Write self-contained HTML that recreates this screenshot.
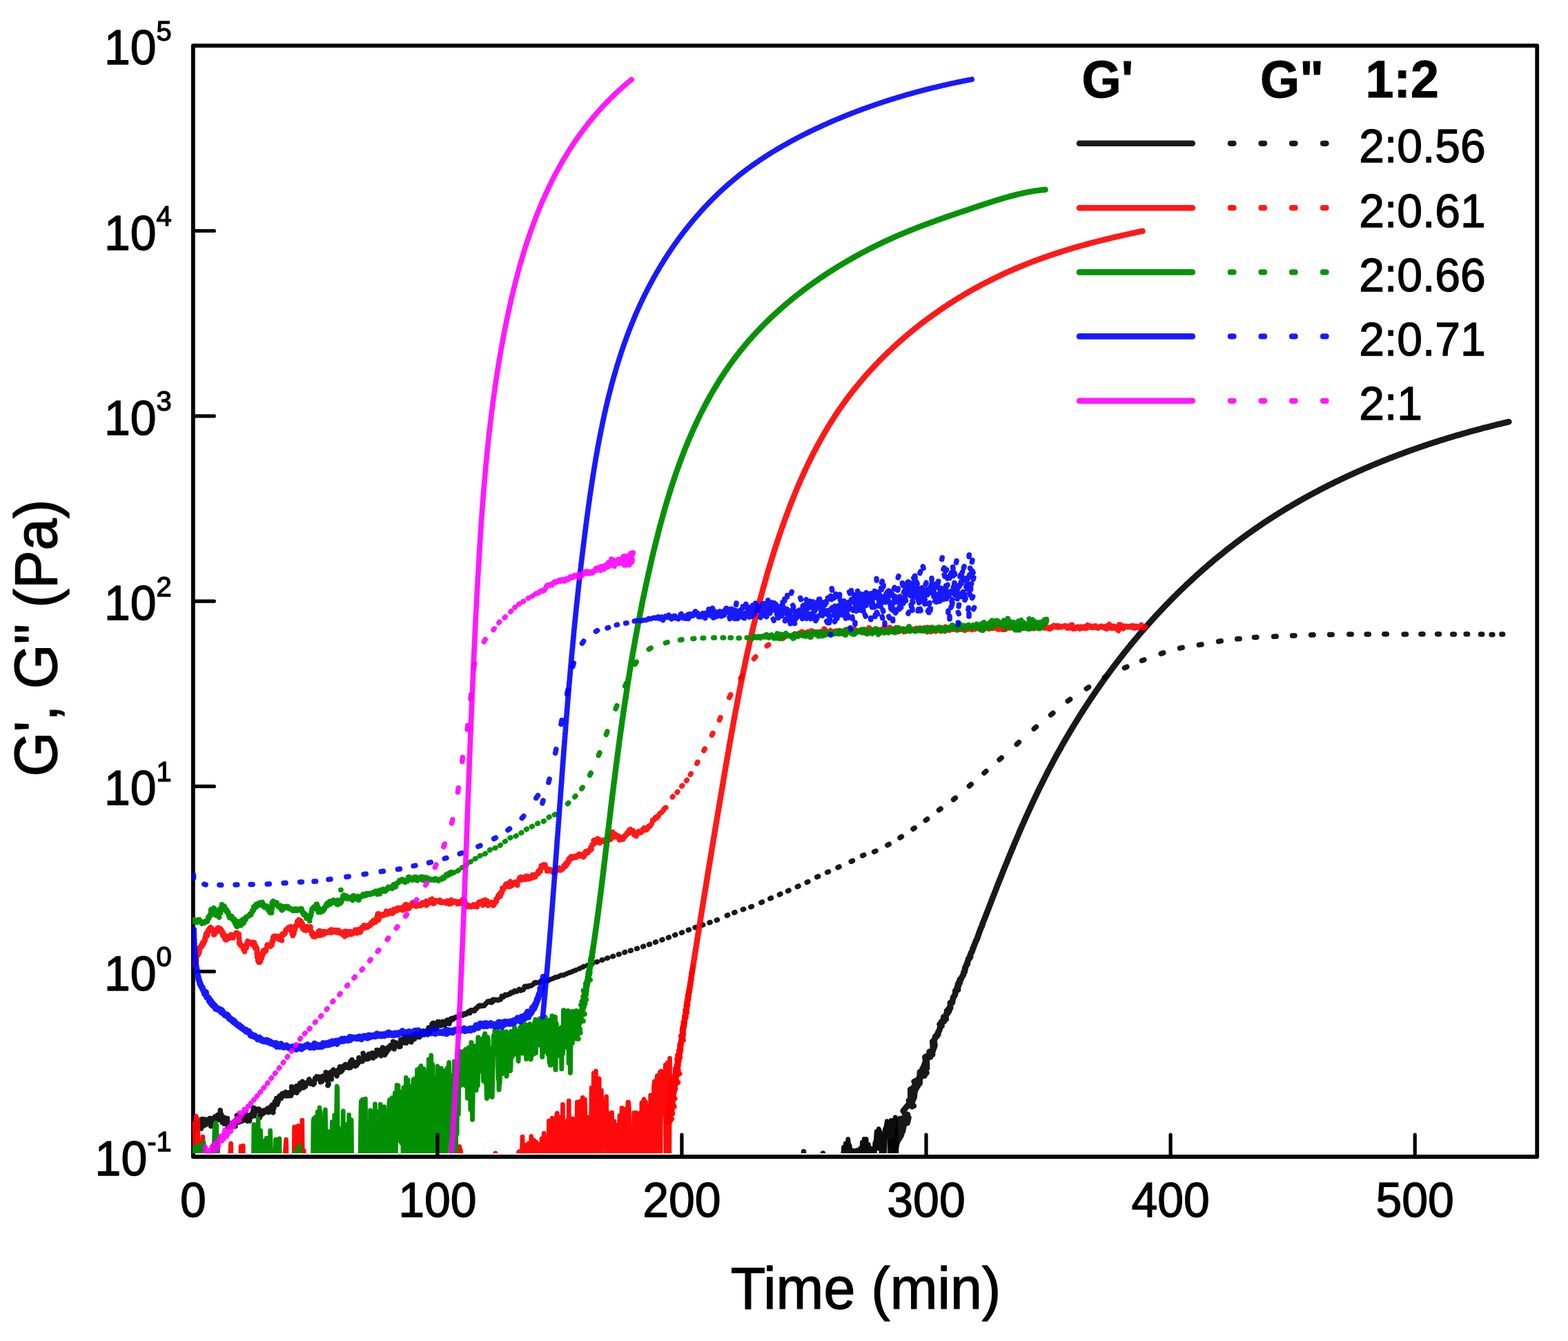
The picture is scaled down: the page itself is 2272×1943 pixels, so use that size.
<!DOCTYPE html>
<html lang="en">
<head>
<meta charset="utf-8">
<title>G', G" vs Time</title>
<style>
html,body{margin:0;padding:0;background:#fff;}
body{width:2272px;height:1943px;overflow:hidden;}
svg{display:block;}
text{font-family:"Liberation Sans",Arial,Helvetica,sans-serif;fill:#000;}
</style>
</head>
<body>
<svg width="2272" height="1943" viewBox="0 0 2272 1943">
<rect width="2272" height="1943" fill="#fff"/>
<defs><clipPath id="c"><rect x="278.6" y="66.2" width="1948.6" height="1604.7"/></clipPath></defs>
<g><rect x="279.8" y="66.2" width="1947.4" height="1609.8" fill="none" stroke="#000" stroke-width="5.8" stroke-linejoin="round"/></g>
<g clip-path="url(#c)">
<g><path d="M1219.4 1675.8L1220.9 1682.5L1222.6 1662.2L1224.1 1711.0L1225.3 1656.7L1226.7 1677.0L1228.8 1650.7L1230.2 1662.6L1231.2 1659.9L1232.9 1711.0L1234.3 1667.2L1235.7 1666.8L1237.6 1668.3L1239.3 1679.3L1240.8 1666.8L1242.4 1678.0L1243.3 1666.5L1245.1 1711.0L1246.8 1663.7L1247.9 1711.0L1249.4 1655.1L1251.1 1711.0L1252.2 1650.3L1253.8 1653.6L1255.2 1650.6L1257.0 1711.0L1258.3 1658.5L1259.8 1711.0L1261.5 1663.6L1263.0 1711.0L1264.8 1669.4L1266.3 1711.0L1267.7 1656.7L1269.2 1652.7L1270.2 1639.3L1272.1 1663.8L1273.3 1635.7L1275.3 1640.5L1276.6 1649.4L1277.7 1711.0L1279.3 1646.1L1281.0 1689.7L1282.3 1636.1L1283.9 1632.7L1285.3 1624.7L1287.0 1637.0L1288.5 1630.1L1289.8 1703.0L1291.2 1623.3L1293.3 1698.2L1294.1 1623.3L1296.2 1626.5L1297.2 1618.9L1298.9 1670.4" fill="none" stroke="#000000" stroke-width="6.8" stroke-linecap="round" stroke-linejoin="round" stroke-opacity="0.95"/><path d="M1164.5 1668.5L1164.6 1672.0M1192.5 1671.0L1192.6 1673.0" fill="none" stroke="#000000" stroke-width="7.5" stroke-linecap="round" stroke-linejoin="round" stroke-opacity="0.9"/><path d="M1297.8 1664.7L1298.2 1662.6L1299.8 1652.6L1291.5 1655.5L1295.0 1667.9L1299.0 1652.9L1294.8 1654.7L1298.6 1658.7L1304.3 1643.5L1303.4 1627.9L1300.2 1653.8L1305.9 1644.4L1303.7 1631.3L1299.6 1640.9L1311.2 1622.2L1307.8 1639.7L1309.6 1627.5L1305.0 1632.0L1303.9 1621.2L1305.1 1627.4L1310.1 1625.8L1309.7 1619.3L1307.6 1630.0L1310.5 1619.7L1314.6 1626.9L1316.4 1619.3L1312.6 1616.6L1314.0 1622.1L1315.0 1615.1L1314.6 1617.9L1308.8 1609.5L1318.5 1597.8L1323.6 1602.4L1317.0 1594.7L1320.9 1601.0L1317.1 1599.1L1321.6 1603.2L1320.9 1588.2L1319.3 1578.5L1319.5 1594.5L1323.7 1587.7L1322.1 1595.5L1324.6 1589.7L1325.6 1579.0L1329.5 1574.1L1322.7 1576.7L1324.8 1574.2L1325.9 1580.5L1328.3 1575.2L1324.8 1567.2L1332.4 1563.6L1333.3 1562.7L1331.8 1561.8L1332.3 1559.8L1332.0 1570.2L1332.5 1569.9L1333.0 1553.2L1335.0 1554.8L1339.5 1558.7L1338.9 1555.7L1342.4 1554.5L1339.0 1545.8L1336.7 1548.2L1341.4 1550.1L1338.3 1545.9L1341.3 1537.5L1342.7 1531.2L1343.0 1547.7L1341.3 1536.4L1340.4 1531.7L1346.2 1528.8L1345.5 1529.5L1345.6 1529.7L1347.9 1531.5L1349.3 1523.3L1351.1 1527.8L1346.7 1523.9L1351.6 1523.0L1351.9 1513.6L1351.3 1509.3L1352.3 1520.8L1354.4 1515.0L1353.3 1507.4L1353.2 1509.1L1354.4 1504.9L1358.1 1500.1L1355.3 1501.7L1357.8 1501.0L1356.8 1500.1L1359.4 1498.6L1358.9 1496.5L1361.4 1492.2L1361.6 1490.7L1364.4 1482.2L1361.6 1484.1L1363.8 1484.9L1364.5 1486.5L1363.9 1480.9L1366.3 1478.3L1367.8 1480.0L1367.4 1473.4L1370.7 1476.6L1370.2 1473.9L1370.5 1473.6L1371.3 1468.7L1372.8 1468.3L1372.1 1464.6L1374.7 1465.7L1376.2 1461.7L1374.5 1461.5L1377.2 1460.0L1377.1 1460.3L1376.9 1453.2L1377.7 1452.9L1379.3 1453.2L1380.1 1452.0L1380.0 1450.7L1380.7 1447.7L1381.4 1444.7L1382.9 1443.1L1384.1 1440.2L1384.3 1438.9L1384.3 1435.8L1384.8 1434.9L1388.1 1434.0L1386.9 1430.3L1388.8 1428.7L1387.9 1426.2L1389.0 1424.4L1390.8 1423.8L1390.3 1421.3L1391.3 1418.7L1391.8 1420.1L1393.2 1417.0L1394.6 1414.1L1395.2 1413.2L1395.7 1413.0L1396.5 1408.6L1397.4 1408.8L1398.3 1404.7L1398.2 1402.4L1399.0 1401.8L1400.4 1397.5L1400.8 1396.7L1401.8 1396.6L1401.9 1393.6L1402.6 1392.4L1403.1 1389.3L1404.2 1389.3L1406.1 1386.5L1405.5 1384.7L1406.3 1383.1L1407.0 1380.6L1408.1 1379.4L1408.8 1378.0L1409.6 1374.2L1410.5 1373.2L1410.8 1372.4L1411.5 1369.7L1412.3 1368.5L1413.1 1366.0L1413.6 1364.8L1414.4 1362.6L1415.6 1360.9L1416.5 1358.0L1416.9 1356.6L1417.6 1355.1L1418.3 1352.5L1418.9 1351.5L1419.5 1349.1L1420.3 1347.5L1420.9 1345.3L1421.8 1343.5L1422.8 1341.9L1423.2 1340.2L1423.9 1337.5L1424.6 1336.0L1425.5 1333.8L1426.2 1332.2L1426.9 1330.3L1427.7 1328.5L1428.3 1326.7L1429.1 1324.8L1429.8 1322.9L1430.5 1321.0L1431.3 1319.1L1432.0 1317.3L1432.7 1315.4L1433.4 1313.5L1434.2 1311.7L1434.9 1309.8L1435.6 1307.9L1436.3 1306.0L1437.1 1304.2L1437.8 1302.3L1438.5 1300.4L1439.2 1298.6L1440.0 1296.7L1440.7 1294.8L1441.4 1293.0L1442.2 1291.1L1442.9 1289.2L1443.6 1287.4L1444.4 1285.5L1445.1 1283.6L1445.8 1281.8L1446.6 1279.9L1447.3 1278.0L1448.0 1276.2L1448.8 1274.3L1449.5 1272.4L1450.3 1270.6L1451.0 1268.7L1451.8 1266.9L1452.5 1265.0L1453.2 1263.1L1454.0 1261.3L1454.7 1259.4L1455.5 1257.5L1456.2 1255.7L1457.0 1253.8L1457.7 1252.0L1458.5 1250.1L1459.3 1248.3L1460.0 1246.4L1460.8 1244.5L1461.5 1242.7L1462.3 1240.8L1463.0 1239.0L1463.8 1237.1L1464.6 1235.3L1465.3 1233.4L1466.1 1231.6L1466.9 1229.7L1467.7 1227.9L1468.4 1226.0L1469.2 1224.2L1470.0 1222.3L1470.8 1220.5L1471.5 1218.6L1472.3 1216.8L1473.1 1215.0L1473.9 1213.1L1474.7 1211.3L1475.5 1209.4L1476.3 1207.6L1477.0 1205.7L1477.8 1203.9L1478.6 1202.1L1479.4 1200.2L1480.2 1198.4L1481.0 1196.6L1481.8 1194.7L1482.7 1192.9L1483.5 1191.1L1484.3 1189.2L1485.1 1187.4L1485.9 1185.6L1486.7 1183.8L1487.5 1181.9L1488.4 1180.1L1489.2 1178.3L1490.0 1176.5L1490.9 1174.6L1491.7 1172.8L1492.5 1171.0L1493.4 1169.2L1494.2 1167.4L1495.0 1165.5L1495.9 1163.7L1496.7 1161.9L1497.6 1160.1L1498.4 1158.3L1499.3 1156.5L1500.2 1154.7L1501.0 1152.9L1501.9 1151.1L1502.7 1149.3L1503.6 1147.4L1504.5 1145.6L1505.4 1143.8L1506.2 1142.0L1507.1 1140.2L1508.0 1138.5L1508.9 1136.7L1509.8 1134.9L1510.7 1133.1L1511.6 1131.3L1512.5 1129.5L1513.4 1127.7L1514.3 1125.9L1515.2 1124.1L1516.1 1122.3L1517.0 1120.6L1517.9 1118.8L1518.8 1117.0L1519.8 1115.2L1520.7 1113.5L1521.6 1111.7L1522.6 1109.9L1523.5 1108.1L1524.4 1106.4L1525.4 1104.6L1526.3 1102.8L1527.3 1101.1L1528.2 1099.3L1529.2 1097.5L1530.1 1095.8L1531.1 1094.0L1532.1 1092.3L1533.0 1090.5L1534.0 1088.8L1535.0 1087.0L1536.0 1085.3L1537.0 1083.5L1537.9 1081.8L1538.9 1080.0L1539.9 1078.3L1540.9 1076.5L1541.9 1074.8L1542.9 1073.1L1543.9 1071.3L1544.9 1069.6L1545.9 1067.9L1546.9 1066.1L1548.0 1064.4L1549.0 1062.7L1550.0 1060.9L1551.0 1059.2L1552.1 1057.5L1553.1 1055.8L1554.1 1054.1L1555.2 1052.3L1556.2 1050.6L1557.3 1048.9L1558.3 1047.2L1559.4 1045.5L1560.4 1043.8L1561.5 1042.1L1562.5 1040.4L1563.6 1038.7L1564.7 1037.0L1565.7 1035.3L1566.8 1033.6L1567.9 1031.9L1569.0 1030.2L1570.0 1028.5L1571.1 1026.9L1572.2 1025.2L1573.3 1023.5L1574.4 1021.8L1575.5 1020.1L1576.6 1018.5L1577.7 1016.8L1578.8 1015.1L1579.9 1013.4L1581.0 1011.8L1582.2 1010.1L1583.3 1008.5L1584.4 1006.8L1585.5 1005.1L1586.7 1003.5L1587.8 1001.8L1588.9 1000.2L1590.1 998.5L1591.2 996.9L1592.4 995.2L1593.5 993.6L1594.7 992.0L1595.8 990.3L1597.0 988.7L1598.1 987.1L1599.3 985.4L1600.5 983.8L1601.6 982.2L1602.8 980.5L1604.0 978.9L1605.2 977.3L1606.4 975.7L1607.5 974.1L1608.7 972.5L1609.9 970.9L1611.1 969.3L1612.3 967.6L1613.5 966.0L1614.7 964.4L1615.9 962.8L1617.1 961.3L1618.4 959.7L1619.6 958.1L1620.8 956.5L1622.0 954.9L1623.3 953.3L1624.5 951.7L1625.7 950.2L1627.0 948.6L1628.2 947.0L1629.4 945.4L1630.7 943.9L1631.9 942.3L1633.2 940.8L1634.4 939.2L1635.7 937.6L1637.0 936.1L1638.2 934.5L1639.5 933.0L1640.8 931.4L1642.0 929.9L1643.3 928.4L1644.6 926.8L1645.9 925.3L1647.2 923.8L1648.5 922.2L1649.7 920.7L1651.0 919.2L1652.3 917.7L1653.6 916.1L1654.9 914.6L1656.3 913.1L1657.6 911.6L1658.9 910.1L1660.2 908.6L1661.5 907.1L1662.8 905.6L1664.2 904.1L1665.5 902.6L1666.8 901.1L1668.2 899.6L1669.5 898.1L1670.8 896.7L1672.2 895.2L1673.5 893.7L1674.9 892.2L1676.2 890.8L1677.6 889.3L1679.0 887.8L1680.3 886.4L1681.7 884.9L1683.1 883.5L1684.4 882.0L1685.8 880.6L1687.2 879.1L1688.6 877.7L1689.9 876.2L1691.3 874.8L1692.7 873.4L1694.1 871.9L1695.5 870.5L1696.9 869.1L1698.3 867.7L1699.7 866.2L1701.1 864.8L1702.6 863.4L1704.0 862.0L1705.4 860.6L1706.8 859.2L1708.2 857.8L1709.7 856.4L1711.1 855.0L1712.5 853.6L1714.0 852.2L1715.4 850.9L1716.8 849.5L1718.3 848.1L1719.7 846.7L1721.2 845.4L1722.6 844.0L1724.1 842.6L1725.6 841.3L1727.0 839.9L1728.5 838.6L1730.0 837.2L1731.4 835.9L1732.9 834.5L1734.4 833.2L1735.9 831.9L1737.4 830.5L1738.9 829.2L1740.3 827.9L1741.8 826.5L1743.3 825.2L1744.8 823.9L1746.3 822.6L1747.8 821.3L1749.4 820.0L1750.9 818.7L1752.4 817.4L1753.9 816.1L1755.4 814.8L1757.0 813.5L1758.5 812.2L1760.0 810.9L1761.5 809.7L1763.1 808.4L1764.6 807.1L1766.2 805.9L1767.7 804.6L1769.3 803.3L1770.8 802.1L1772.4 800.8L1773.9 799.6L1775.5 798.3L1777.1 797.1L1778.6 795.8L1780.2 794.6L1781.8 793.4L1783.3 792.2L1784.9 790.9L1786.5 789.7L1788.1 788.5L1789.7 787.3L1791.3 786.1L1792.9 784.9L1794.5 783.7L1796.1 782.5L1797.7 781.3L1799.3 780.1L1800.9 778.9L1802.5 777.7L1804.1 776.6L1805.7 775.4L1807.3 774.2L1809.0 773.0L1810.6 771.9L1812.2 770.7L1813.9 769.6L1815.5 768.4L1817.1 767.3L1818.8 766.1L1820.4 765.0L1822.1 763.9L1823.7 762.7L1825.4 761.6L1827.0 760.5L1828.7 759.4L1830.4 758.2L1832.0 757.1L1833.7 756.0L1835.4 754.9L1837.0 753.8L1838.7 752.7L1840.4 751.6L1842.1 750.6L1843.8 749.5L1845.5 748.4L1847.1 747.3L1848.8 746.2L1850.5 745.2L1852.2 744.1L1853.9 743.0L1855.6 742.0L1857.4 740.9L1859.1 739.9L1860.8 738.8L1862.5 737.8L1864.2 736.8L1865.9 735.7L1867.7 734.7L1869.4 733.7L1871.1 732.7L1872.8 731.6L1874.6 730.6L1876.3 729.6L1878.1 728.6L1879.8 727.6L1881.5 726.6L1883.3 725.6L1885.0 724.6L1886.8 723.6L1888.5 722.7L1890.3 721.7L1892.1 720.7L1893.8 719.7L1895.6 718.8L1897.3 717.8L1899.1 716.8L1900.9 715.9L1902.7 714.9L1904.4 714.0L1906.2 713.0L1908.0 712.1L1909.8 711.2L1911.6 710.2L1913.3 709.3L1915.1 708.4L1916.9 707.4L1918.7 706.5L1920.5 705.6L1922.3 704.7L1924.1 703.8L1925.9 702.9L1927.7 702.0L1929.5 701.1L1931.3 700.2L1933.1 699.3L1934.9 698.4L1936.7 697.5L1938.5 696.7L1940.4 695.8L1942.2 694.9L1944.0 694.0L1945.8 693.2L1947.6 692.3L1949.5 691.5L1951.3 690.6L1953.1 689.8L1955.0 688.9L1956.8 688.1L1958.6 687.2L1960.5 686.4L1962.3 685.6L1964.1 684.7L1966.0 683.9L1967.8 683.1L1969.7 682.3L1971.5 681.5L1973.3 680.7L1975.2 679.8L1977.0 679.0L1978.9 678.2L1980.7 677.4L1982.6 676.7L1984.5 675.9L1986.3 675.1L1988.2 674.3L1990.0 673.5L1991.9 672.7L1993.8 672.0L1995.6 671.2L1997.5 670.4L1999.4 669.7L2001.2 668.9L2003.1 668.2L2005.0 667.4L2006.8 666.7L2008.7 665.9L2010.6 665.2L2012.5 664.4L2014.3 663.7L2016.2 663.0L2018.1 662.3L2020.0 661.5L2021.9 660.8L2023.7 660.1L2025.6 659.4L2027.5 658.7L2029.4 658.0L2031.3 657.3L2033.2 656.6L2035.1 655.9L2037.0 655.2L2038.9 654.5L2040.7 653.8L2042.6 653.1L2044.5 652.4L2046.4 651.8L2048.3 651.1L2050.2 650.4L2052.1 649.8L2054.0 649.1L2055.9 648.4L2057.8 647.8L2059.7 647.1L2061.6 646.5L2063.5 645.8L2065.4 645.2L2067.3 644.6L2069.2 643.9L2071.2 643.3L2073.1 642.7L2075.0 642.0L2076.9 641.4L2078.8 640.8L2080.7 640.2L2082.6 639.6L2084.5 639.0L2086.4 638.4L2088.3 637.8L2090.2 637.2L2092.2 636.6L2094.1 636.0L2096.0 635.4L2097.9 634.8L2099.8 634.2L2101.7 633.6L2103.7 633.0L2105.6 632.5L2107.5 631.9L2109.4 631.3L2111.3 630.8L2113.2 630.2L2115.2 629.7L2117.1 629.1L2119.0 628.5L2120.9 628.0L2122.8 627.5L2124.7 626.9L2126.7 626.4L2128.6 625.8L2130.5 625.3L2132.4 624.8L2134.3 624.2L2136.3 623.7L2138.2 623.2L2140.1 622.7L2142.0 622.2L2144.0 621.7L2145.9 621.2L2147.8 620.6L2149.7 620.1L2151.6 619.6L2153.6 619.2L2155.5 618.7L2157.4 618.2L2159.3 617.7L2161.2 617.2L2163.2 616.7L2165.1 616.2L2167.0 615.8L2168.9 615.3L2170.8 614.8L2172.8 614.4L2174.7 613.9L2176.6 613.4L2178.5 613.0L2180.4 612.5L2182.4 612.1L2184.3 611.6L2186.2 611.2" fill="none" stroke="#000000" stroke-width="8.8" stroke-linecap="round" stroke-linejoin="round" stroke-opacity="0.9"/><path d="M282.6 1627.8L281.5 1630.0M283.4 1633.5L282.8 1636.0M285.6 1631.1L284.6 1633.4M286.4 1625.4L286.7 1627.9M288.3 1627.6L287.8 1630.1M289.8 1630.0L289.2 1632.4M291.4 1632.7L291.3 1635.2M292.9 1621.6L292.7 1624.1M294.5 1629.3L293.9 1631.7M295.9 1624.8L296.2 1627.2M297.3 1622.0L297.6 1624.4M299.4 1627.5L298.2 1629.7M299.9 1625.3L300.4 1627.7M301.4 1623.2L301.6 1625.7M303.0 1623.9L302.7 1626.3M303.7 1620.4L304.7 1622.7M306.4 1629.4L305.6 1631.7M307.3 1620.7L307.4 1623.2M309.0 1624.2L308.5 1626.6M310.8 1627.2L309.6 1629.4M311.6 1618.1L311.7 1620.6M312.6 1620.8L313.5 1623.2M314.4 1616.8L314.6 1619.3M316.0 1615.2L315.9 1617.7M318.0 1620.1L317.4 1622.5M319.2 1608.7L319.3 1611.2M320.6 1614.9L320.1 1617.4M321.7 1619.5L321.1 1621.9M322.6 1623.8L322.2 1626.3M323.1 1621.6L323.6 1624.1M323.5 1625.9L324.6 1628.2M324.9 1619.3L325.2 1621.7M326.3 1625.6L325.9 1628.0M328.1 1623.0L327.1 1625.3M329.3 1620.4L329.3 1622.9M331.7 1631.0L330.5 1633.2M332.9 1627.6L332.2 1630.0M334.1 1627.4L333.9 1629.9M335.4 1629.1L335.7 1631.6M337.8 1626.9L337.4 1629.4M339.6 1625.1L338.7 1627.4M340.4 1629.5L341.0 1631.9M342.7 1621.4L341.8 1623.7M343.3 1616.1L344.3 1618.4M344.8 1620.6L345.8 1622.9M347.2 1623.6L346.3 1626.0M349.0 1618.7L348.2 1621.1M349.8 1622.0L350.2 1624.5M351.1 1620.4L351.5 1622.9M352.6 1619.5L353.6 1621.8M354.4 1620.6L354.5 1623.1M356.3 1614.6L355.3 1616.8M357.0 1614.9L357.2 1617.4M359.4 1621.9L358.3 1624.2M360.7 1617.2L359.7 1619.5M361.5 1621.6L361.6 1624.1M362.6 1616.4L363.1 1618.8M364.2 1614.6L364.2 1617.1M366.0 1612.1L366.0 1614.6M367.6 1605.1L367.1 1607.6M369.1 1614.4L368.3 1616.8M370.2 1607.8L370.9 1610.2M372.4 1607.5L371.5 1609.8M373.4 1607.3L373.3 1609.8M375.0 1607.0L374.4 1609.5M376.6 1616.7L376.5 1619.2M378.4 1609.4L377.5 1611.7M379.2 1612.0L379.4 1614.5M380.7 1610.7L381.7 1613.0M382.6 1609.1L382.6 1611.6M384.3 1608.9L383.8 1611.4M386.0 1608.3L385.9 1610.8M387.8 1606.0L387.2 1608.4M388.5 1609.3L389.6 1611.6M391.1 1606.6L390.2 1609.0M392.4 1603.6L392.0 1606.0M394.3 1601.1L393.9 1603.6M394.9 1609.6L395.8 1611.9M396.9 1603.7L396.6 1606.2M398.2 1596.4L397.7 1598.8M398.5 1598.8L399.2 1601.2M400.3 1596.8L399.5 1599.2M400.6 1591.4L400.7 1593.9M401.0 1593.3L401.9 1595.6M402.2 1597.9L401.7 1600.3M403.0 1593.5L403.2 1596.0M404.4 1590.3L403.6 1592.7M405.1 1588.0L404.8 1590.4M406.4 1588.1L406.4 1590.6M407.9 1588.9L407.2 1591.4M409.0 1584.6L409.4 1587.1M411.1 1586.2L410.0 1588.5M412.2 1583.7L412.5 1586.1M414.2 1582.5L413.2 1584.8M414.8 1585.6L415.5 1588.0M416.5 1584.8L416.6 1587.3M418.0 1585.4L419.0 1587.6M420.5 1582.3L419.4 1584.5M421.3 1585.0L421.5 1587.5M422.6 1574.7L422.9 1577.2M424.2 1580.8L425.0 1583.2M426.3 1576.1L425.5 1578.5M426.9 1579.9L427.6 1582.3M429.6 1573.7L428.5 1575.9M430.8 1581.0L430.0 1583.3M431.8 1576.1L431.6 1578.6M433.4 1576.3L433.6 1578.8M434.8 1569.4L434.9 1571.9M436.2 1573.6L436.1 1576.1M438.3 1567.2L437.6 1569.6M439.0 1573.5L439.6 1576.0M441.7 1569.3L440.5 1571.5M442.5 1571.7L442.4 1574.2M444.3 1569.3L443.4 1571.6M446.0 1567.5L445.3 1569.9M447.5 1567.0L446.6 1569.3M447.9 1563.9L449.0 1566.2M450.6 1567.8L449.9 1570.2M451.7 1567.6L451.7 1570.1M453.2 1568.9L453.9 1571.3M454.6 1567.3L455.3 1569.7M456.5 1562.6L456.2 1565.1M458.8 1560.0L457.6 1562.2M459.6 1560.3L459.6 1562.8M461.2 1560.3L460.9 1562.7M462.5 1561.4L463.3 1563.8M464.1 1565.2L464.5 1567.7M465.9 1564.3L466.4 1566.8M467.2 1559.3L468.0 1561.7M469.3 1559.6L468.6 1562.0M470.5 1561.1L471.2 1563.5M472.2 1553.8L472.4 1556.3M473.6 1564.4L474.6 1566.7M476.1 1570.5L475.0 1572.7M477.5 1555.4L476.3 1557.6M478.8 1553.7L478.8 1556.2M480.0 1561.3L480.3 1563.8M481.6 1554.2L482.4 1556.5M483.0 1550.1L483.6 1552.5M484.9 1552.5L485.2 1555.0M485.9 1553.7L486.8 1556.1M487.2 1556.6L488.1 1559.0M489.8 1550.3L488.9 1552.7M490.3 1551.6L490.9 1554.0M492.5 1545.8L492.1 1548.2M493.1 1550.7L493.9 1553.0M495.2 1550.1L494.4 1552.4M496.8 1548.3L496.1 1550.7M497.2 1544.9L498.4 1547.1M499.2 1543.8L499.8 1546.2M500.4 1542.4L501.2 1544.8M503.2 1544.3L502.0 1546.5M504.1 1543.4L503.8 1545.9M506.3 1544.9L505.3 1547.2M507.7 1538.5L506.7 1540.8M509.1 1544.4L508.0 1546.7M509.9 1535.6L511.0 1537.9M512.0 1540.4L511.7 1542.9M514.0 1539.8L513.5 1542.3M515.7 1542.5L514.6 1544.7M517.3 1540.9L516.8 1543.4M518.4 1538.3L518.5 1540.8M520.0 1532.6L520.7 1535.0M521.5 1535.5L521.9 1538.0M523.6 1535.1L522.6 1537.4M525.1 1535.3L524.8 1537.8M526.1 1526.2L526.6 1528.7M528.8 1532.5L527.6 1534.7M529.4 1532.2L529.8 1534.7M531.2 1530.1L531.8 1532.5M532.5 1531.8L533.3 1534.2M534.4 1527.4L535.1 1529.8M535.5 1530.1L536.7 1532.3M538.2 1527.9L537.7 1530.3M539.4 1525.8L539.4 1528.3M541.6 1530.5L540.8 1532.9M542.9 1528.3L542.3 1530.7M544.6 1527.7L544.4 1530.2M546.0 1521.6L545.8 1524.1M547.5 1522.0L547.1 1524.5M549.3 1522.4L549.0 1524.9M550.7 1521.8L550.4 1524.3M552.8 1527.2L552.0 1529.6M554.2 1517.9L553.4 1520.3M555.6 1524.9L555.7 1527.4M556.6 1526.2L557.5 1528.5M558.5 1519.2L559.2 1521.6M560.7 1522.8L559.8 1525.1M561.8 1519.1L562.3 1521.6M563.1 1517.2L563.7 1519.6M565.8 1514.6L564.6 1516.8M567.0 1514.8L566.1 1517.1M568.5 1514.9L568.1 1517.4M569.6 1509.2L569.7 1511.7M571.7 1517.4L571.1 1519.8M573.3 1511.6L572.2 1513.8M574.1 1511.0L575.0 1513.3M575.7 1512.5L576.1 1515.0M577.2 1514.2L578.1 1516.5M579.0 1514.0L580.0 1516.3M580.6 1506.4L581.1 1508.8M583.3 1508.4L582.2 1510.7M584.0 1508.4L584.3 1510.9M586.0 1502.6L586.0 1505.1M587.7 1508.6L587.1 1511.0M589.7 1508.7L588.8 1511.0M590.4 1502.4L591.0 1504.8M592.8 1505.1L592.3 1507.5M593.9 1502.3L594.0 1504.8M595.9 1507.3L595.8 1509.8M597.0 1504.4L597.4 1506.9M599.3 1499.5L598.8 1502.0M600.3 1502.8L600.4 1505.3M602.5 1500.3L601.9 1502.7M603.7 1497.7L604.3 1500.1M605.8 1499.9L604.8 1502.2M606.8 1500.2L607.4 1502.7M608.7 1499.4L608.1 1501.9M610.7 1496.0L609.8 1498.3M611.0 1496.6L612.1 1498.8M613.0 1493.9L613.7 1496.3M614.2 1495.5L615.1 1497.8M616.0 1495.0L616.9 1497.3M617.4 1493.7L618.2 1496.1M620.1 1496.0L619.1 1498.3M621.1 1489.1L621.7 1491.6M622.5 1493.2L622.9 1495.7M624.7 1488.8L624.3 1491.2M625.9 1484.1L625.8 1486.6M627.4 1482.4L627.8 1484.8M628.6 1483.4L629.3 1485.8M631.0 1488.6L630.5 1491.1M632.4 1490.2L632.7 1489.2M633.6 1481.5L634.2 1480.7M635.4 1481.3L636.0 1480.6M636.6 1485.6L637.5 1485.1M638.7 1486.1L639.1 1485.2M640.4 1481.3L641.1 1480.6M641.8 1482.5L642.5 1481.9M643.5 1485.3L644.5 1485.5M644.9 1480.3L645.9 1480.5M646.9 1482.0L647.7 1481.4M648.2 1478.0L649.2 1478.0M650.1 1482.8L651.0 1483.2M651.9 1478.9L652.9 1478.8M653.4 1476.1L654.2 1475.6M655.2 1477.0L656.2 1477.0M657.0 1475.2L658.0 1475.1M658.8 1474.9L659.8 1474.8M660.6 1473.7L661.5 1474.0M662.5 1473.6L663.3 1473.0M664.9 1472.6L665.4 1471.7M666.5 1469.8L667.4 1470.0M668.7 1470.7L669.7 1470.7M670.8 1471.0L671.3 1470.2M672.8 1468.8L673.8 1468.7M675.2 1469.4L676.0 1468.8M677.6 1467.0L678.2 1466.2M679.7 1467.5L680.7 1467.7M682.0 1464.1L683.0 1464.3M684.3 1463.8L685.3 1463.9M686.6 1464.7L687.5 1464.5M689.3 1461.5L690.3 1461.4M691.9 1459.7L692.3 1458.8M693.9 1457.4L694.8 1457.0M696.7 1457.7L697.6 1457.2M698.9 1457.1L699.9 1457.3M701.8 1456.9L702.5 1456.2M704.0 1454.0L704.9 1453.6M706.7 1451.2L707.6 1451.0M708.9 1450.8L709.9 1450.8M711.7 1452.4L712.7 1452.3M714.0 1448.7L714.9 1448.3M716.8 1449.2L717.5 1448.6M719.0 1448.7L719.9 1448.9M721.8 1449.1L722.6 1448.6M724.4 1447.8L725.4 1448.1M727.2 1443.4L728.2 1443.5M729.6 1444.2L730.2 1443.4M732.2 1441.4L733.2 1441.8M735.0 1441.6L735.9 1441.1M737.7 1440.4L738.7 1440.3M740.5 1438.1L741.5 1437.9M743.5 1438.1L743.9 1437.2M746.0 1435.7L747.0 1436.1M748.8 1436.5L749.7 1436.0M751.8 1434.2L752.3 1433.4M754.4 1435.1L755.3 1434.6M757.1 1433.9L758.1 1434.0M760.0 1429.7L760.8 1429.1M762.9 1429.9L763.5 1429.1M765.7 1429.3L766.3 1428.5M768.3 1428.3L769.3 1428.2M771.7 1427.0L772.5 1426.3M774.5 1424.0L775.4 1423.6M777.3 1423.9L778.2 1423.8M780.9 1423.6L781.2 1423.5M783.8 1421.3L784.1 1421.2M787.2 1421.8L787.5 1421.7M790.5 1420.9L790.8 1420.8M793.9 1420.9L794.2 1420.8M797.3 1419.1L797.6 1419.0M801.2 1417.7L801.5 1417.6M804.5 1416.1L804.8 1416.0M808.4 1415.3L808.7 1415.2M812.7 1413.2L812.9 1413.1M816.4 1412.9L816.7 1412.8M820.6 1411.0L820.9 1410.9M824.8 1409.3L825.2 1409.2M829.4 1407.6L829.8 1407.4M834.0 1405.8L834.5 1405.6M839.5 1403.4L840.0 1403.2M845.0 1400.8L845.6 1400.5M851.1 1398.9L851.7 1398.7M857.6 1396.2L858.3 1396.0M864.6 1393.8L865.4 1393.5M872.2 1391.0L873.0 1390.8M879.7 1388.3L880.6 1388.0M887.7 1385.8L888.6 1385.5M896.3 1382.8L897.2 1382.5M904.8 1380.0L905.8 1379.6M913.4 1377.4L914.4 1377.1M922.5 1374.5L923.4 1374.2M931.5 1371.5L932.5 1371.2M940.5 1368.4L941.5 1368.1M949.4 1365.2L950.5 1364.8M958.9 1361.9L959.9 1361.5M968.3 1358.5L969.3 1358.2M977.7 1354.9L978.7 1354.5M987.5 1351.4L988.6 1351.0M997.3 1347.6L998.4 1347.2M1007.1 1343.9L1008.3 1343.5M1017.5 1340.4L1018.7 1340.0M1027.9 1336.8L1029.1 1336.4M1038.3 1333.2L1039.5 1332.8" fill="none" stroke="#000000" stroke-width="7.5" stroke-linecap="round" stroke-linejoin="round" stroke-opacity="0.9"/><path d="M1053.3 1326.5L1054.5 1326.0M1063.8 1322.3L1065.1 1321.8M1076.3 1317.8L1077.7 1317.3M1087.8 1314.0L1089.4 1313.4M1102.8 1307.7L1104.5 1307.0M1115.8 1301.9L1117.4 1301.2M1129.4 1296.1L1130.9 1295.4M1141.5 1290.9L1143.1 1290.2M1155.3 1284.7L1157.0 1284.0M1169.2 1278.4L1170.9 1277.6M1183.8 1270.7L1185.6 1269.8M1198.7 1263.9L1200.5 1263.1M1214.0 1256.9L1216.1 1255.9M1233.2 1248.2L1235.5 1247.2M1249.7 1239.8L1251.8 1238.9M1266.6 1234.1L1268.9 1233.1M1285.9 1224.6L1288.2 1223.3M1304.0 1213.7L1306.4 1212.2M1323.0 1201.2L1325.3 1199.6M1341.3 1188.5L1343.7 1186.8M1360.5 1173.8L1363.1 1171.8M1381.6 1158.5L1384.4 1156.2M1404.4 1138.9L1407.2 1136.4M1426.0 1120.0L1428.8 1117.5M1448.1 1100.7L1451.2 1098.0M1473.1 1078.5L1476.4 1075.5M1498.2 1056.0L1501.5 1053.2M1522.6 1035.8L1525.8 1033.2M1547.2 1015.7L1550.6 1013.2M1574.2 997.8L1577.6 995.6M1600.4 981.4L1604.0 979.5M1629.4 967.7L1632.9 966.2M1654.5 957.2L1657.9 955.9M1682.2 947.1L1685.8 945.9M1709.6 939.2L1713.2 938.4M1737.4 934.4L1741.0 933.8M1765.6 929.4L1769.2 928.8M1792.8 925.8L1796.1 925.5M1817.4 923.4L1820.9 923.2M1845.6 922.2L1849.1 922.1M1872.6 921.1L1876.1 920.9M1899.6 919.9L1903.1 919.8M1926.6 919.5L1930.2 919.4M1954.9 919.1L1958.3 919.1M1980.1 919.1L1983.3 919.1M2005.8 918.7L2009.3 918.7M2034.1 919.1L2037.5 919.1M2058.9 918.7L2062.0 918.7M2082.6 918.7L2085.5 918.7M2104.7 919.1L2107.3 919.1M2124.1 918.7L2126.6 918.7M2145.4 919.0L2147.7 919.1M2161.1 919.5L2162.9 919.5M2175.8 919.1L2177.6 919.1" fill="none" stroke="#000000" stroke-width="7.5" stroke-linecap="round" stroke-linejoin="round" stroke-opacity="0.9"/></g>
<g><path d="M281.0 1627.5L281.8 1636.6L282.6 1696.0L283.4 1635.2L284.2 1617.2L285.0 1696.0L285.8 1692.6L286.6 1621.2L287.4 1696.0L288.2 1680.4L289.0 1696.0L289.8 1696.0L290.6 1657.3L291.4 1696.0L292.2 1656.1L293.0 1696.0L293.8 1647.1L294.6 1696.0L295.4 1696.0L296.2 1696.0L297.0 1692.1L297.8 1696.0L298.6 1696.0L299.4 1696.0L300.2 1696.0L301.0 1696.0L301.8 1680.5L302.6 1696.0L303.4 1696.0L304.2 1696.0L305.0 1696.0L305.8 1691.7L306.6 1696.0L307.4 1680.6L308.2 1696.0L309.0 1696.0L309.8 1696.0L310.6 1696.0L311.4 1696.0L312.2 1696.0L313.0 1684.9L313.8 1696.0L314.6 1696.0L315.4 1696.0L316.2 1696.0L317.0 1696.0L317.8 1680.2L318.6 1696.0L319.4 1696.0L320.2 1689.3L321.0 1696.0L321.8 1696.0L322.6 1696.0L323.4 1696.0L324.2 1696.0L325.0 1696.0L325.8 1696.0L326.6 1696.0L327.4 1696.0L328.2 1696.0L329.0 1696.0L329.8 1696.0L330.6 1696.0L331.4 1696.0L332.2 1696.0L333.0 1696.0L333.8 1668.1L334.6 1656.8L335.4 1696.0L336.2 1696.0L337.0 1675.4L337.8 1696.0L338.6 1696.0L339.4 1696.0L340.2 1696.0L341.0 1696.0L341.8 1696.0L342.6 1696.0L343.4 1696.0L344.2 1696.0L345.0 1696.0L345.8 1696.0L346.6 1696.0L347.4 1696.0L348.2 1696.0L349.0 1660.9L349.8 1696.0L350.6 1691.0L351.4 1676.2L352.2 1660.1L353.0 1696.0L353.8 1696.0L354.6 1689.7L355.4 1696.0L356.2 1696.0L357.0 1696.0L357.8 1696.0L358.6 1683.2L359.4 1696.0L360.2 1696.0L361.0 1690.5L361.8 1696.0L362.6 1696.0L363.4 1696.0L364.2 1696.0L365.0 1696.0L365.8 1679.8L366.6 1696.0L367.4 1696.0L368.2 1696.0L369.0 1696.0L369.8 1696.0L370.6 1696.0L371.4 1696.0L372.2 1696.0L373.0 1696.0L373.8 1696.0L374.6 1696.0L375.4 1696.0L376.2 1696.0L377.0 1696.0L377.8 1696.0L378.6 1679.9L379.4 1696.0L380.2 1696.0L381.0 1681.2L381.8 1696.0L382.6 1696.0L383.4 1696.0L384.2 1694.7L385.0 1696.0L385.8 1696.0L386.6 1696.0L387.4 1696.0L388.2 1678.9L389.0 1685.7L389.8 1696.0L390.6 1696.0L391.4 1681.0L392.2 1696.0L393.0 1696.0L393.8 1696.0L394.6 1696.0L395.4 1696.0L396.2 1696.0L397.0 1696.0L397.8 1696.0L398.6 1696.0L399.4 1696.0L400.2 1696.0L401.0 1696.0L401.8 1696.0L402.6 1696.0L403.4 1696.0L404.2 1696.0L405.0 1696.0L405.8 1696.0L406.6 1696.0L407.4 1696.0L408.2 1696.0L409.0 1696.0L409.8 1683.2L410.6 1696.0L411.4 1678.7L412.2 1687.7L413.0 1672.4L413.8 1661.4L414.6 1651.0L415.4 1696.0L416.2 1696.0L417.0 1678.2L417.8 1696.0L418.6 1696.0L419.4 1696.0L420.2 1677.9L421.0 1696.0L421.8 1696.0L422.6 1696.0L423.4 1695.7L424.2 1687.1L425.0 1682.5L425.8 1696.0L426.6 1632.9L427.4 1696.0L428.2 1696.0L429.0 1649.8L429.8 1661.1L430.6 1696.0L431.4 1696.0L432.2 1631.0L433.0 1634.6L433.8 1696.0L434.6 1696.0L435.4 1642.7L436.2 1658.9L437.0 1696.0L437.8 1623.1L438.6 1696.0L439.4 1696.0L440.2 1667.3L441.0 1696.0L441.8 1677.9L442.6 1696.0L443.4 1696.0L444.2 1692.6L445.0 1696.0L445.8 1696.0L446.6 1696.0L447.4 1677.9L448.2 1696.0L449.0 1696.0L449.8 1686.9L450.6 1696.0L451.4 1696.0L452.2 1696.0L453.0 1696.0L453.8 1696.0L454.6 1696.0L455.4 1683.9L456.2 1696.0L457.0 1696.0L457.8 1696.0L458.6 1694.8L459.4 1696.0L460.2 1696.0L461.0 1696.0L461.8 1696.0L462.6 1696.0L463.4 1696.0L464.2 1679.9L465.0 1696.0L465.8 1695.8L466.6 1696.0L467.4 1695.1L468.2 1696.0L469.0 1696.0L469.8 1684.7L470.6 1696.0L471.4 1696.0L472.2 1682.4L473.0 1696.0L473.8 1696.0L474.6 1676.9L475.4 1696.0L476.2 1688.6L477.0 1696.0L477.8 1696.0L478.6 1696.0L479.4 1696.0L480.2 1680.8L481.0 1693.4L481.8 1696.0L482.6 1696.0L483.4 1696.0L484.2 1696.0L485.0 1696.0L485.8 1696.0L486.6 1685.2L487.4 1696.0L488.2 1696.0L489.0 1696.0L489.8 1696.0L490.6 1679.8L491.4 1696.0L492.2 1696.0L493.0 1696.0L493.8 1696.0L494.6 1696.0L495.4 1696.0L496.2 1696.0L497.0 1696.0L497.8 1696.0L498.6 1678.5L499.4 1696.0L500.2 1696.0L501.0 1696.0L501.8 1696.0L502.6 1689.5L503.4 1696.0L504.2 1687.8L505.0 1680.7L505.8 1696.0L506.6 1696.0L507.4 1696.0L508.2 1681.5L509.0 1696.0L509.8 1696.0L510.6 1696.0L511.4 1696.0L512.2 1696.0L513.0 1696.0L513.8 1696.0L514.6 1687.4L515.4 1696.0L516.2 1696.0L517.0 1686.9L517.8 1696.0L518.6 1693.0L519.4 1683.7L520.2 1696.0L521.0 1696.0L521.8 1696.0L522.6 1682.3L523.4 1696.0L524.2 1696.0L525.0 1696.0L525.8 1696.0L526.6 1689.4L527.4 1696.0L528.2 1696.0L529.0 1682.6L529.8 1696.0L530.6 1696.0L531.4 1696.0L532.2 1683.2L533.0 1696.0L533.8 1696.0L534.6 1696.0L535.4 1688.6L536.2 1696.0L537.0 1696.0L537.8 1696.0L538.6 1696.0L539.4 1678.7L540.2 1696.0L541.0 1689.8L541.8 1696.0L542.6 1696.0L543.4 1696.0L544.2 1696.0L545.0 1696.0L545.8 1696.0L546.6 1696.0L547.4 1696.0L548.2 1696.0L549.0 1696.0L549.8 1696.0L550.6 1695.4L551.4 1696.0L552.2 1696.0L553.0 1696.0L553.8 1684.8L554.6 1696.0L555.4 1696.0L556.2 1696.0L557.0 1696.0L557.8 1696.0L558.6 1696.0L559.4 1687.6L560.2 1696.0L561.0 1693.1L561.8 1685.5L562.6 1696.0L563.4 1696.0L564.2 1696.0L565.0 1696.0L565.8 1696.0L566.6 1684.1L567.4 1687.3L568.2 1696.0L569.0 1696.0L569.8 1696.0L570.6 1679.3L571.4 1696.0L572.2 1696.0L573.0 1696.0L573.8 1696.0L574.6 1696.0L575.4 1696.0L576.2 1696.0L577.0 1688.7L577.8 1696.0L578.6 1696.0L579.4 1680.7L580.2 1688.4L581.0 1681.5L581.8 1696.0L582.6 1696.0L583.4 1696.0L584.2 1677.9L585.0 1693.0L585.8 1696.0L586.6 1683.8L587.4 1696.0L588.2 1691.9L589.0 1673.7L589.8 1696.0L590.6 1696.0L591.4 1683.5L592.2 1696.0L593.0 1696.0L593.8 1696.0L594.6 1696.0L595.4 1696.0L596.2 1696.0L597.0 1696.0L597.8 1696.0L598.6 1684.3L599.4 1696.0L600.2 1696.0L601.0 1696.0L601.8 1696.0L602.6 1682.3L603.4 1696.0L604.2 1696.0L605.0 1696.0L605.8 1696.0L606.6 1696.0L607.4 1696.0L608.2 1696.0L609.0 1696.0L609.8 1696.0L610.6 1696.0L611.4 1688.2L612.2 1696.0L613.0 1696.0L613.8 1683.6L614.6 1696.0L615.4 1682.4L616.2 1696.0L617.0 1696.0L617.8 1696.0L618.6 1696.0L619.4 1696.0L620.2 1696.0L621.0 1696.0L621.8 1685.4L622.6 1687.6L623.4 1696.0L624.2 1696.0L625.0 1696.0L625.8 1696.0L626.6 1687.1L627.4 1696.0L628.2 1696.0L629.0 1696.0L629.8 1696.0L630.6 1696.0L631.4 1696.0L632.2 1696.0L633.0 1696.0L633.8 1696.0L634.6 1696.0L635.4 1696.0L636.2 1696.0L637.0 1696.0L637.8 1696.0L638.6 1696.0L639.4 1696.0L640.2 1696.0L641.0 1696.0L641.8 1689.1L642.6 1696.0L643.4 1696.0L644.2 1696.0L645.0 1696.0L645.8 1684.5L646.6 1696.0L647.4 1696.0L648.2 1696.0L649.0 1696.0L649.8 1691.3L650.6 1696.0L651.4 1696.0L652.2 1677.4L653.0 1696.0L653.8 1692.1L654.6 1680.1L655.4 1696.0L656.2 1696.0L657.0 1696.0L657.8 1696.0L658.6 1695.9L659.4 1696.0L660.2 1696.0L661.0 1696.0L661.8 1692.7L662.6 1696.0L663.4 1678.0L664.2 1696.0L665.0 1696.0L665.8 1661.4L666.6 1696.0L667.4 1666.0L668.2 1673.0L669.0 1696.0L669.8 1696.0L670.6 1696.0L671.4 1696.0L672.2 1696.0L673.0 1679.4L673.8 1691.5L674.6 1696.0L675.4 1695.6L676.2 1696.0L677.0 1696.0L677.8 1696.0L678.6 1690.9L679.4 1696.0L680.2 1696.0L681.0 1695.8L681.8 1696.0L682.6 1696.0L683.4 1696.0L684.2 1696.0L685.0 1696.0L685.8 1681.2L686.6 1696.0L687.4 1696.0L688.2 1696.0L689.0 1696.0L689.8 1684.6L690.6 1696.0L691.4 1689.2L692.2 1696.0L693.0 1696.0L693.8 1696.0L694.6 1696.0L695.4 1696.0L696.2 1696.0L697.0 1696.0L697.8 1696.0L698.6 1696.0L699.4 1696.0L700.2 1696.0L701.0 1696.0L701.8 1696.0L702.6 1692.1L703.4 1688.2L704.2 1696.0L705.0 1696.0L705.8 1683.9L706.6 1696.0L707.4 1696.0L708.2 1696.0L709.0 1696.0L709.8 1696.0L710.6 1696.0L711.4 1696.0L712.2 1696.0L713.0 1696.0L713.8 1696.0L714.6 1685.6L715.4 1696.0L716.2 1696.0L717.0 1696.0L717.8 1670.9L718.6 1696.0L719.4 1696.0L720.2 1696.0L721.0 1696.0L721.8 1696.0L722.6 1696.0L723.4 1689.2L724.2 1690.0L725.0 1683.3L725.8 1696.0L726.6 1696.0L727.4 1696.0L728.2 1696.0L729.0 1696.0L729.8 1696.0L730.6 1696.0L731.4 1686.1L732.2 1696.0L733.0 1695.6L733.8 1696.0L734.6 1675.5L735.4 1696.0L736.2 1696.0L737.0 1691.6L737.8 1696.0L738.6 1688.9L739.4 1684.5L740.2 1696.0L741.0 1674.0L741.8 1696.0L742.6 1696.0L743.4 1696.0L744.2 1696.0L745.0 1696.0L745.8 1686.0L746.6 1696.0L747.4 1696.0L748.2 1696.0L749.0 1677.6L749.8 1676.3L750.6 1696.0L751.4 1669.5L752.2 1696.0L753.0 1668.2L753.8 1696.0L754.6 1696.0L755.4 1696.0L756.2 1675.6L757.0 1647.0L757.8 1696.0L758.6 1696.0L759.4 1660.4L760.2 1674.1L761.0 1696.0L761.8 1659.2L762.6 1696.0L763.4 1669.9L764.2 1682.2L765.0 1696.0L765.8 1656.8L766.6 1696.0L767.4 1696.0L768.2 1696.0L769.0 1670.8L769.8 1646.5L770.6 1676.6L771.4 1696.0L772.2 1681.3L773.0 1653.7L773.8 1652.0L774.6 1679.1L775.4 1696.0L776.2 1696.0L777.0 1654.8L777.8 1684.9L778.6 1694.9L779.4 1657.9L780.2 1696.0L781.0 1696.0L781.8 1696.0L782.6 1696.0L783.4 1696.0L784.2 1682.2L785.0 1649.8L785.8 1660.4L786.6 1696.0L787.4 1696.0L788.2 1642.0L789.0 1696.0L789.8 1677.5L790.6 1696.0L791.4 1696.0L792.2 1655.7L793.0 1696.0L793.8 1696.0L794.6 1671.0L795.4 1624.0L796.2 1637.6L797.0 1676.2L797.8 1664.6L798.6 1659.6L799.4 1696.0L800.2 1620.0L801.0 1696.0L801.8 1626.2L802.6 1696.0L803.4 1696.0L804.2 1696.0L805.0 1645.2L805.8 1686.0L806.6 1614.9L807.4 1612.8L808.2 1657.8L809.0 1668.8L809.8 1696.0L810.6 1644.8L811.4 1650.4L812.2 1618.8L813.0 1696.0L813.8 1696.0L814.6 1672.2L815.4 1600.4L816.2 1696.0L817.0 1696.0L817.8 1696.0L818.6 1677.4L819.4 1696.0L820.2 1682.3L821.0 1696.0L821.8 1627.4L822.6 1622.7L823.4 1696.0L824.2 1595.1L825.0 1696.0L825.8 1696.0L826.6 1696.0L827.4 1622.4L828.2 1696.0L829.0 1627.7L829.8 1620.9L830.6 1657.5L831.4 1627.3L832.2 1686.7L833.0 1642.2L833.8 1635.8L834.6 1696.0L835.4 1696.0L836.2 1596.7L837.0 1696.0L837.8 1612.7L838.6 1642.6L839.4 1696.0L840.2 1696.0L841.0 1595.5L841.8 1614.5L842.6 1666.6L843.4 1696.0L844.2 1590.4L845.0 1685.6L845.8 1696.0L846.6 1670.7L847.4 1593.1L848.2 1634.5L849.0 1625.0L849.8 1631.7L850.6 1696.0L851.4 1696.0L852.2 1696.0L853.0 1618.8L853.8 1635.3L854.6 1628.3L855.4 1652.0L856.2 1673.3L857.0 1576.1L857.8 1637.9L858.6 1624.0L859.4 1672.6L860.2 1554.7L861.0 1627.7L861.8 1593.3L862.6 1574.6L863.4 1551.7L864.2 1696.0L865.0 1605.1L865.8 1594.0L866.6 1625.4L867.4 1564.2L868.2 1562.8L869.0 1696.0L869.8 1599.4L870.6 1695.3L871.4 1579.7L872.2 1615.3L873.0 1630.2L873.8 1596.0L874.6 1613.7L875.4 1597.2L876.2 1632.8L877.0 1626.9L877.8 1691.5L878.6 1588.8L879.4 1671.2L880.2 1648.8L881.0 1612.8L881.8 1696.0L882.6 1696.0L883.4 1641.5L884.2 1696.0L885.0 1696.0L885.8 1696.0L886.6 1612.0L887.4 1696.0L888.2 1653.3L889.0 1627.1L889.8 1624.3L890.6 1696.0L891.4 1696.0L892.2 1639.4L893.0 1696.0L893.8 1696.0L894.6 1685.8L895.4 1647.7L896.2 1629.4L897.0 1696.0L897.8 1616.2L898.6 1655.4L899.4 1696.0L900.2 1638.9L901.0 1605.4L901.8 1696.0L902.6 1607.3L903.4 1696.0L904.2 1607.0L905.0 1622.9L905.8 1696.0L906.6 1696.0L907.4 1652.2L908.2 1636.5L909.0 1696.0L909.8 1597.0L910.6 1596.9L911.4 1604.9L912.2 1675.3L913.0 1696.0L913.8 1696.0L914.6 1644.7L915.4 1656.9L916.2 1635.2L917.0 1650.0L917.8 1696.0L918.6 1612.3L919.4 1655.0L920.2 1684.2L921.0 1612.2L921.8 1632.3L922.6 1643.1L923.4 1620.1L924.2 1696.0L925.0 1696.0L925.8 1613.1L926.6 1619.7L927.4 1687.2L928.2 1661.7L929.0 1696.0L929.8 1597.7L930.6 1696.0L931.4 1630.3L932.2 1596.5L933.0 1592.6L933.8 1642.0L934.6 1680.7L935.4 1596.4L936.2 1603.5L937.0 1669.8L937.8 1657.4L938.6 1696.0L939.4 1685.9L940.2 1624.3L941.0 1615.0L941.8 1649.5L942.6 1586.7L943.4 1677.6L944.2 1696.0L945.0 1586.7L945.8 1650.4L946.6 1696.0L947.4 1574.3L948.2 1566.7L949.0 1657.4L949.8 1599.1L950.6 1696.0L951.4 1587.5L952.2 1558.9L953.0 1601.5L953.8 1584.8L954.6 1572.3L955.4 1575.3L956.2 1553.6L957.0 1696.0L957.8 1552.1L958.6 1591.6L959.4 1614.8L960.2 1568.3L961.0 1552.9L961.8 1582.4L962.6 1609.4L963.4 1566.9L964.2 1543.0L965.0 1696.0L965.8 1594.0L966.6 1569.8L967.4 1539.6L968.2 1560.7L969.0 1557.4L969.8 1687.4L970.6 1533.3" fill="none" stroke="#ff0000" stroke-width="6.6" stroke-linecap="round" stroke-linejoin="round" stroke-opacity="0.96"/><path d="M969.5 1625.0L969.8 1623.0L970.1 1621.0L970.4 1619.1L970.7 1617.1L971.0 1615.1L971.3 1613.1L971.6 1611.1L971.9 1609.1L972.2 1607.2L972.5 1605.2L972.8 1603.2L973.1 1601.2L973.4 1599.2L973.7 1597.2L974.0 1595.3L974.3 1593.3L974.6 1591.3L974.9 1589.3L975.2 1587.3L975.5 1585.3L975.8 1583.4L976.1 1581.4L976.4 1579.4L976.7 1577.4L977.0 1575.4L977.3 1573.5L977.6 1571.5L977.9 1569.5L978.2 1567.5L978.5 1565.5L978.8 1563.6L979.1 1561.6L979.4 1559.6L979.7 1557.6L980.0 1555.6L980.3 1553.6L980.6 1551.7L980.9 1549.7L981.2 1547.7L981.5 1545.7L981.8 1543.7L982.2 1541.8L982.5 1539.8L982.8 1537.8L983.1 1535.8L983.4 1533.8L983.7 1531.9L984.0 1529.9L984.3 1527.9L984.6 1525.9L984.9 1523.9L985.2 1521.9L985.5 1520.0L985.8 1518.0L986.1 1516.0L986.4 1514.0L986.7 1512.0L987.0 1510.1L987.3 1508.1L987.6 1506.1L987.9 1504.1L988.2 1502.1L988.5 1500.2L988.9 1498.2L989.2 1496.2L989.5 1494.2L989.8 1492.2L990.1 1490.3L990.4 1488.3L990.7 1486.3L991.0 1484.3L991.3 1482.3L991.6 1480.4L991.9 1478.4L992.2 1476.4L992.5 1474.4L992.8 1472.4L993.1 1470.5L993.5 1468.5L993.8 1466.5L994.1 1464.5L994.4 1462.5L994.7 1460.6L995.0 1458.6L995.3 1456.6L995.6 1454.6L995.9 1452.6L996.2 1450.7L996.5 1448.7L996.8 1446.7L997.2 1444.7L997.5 1442.8L997.8 1440.8L998.1 1438.8L998.4 1436.8L998.7 1434.8L999.0 1432.9L999.3 1430.9L999.6 1428.9L999.9 1426.9L1000.3 1424.9L1000.6 1423.0L1000.9 1421.0L1001.2 1419.0L1001.5 1417.0L1001.8 1415.0L1002.1 1413.1L1002.4 1411.1L1002.7 1409.1L1003.1 1407.1L1003.4 1405.1L1003.7 1403.2L1004.0 1401.2L1004.3 1399.2L1004.6 1397.2L1004.9 1395.3L1005.2 1393.3L1005.6 1391.3L1005.9 1389.3L1006.2 1387.3L1006.5 1385.4L1006.8 1383.4L1007.1 1381.4L1007.4 1379.4L1007.8 1377.4L1008.1 1375.5L1008.4 1373.5L1008.7 1371.5L1009.0 1369.5L1009.3 1367.6L1009.6 1365.6L1010.0 1363.6L1010.3 1361.6L1010.6 1359.6L1010.9 1357.7L1011.2 1355.7L1011.5 1353.7L1011.8 1351.7L1012.2 1349.8L1012.5 1347.8L1012.8 1345.8L1013.1 1343.8L1013.4 1341.8L1013.7 1339.9L1014.1 1337.9L1014.4 1335.9L1014.7 1333.9L1015.0 1332.0L1015.3 1330.0L1015.6 1328.0L1016.0 1326.0L1016.3 1324.0L1016.6 1322.1L1016.9 1320.1L1017.2 1318.1L1017.6 1316.1L1017.9 1314.2L1018.2 1312.2L1018.5 1310.2L1018.8 1308.2L1019.1 1306.2L1019.5 1304.3L1019.8 1302.3L1020.1 1300.3L1020.4 1298.3L1020.7 1296.4L1021.1 1294.4L1021.4 1292.4L1021.7 1290.4L1022.0 1288.4L1022.4 1286.5L1022.7 1284.5L1023.0 1282.5L1023.3 1280.5L1023.6 1278.6L1024.0 1276.6L1024.3 1274.6L1024.6 1272.6L1024.9 1270.6L1025.2 1268.7L1025.6 1266.7L1025.9 1264.7L1026.2 1262.7L1026.5 1260.8L1026.9 1258.8L1027.2 1256.8L1027.5 1254.8L1027.8 1252.8L1028.2 1250.9L1028.5 1248.9L1028.8 1246.9L1029.1 1244.9L1029.5 1243.0L1029.8 1241.0L1030.1 1239.0L1030.4 1237.0L1030.8 1235.0L1031.1 1233.1L1031.4 1231.1L1031.7 1229.1L1032.1 1227.1L1032.4 1225.2L1032.7 1223.2L1033.0 1221.2L1033.4 1219.2L1033.7 1217.3L1034.0 1215.3L1034.3 1213.3L1034.7 1211.3L1035.0 1209.3L1035.3 1207.4L1035.7 1205.4L1036.0 1203.4L1036.3 1201.4L1036.6 1199.5L1037.0 1197.5L1037.3 1195.5L1037.6 1193.5L1038.0 1191.5L1038.3 1189.6L1038.6 1187.6L1038.9 1185.6L1039.3 1183.6L1039.6 1181.7L1039.9 1179.7L1040.3 1177.7L1040.6 1175.7L1040.9 1173.7L1041.3 1171.8L1041.6 1169.8L1041.9 1167.8L1042.3 1165.8L1042.6 1163.9L1042.9 1161.9L1043.3 1159.9L1043.6 1157.9L1043.9 1156.0L1044.3 1154.0L1044.6 1152.0L1044.9 1150.0L1045.3 1148.0L1045.6 1146.1L1045.9 1144.1L1046.3 1142.1L1046.6 1140.1L1046.9 1138.2L1047.3 1136.2L1047.6 1134.2L1047.9 1132.2L1048.3 1130.2L1048.6 1128.3L1048.9 1126.3L1049.3 1124.3L1049.6 1122.3L1049.9 1120.4L1050.3 1118.4L1050.6 1116.4L1051.0 1114.4L1051.3 1112.5L1051.6 1110.5L1052.0 1108.5L1052.3 1106.5L1052.7 1104.5L1053.0 1102.6L1053.3 1100.6L1053.7 1098.6L1054.0 1096.6L1054.4 1094.7L1054.7 1092.7L1055.0 1090.7L1055.4 1088.7L1055.7 1086.8L1056.1 1084.8L1056.4 1082.8L1056.8 1080.8L1057.1 1078.9L1057.5 1076.9L1057.8 1074.9L1058.2 1072.9L1058.5 1070.9L1058.9 1069.0L1059.2 1067.0L1059.6 1065.0L1059.9 1063.0L1060.3 1061.1L1060.6 1059.1L1061.0 1057.1L1061.3 1055.2L1061.7 1053.2L1062.0 1051.2L1062.4 1049.2L1062.8 1047.3L1063.1 1045.3L1063.5 1043.3L1063.8 1041.3L1064.2 1039.4L1064.6 1037.4L1064.9 1035.4L1065.3 1033.5L1065.7 1031.5L1066.0 1029.5L1066.4 1027.5L1066.8 1025.6L1067.2 1023.6L1067.5 1021.6L1067.9 1019.7L1068.3 1017.7L1068.6 1015.7L1069.0 1013.7L1069.4 1011.8L1069.8 1009.8L1070.2 1007.8L1070.5 1005.9L1070.9 1003.9L1071.3 1001.9L1071.7 1000.0L1072.1 998.0L1072.5 996.0L1072.9 994.1L1073.3 992.1L1073.6 990.1L1074.0 988.2L1074.4 986.2L1074.8 984.2L1075.2 982.3L1075.6 980.3L1076.0 978.4L1076.4 976.4L1076.8 974.4L1077.2 972.5L1077.7 970.5L1078.1 968.5L1078.5 966.6L1078.9 964.6L1079.3 962.7L1079.7 960.7L1080.1 958.7L1080.5 956.8L1081.0 954.8L1081.4 952.9L1081.8 950.9L1082.2 948.9L1082.7 947.0L1083.1 945.0L1083.5 943.1L1084.0 941.1L1084.4 939.2L1084.8 937.2L1085.3 935.3L1085.7 933.3L1086.1 931.3L1086.6 929.4L1087.0 927.4L1087.5 925.5L1087.9 923.5L1088.4 921.6L1088.8 919.6L1089.3 917.7L1089.7 915.7L1090.2 913.8L1090.7 911.8L1091.1 909.9L1091.6 907.9L1092.1 906.0L1092.5 904.0L1093.0 902.1L1093.5 900.2L1093.9 898.2L1094.4 896.3L1094.9 894.3L1095.4 892.4L1095.9 890.4L1096.3 888.5L1096.8 886.5L1097.3 884.6L1097.8 882.7L1098.3 880.7L1098.8 878.8L1099.3 876.8L1099.8 874.9L1100.3 873.0L1100.8 871.0L1101.3 869.1L1101.8 867.2L1102.4 865.2L1102.9 863.3L1103.4 861.4L1103.9 859.4L1104.4 857.5L1105.0 855.6L1105.5 853.6L1106.0 851.7L1106.6 849.8L1107.1 847.8L1107.6 845.9L1108.2 844.0L1108.7 842.1L1109.3 840.1L1109.8 838.2L1110.4 836.3L1110.9 834.4L1111.5 832.4L1112.0 830.5L1112.6 828.6L1113.2 826.7L1113.7 824.7L1114.3 822.8L1114.9 820.9L1115.4 819.0L1116.0 817.1L1116.6 815.1L1117.2 813.2L1117.8 811.3L1118.4 809.4L1119.0 807.5L1119.6 805.6L1120.2 803.7L1120.8 801.7L1121.4 799.8L1122.0 797.9L1122.6 796.0L1123.2 794.1L1123.8 792.2L1124.4 790.3L1125.1 788.4L1125.7 786.5L1126.3 784.6L1126.9 782.7L1127.6 780.8L1128.2 778.9L1128.9 777.0L1129.5 775.1L1130.2 773.1L1130.8 771.3L1131.5 769.4L1132.1 767.5L1132.8 765.6L1133.4 763.7L1134.1 761.8L1134.8 759.9L1135.5 758.0L1136.1 756.1L1136.8 754.2L1137.5 752.3L1138.2 750.4L1138.9 748.5L1139.6 746.6L1140.3 744.8L1141.0 742.9L1141.7 741.0L1142.4 739.1L1143.1 737.2L1143.8 735.4L1144.5 733.5L1145.3 731.6L1146.0 729.7L1146.7 727.9L1147.5 726.0L1148.2 724.1L1149.0 722.3L1149.7 720.4L1150.5 718.5L1151.2 716.7L1152.0 714.8L1152.7 713.0L1153.5 711.1L1154.3 709.2L1155.1 707.4L1155.8 705.5L1156.6 703.7L1157.4 701.8L1158.2 700.0L1159.0 698.2L1159.8 696.3L1160.6 694.5L1161.4 692.7L1162.3 690.8L1163.1 689.0L1163.9 687.2L1164.7 685.3L1165.6 683.5L1166.4 681.7L1167.3 679.9L1168.1 678.1L1169.0 676.2L1169.8 674.4L1170.7 672.6L1171.6 670.8L1172.5 669.0L1173.3 667.2L1174.2 665.4L1175.1 663.6L1176.0 661.8L1176.9 660.1L1177.8 658.3L1178.7 656.5L1179.6 654.7L1180.6 652.9L1181.5 651.2L1182.4 649.4L1183.4 647.6L1184.3 645.9L1185.3 644.1L1186.2 642.3L1187.2 640.6L1188.1 638.8L1189.1 637.1L1190.1 635.4L1191.1 633.6L1192.0 631.9L1193.0 630.1L1194.0 628.4L1195.0 626.7L1196.1 625.0L1197.1 623.2L1198.1 621.5L1199.1 619.8L1200.2 618.1L1201.2 616.4L1202.2 614.7L1203.3 613.0L1204.4 611.3L1205.4 609.6L1206.5 607.9L1207.6 606.3L1208.6 604.6L1209.7 602.9L1210.8 601.3L1211.9 599.6L1213.0 597.9L1214.2 596.3L1215.3 594.6L1216.4 593.0L1217.5 591.3L1218.7 589.7L1219.8 588.1L1221.0 586.4L1222.1 584.8L1223.3 583.2L1224.5 581.6L1225.7 580.0L1226.8 578.4L1228.0 576.7L1229.2 575.2L1230.4 573.6L1231.6 572.0L1232.9 570.4L1234.1 568.8L1235.3 567.2L1236.5 565.7L1237.8 564.1L1239.0 562.5L1240.3 561.0L1241.5 559.4L1242.8 557.9L1244.1 556.3L1245.4 554.8L1246.6 553.3L1247.9 551.7L1249.2 550.2L1250.5 548.7L1251.8 547.2L1253.2 545.7L1254.5 544.1L1255.8 542.6L1257.1 541.2L1258.5 539.7L1259.8 538.2L1261.2 536.7L1262.5 535.2L1263.9 533.7L1265.2 532.3L1266.6 530.8L1268.0 529.4L1269.4 527.9L1270.7 526.5L1272.1 525.0L1273.5 523.6L1274.9 522.1L1276.3 520.7L1277.7 519.3L1279.2 517.9L1280.6 516.4L1282.0 515.0L1283.4 513.6L1284.9 512.2L1286.3 510.8L1287.8 509.5L1289.2 508.1L1290.7 506.7L1292.2 505.3L1293.6 503.9L1295.1 502.6L1296.6 501.2L1298.1 499.9L1299.5 498.5L1301.0 497.2L1302.5 495.8L1304.0 494.5L1305.5 493.2L1307.1 491.8L1308.6 490.5L1310.1 489.2L1311.6 487.9L1313.1 486.6L1314.7 485.3L1316.2 484.0L1317.8 482.7L1319.3 481.4L1320.9 480.2L1322.4 478.9L1324.0 477.6L1325.5 476.4L1327.1 475.1L1328.7 473.9L1330.3 472.6L1331.8 471.4L1333.4 470.1L1335.0 468.9L1336.6 467.7L1338.2 466.5L1339.8 465.2L1341.4 464.0L1343.0 462.8L1344.6 461.6L1346.3 460.4L1347.9 459.3L1349.5 458.1L1351.1 456.9L1352.8 455.7L1354.4 454.6L1356.0 453.4L1357.7 452.3L1359.3 451.1L1361.0 450.0L1362.6 448.8L1364.3 447.7L1366.0 446.6L1367.6 445.4L1369.3 444.3L1371.0 443.2L1372.6 442.1L1374.3 441.0L1376.0 439.9L1377.7 438.8L1379.4 437.7L1381.1 436.7L1382.8 435.6L1384.5 434.5L1386.2 433.5L1387.9 432.4L1389.6 431.4L1391.3 430.3L1393.0 429.3L1394.7 428.3L1396.4 427.2L1398.2 426.2L1399.9 425.2L1401.6 424.2L1403.4 423.2L1405.1 422.2L1406.8 421.2L1408.6 420.2L1410.3 419.2L1412.1 418.2L1413.8 417.3L1415.6 416.3L1417.3 415.3L1419.1 414.4L1420.9 413.4L1422.6 412.5L1424.4 411.6L1426.2 410.6L1428.0 409.7L1429.7 408.8L1431.5 407.9L1433.3 407.0L1435.1 406.1L1436.9 405.2L1438.7 404.3L1440.5 403.4L1442.3 402.5L1444.1 401.6L1445.9 400.8L1447.7 399.9L1449.5 399.0L1451.3 398.2L1453.1 397.3L1454.9 396.5L1456.7 395.7L1458.5 394.8L1460.4 394.0L1462.2 393.2L1464.0 392.4L1465.9 391.6L1467.7 390.8L1469.5 390.0L1471.4 389.2L1473.2 388.4L1475.1 387.6L1476.9 386.9L1478.7 386.1L1480.6 385.3L1482.4 384.6L1484.3 383.8L1486.2 383.1L1488.0 382.3L1489.9 381.6L1491.7 380.9L1493.6 380.1L1495.5 379.4L1497.4 378.7L1499.2 378.0L1501.1 377.3L1503.0 376.6L1504.9 375.9L1506.7 375.2L1508.6 374.6L1510.5 373.9L1512.4 373.2L1514.3 372.5L1516.2 371.9L1518.1 371.2L1520.0 370.6L1521.9 369.9L1523.8 369.3L1525.7 368.6L1527.6 368.0L1529.5 367.4L1531.4 366.8L1533.3 366.1L1535.2 365.5L1537.1 364.9L1539.0 364.3L1540.9 363.7L1542.8 363.1L1544.7 362.5L1546.7 361.9L1548.6 361.3L1550.5 360.8L1552.4 360.2L1554.3 359.6L1556.3 359.0L1558.2 358.5L1560.1 357.9L1562.0 357.4L1564.0 356.8L1565.9 356.3L1567.8 355.7L1569.8 355.2L1571.7 354.7L1573.6 354.1L1575.6 353.6L1577.5 353.1L1579.4 352.6L1581.4 352.0L1583.3 351.5L1585.3 351.0L1587.2 350.5L1589.2 350.0L1591.1 349.5L1593.0 349.0L1595.0 348.5L1596.9 348.0L1598.9 347.6L1600.8 347.1L1602.8 346.6L1604.7 346.1L1606.7 345.7L1608.6 345.2L1610.6 344.7L1612.5 344.3L1614.5 343.8L1616.4 343.3L1618.4 342.9L1620.4 342.4L1622.3 342.0L1624.3 341.6L1626.2 341.1L1628.2 340.7L1630.1 340.2L1632.1 339.8L1634.0 339.4L1636.0 339.0L1638.0 338.5L1639.9 338.1L1641.9 337.7L1643.8 337.3L1645.8 336.9L1647.8 336.4L1649.7 336.0L1651.7 335.6L1653.6 335.2L1655.6 334.8" fill="none" stroke="#ff0000" stroke-width="8.4" stroke-linecap="round" stroke-linejoin="round" stroke-opacity="0.9"/><path d="M965.5 1625.5L970.9 1624.5L973.2 1621.2L971.8 1620.8L967.6 1619.6L971.8 1620.8L969.1 1620.2L965.5 1618.7L970.7 1617.9L970.2 1616.0L970.9 1616.7L971.1 1617.9L970.9 1614.7L971.7 1613.4L974.5 1613.8L971.1 1613.5L968.4 1612.2L970.8 1613.7L974.4 1612.6L971.6 1610.0L973.8 1608.3L969.8 1609.9L972.8 1607.9L968.4 1606.2L971.1 1605.1L972.9 1604.1L969.9 1606.3L973.4 1602.4L977.0 1603.3L973.4 1599.2L975.9 1601.3L975.6 1602.2L970.5 1601.5L975.0 1599.0L968.8 1600.1L974.3 1597.9L971.3 1597.1L975.0 1597.2L972.1 1592.7L972.9 1593.1L974.7 1593.2L974.7 1593.8L977.8 1591.8L971.4 1590.9L974.3 1590.1L974.5 1589.3L970.6 1589.1L976.0 1588.1L974.8 1587.8L971.9 1586.0L976.4 1584.9L975.3 1585.5L975.2 1582.9L974.7 1583.3L973.8 1582.2L975.1 1581.4L977.4 1581.3L976.2 1580.0L977.7 1578.3L976.6 1577.2L978.7 1577.5L974.3 1576.2L978.1 1576.1L973.9 1576.7L977.4 1574.6L976.6 1572.8L974.5 1572.9L977.3 1571.7L978.8 1571.4L975.8 1570.0L979.7 1568.3L981.6 1568.3L982.5 1568.4L975.3 1567.6L978.4 1566.0L978.5 1565.7L972.9 1565.5L978.1 1564.1L980.0 1563.3L976.8 1563.2L978.5 1561.9L977.9 1560.8L977.6 1561.4L977.6 1560.1L976.4 1558.7L979.1 1558.6L980.1 1558.8L984.7 1555.7L981.1 1554.6L978.5 1554.5L981.7 1554.3L980.1 1553.9L978.6 1551.5L980.5 1550.0L982.9 1550.5L980.4 1550.2L978.9 1549.0L978.5 1548.1L981.5 1548.7L981.4 1547.8L981.5 1544.7L982.8 1545.2L980.9 1545.0L980.3 1543.2L983.1 1543.4L981.1 1542.2L982.4 1541.6L982.0 1538.8L981.9 1540.7L981.4 1538.6L983.9 1537.8L981.2 1537.2L982.7 1535.8L982.9 1534.6L980.9 1534.0L983.1 1534.0L982.6 1534.0L984.4 1532.5L985.3 1532.7L984.8 1530.5L985.1 1530.9L984.7 1529.2L984.6 1528.8L981.8 1528.8L984.5 1528.3L984.7 1525.6L985.8 1525.4L986.0 1524.3L984.3 1523.3L984.2 1523.3L983.5 1522.3L986.7 1520.8L985.1 1520.1L985.0 1519.9L986.5 1519.6L984.9 1518.7L985.1 1516.7L984.8 1515.4L986.2 1514.7L986.5 1516.7L985.2 1513.0L986.9 1512.8L986.5 1512.7L987.0 1513.3L987.2 1511.3L986.9 1509.9L986.4 1508.9L988.3 1508.7L988.1 1508.2L990.1 1507.1L988.3 1506.0L989.1 1505.5L987.9 1504.0L988.6 1505.0L989.7 1502.6L989.3 1502.1L986.6 1501.0L989.9 1500.7L987.3 1500.3L989.1 1499.1L989.4 1498.3L990.3 1498.1L989.1 1497.1L990.2 1496.1L989.9 1495.3L989.1 1493.5L988.3 1493.2L989.8 1494.3L988.8 1491.9L988.6 1491.2L989.8 1490.9L988.8 1490.0L990.5 1488.8L989.2 1487.7L990.3 1487.7L990.5 1486.2L991.0 1485.3L991.6 1486.4L990.5 1484.7L990.2 1483.5L991.8 1483.2L991.4 1482.5L990.3 1481.0L991.6 1480.3L991.6 1480.3L991.5 1479.2L992.4 1478.8L991.9 1477.4L992.8 1474.9L992.7 1476.0L993.8 1474.3L992.5 1474.5L991.8 1472.9L993.4 1472.7L994.1 1472.1L993.3 1470.4L992.7 1470.0L993.7 1469.3L994.2 1468.2L993.3 1467.2L995.4 1466.8L994.7 1466.6L994.3 1465.2L993.8 1464.4L993.0 1463.5L995.0 1463.0L995.2 1462.4L995.2 1461.4L994.9 1460.9L994.6 1459.3L995.6 1459.0L995.9 1457.9L994.1 1457.3L994.9 1456.3L996.6 1455.9L994.8 1454.5L995.7 1454.4L996.1 1453.8L996.2 1452.8L994.9 1452.3L995.9 1451.4L995.4 1450.0L997.2 1449.1L996.7 1448.6L997.8 1448.0L997.6 1447.1L995.9 1446.9L996.8 1445.5L997.2 1444.3L997.8 1443.8L996.4 1442.7L996.3 1442.1L997.6 1441.3L997.8 1440.7L998.2 1440.0L998.0 1439.0L997.5 1438.2L998.5 1437.5L999.2 1437.0L997.8 1436.1L999.3 1435.1L999.4 1434.3L999.7 1433.8L998.9 1432.5L999.1 1431.9L999.5 1431.1L999.6 1430.4L999.8 1429.9L999.7 1429.0L1000.3 1427.9L1000.2 1427.4L1000.7 1426.5L1000.6 1425.4L1000.8 1425.0L1000.6 1424.4L1000.0 1423.3L1000.7 1422.5L1000.6 1422.0L1000.9 1421.0L1001.0 1420.5L1001.8 1419.6L1001.4 1418.4L1001.2 1417.7L1001.2 1417.3L1001.4 1416.5L1001.8 1415.5L1001.8 1414.4L1001.9 1414.0L1002.3 1413.1L1002.5 1412.3L1002.5 1411.9L1002.5 1410.5L1002.0 1409.8L1002.8 1409.3L1002.9 1408.4L1003.2 1407.4L1003.1 1406.8L1003.1 1405.9L1003.5 1405.3L1003.5 1404.1L1003.4 1403.6L1003.8 1402.8L1003.8 1402.1L1004.3 1401.3" fill="none" stroke="#ff0000" stroke-width="7.5" stroke-linecap="round" stroke-linejoin="round" stroke-opacity="0.95"/><path d="M281.5 1396.2L282.0 1395.3M282.2 1398.6L282.1 1397.7M282.3 1395.8L283.0 1395.1M283.0 1394.8L283.4 1393.9M283.9 1391.2L283.6 1390.2M283.8 1391.9L284.6 1391.3M284.3 1387.6L285.1 1386.9M285.1 1386.2L285.3 1385.3M285.2 1384.1L286.1 1383.6M285.7 1382.5L286.4 1381.8M286.1 1384.7L286.8 1384.0M287.1 1381.6L286.6 1380.7M287.4 1382.1L287.2 1381.1M287.5 1379.3L287.9 1378.4M288.3 1381.3L288.0 1380.4M288.4 1374.4L288.9 1373.5M289.2 1378.7L289.1 1377.7M289.3 1372.9L290.2 1372.5M290.5 1372.6L290.2 1371.6M290.8 1370.9L291.2 1370.0M291.5 1371.3L291.9 1370.4M292.1 1372.0L292.7 1371.2M292.9 1367.7L293.3 1366.8M293.9 1366.7L293.7 1365.7M294.1 1368.2L294.9 1367.6M294.9 1365.3L295.4 1364.5M295.5 1365.5L296.2 1364.8M296.3 1361.2L296.7 1360.3M296.8 1362.8L297.5 1362.1M297.5 1356.8L298.2 1356.1M298.5 1353.8L298.5 1352.8M298.9 1355.4L299.5 1354.6M299.6 1356.5L300.3 1355.8M300.7 1353.2L300.6 1352.2M301.2 1349.8L301.1 1348.8M301.3 1348.7L302.0 1348.0M302.3 1347.7L302.4 1346.7M302.4 1347.6L303.4 1347.2M303.3 1349.0L304.0 1348.3M304.4 1344.2L305.1 1343.5M305.6 1345.0L306.5 1344.6M306.8 1347.7L307.5 1348.5M307.2 1347.1L308.1 1347.6M308.2 1348.5L308.3 1349.5M308.8 1350.2L309.5 1350.9M309.6 1354.2L310.6 1354.1M311.1 1349.5L312.1 1349.6M312.7 1348.2L313.2 1347.3M313.7 1350.6L314.2 1349.7M315.0 1344.8L315.9 1344.3M315.9 1346.5L316.8 1346.1M317.6 1346.4L318.5 1346.1M319.1 1345.3L319.7 1346.1M319.8 1347.0L320.8 1347.4M321.2 1349.7L321.1 1350.7M321.5 1352.1L322.3 1352.7M322.5 1350.3L322.4 1351.3M323.0 1354.6L322.8 1355.6M323.3 1354.2L324.1 1354.8M323.8 1352.9L324.5 1353.6M324.3 1357.2L325.0 1357.9M325.4 1358.3L325.5 1359.3M326.0 1360.7L326.5 1361.6M327.1 1361.2L327.9 1361.8M328.3 1360.9L329.3 1360.8M329.9 1356.8L330.8 1356.4M330.7 1358.7L331.6 1358.4M332.1 1359.3L332.7 1358.4M333.5 1358.3L333.8 1357.4M334.3 1355.1L334.7 1354.2M335.3 1357.0L336.3 1357.2M336.8 1358.8L337.8 1359.0M337.9 1354.8L338.8 1354.4M339.8 1354.4L340.4 1353.7M340.8 1353.9L341.7 1353.5M342.3 1351.5L343.3 1351.4M343.9 1353.7L344.4 1352.8M345.0 1352.9L345.9 1353.3M345.5 1353.7L346.3 1354.3M346.0 1353.2L346.2 1354.2M346.2 1357.0L346.3 1358.0M346.4 1358.6L346.3 1359.5M346.2 1359.6L346.8 1360.4M346.8 1364.3L346.4 1365.2M346.8 1365.8L346.6 1366.8M346.9 1365.5L347.0 1366.5M347.1 1364.6L347.4 1365.5M347.5 1367.9L348.0 1368.8M348.5 1368.7L348.6 1369.7M348.8 1369.4L349.5 1370.1M349.4 1370.5L350.3 1370.8M351.0 1370.2L350.9 1371.2M351.6 1371.2L351.8 1372.2M352.4 1375.5L353.2 1376.0M354.1 1378.0L354.4 1378.9M355.5 1375.1L355.8 1374.1M356.0 1373.6L356.8 1373.0M356.9 1373.7L357.3 1372.8M357.4 1367.8L357.6 1366.8M358.2 1368.5L357.8 1367.6M358.5 1364.6L358.9 1363.7M359.3 1367.6L359.2 1366.7M359.7 1365.6L360.6 1365.1M361.2 1366.6L362.0 1366.0M362.7 1365.2L363.5 1365.9M364.4 1367.8L365.0 1368.5M366.0 1368.1L366.3 1369.0M366.8 1365.3L367.6 1365.8M367.7 1365.4L368.6 1365.8M368.8 1370.1L369.3 1371.0M369.4 1373.6L370.3 1374.2M370.3 1370.2L370.9 1371.0M371.1 1374.5L371.2 1375.5M371.3 1372.6L371.9 1373.4M371.4 1373.9L372.3 1374.4M372.1 1375.9L372.3 1376.9M372.1 1380.8L372.7 1381.6M372.8 1379.6L372.6 1380.6M373.0 1382.7L372.8 1383.7M372.7 1384.2L373.4 1384.9M372.9 1387.7L373.6 1388.5M373.0 1388.1L373.8 1388.7M373.7 1387.4L373.5 1388.4M374.0 1390.6L373.6 1391.6M373.9 1392.5L374.2 1393.5M374.2 1393.5L374.7 1394.3M374.9 1393.2L375.7 1392.6M376.0 1391.1L376.7 1390.4M376.7 1394.2L377.3 1393.4M377.4 1388.8L378.0 1388.0M377.8 1389.9L378.6 1389.2M378.9 1388.8L379.0 1387.8M379.0 1383.1L379.9 1382.6M379.8 1386.3L380.1 1385.4M380.3 1380.3L381.0 1379.6M380.9 1381.9L381.8 1381.4M381.6 1377.3L382.4 1376.8M382.8 1377.7L382.4 1376.8M382.5 1378.2L383.4 1377.8M383.4 1377.8L383.8 1377.0M383.8 1377.7L384.7 1377.2M384.6 1378.4L385.4 1377.9M386.1 1374.5L386.2 1373.5M386.9 1369.2L387.8 1368.8M388.3 1370.2L389.2 1369.8M389.2 1369.8L390.2 1369.6M390.7 1369.1L391.7 1369.2M392.1 1371.2L392.9 1370.5M393.3 1368.7L394.2 1368.5M394.5 1364.8L394.3 1363.8M394.8 1365.0L394.8 1364.0M395.2 1363.3L395.4 1362.3M395.6 1363.9L395.5 1362.9M395.6 1358.1L396.3 1357.4M396.1 1360.0L396.4 1359.0M396.4 1358.1L397.0 1357.3M396.8 1356.5L397.7 1356.1M397.7 1357.4L398.5 1356.8M399.3 1357.3L400.3 1357.5M400.9 1359.0L401.7 1359.6M401.8 1356.4L402.8 1356.4M403.5 1360.9L404.5 1361.3M404.8 1360.1L405.3 1361.0M406.0 1358.8L407.0 1358.5M407.5 1362.3L408.5 1362.6M408.9 1353.2L409.8 1352.9M409.8 1355.3L410.7 1354.9M410.9 1354.2L411.4 1353.3M411.4 1354.0L412.1 1353.3M412.5 1352.4L412.7 1351.4M413.0 1352.7L413.4 1351.8M414.0 1347.7L414.3 1346.8M414.6 1346.5L415.6 1346.2M415.8 1346.8L416.6 1346.3M416.7 1346.4L417.3 1345.6M417.7 1345.2L418.6 1344.8M418.4 1343.7L419.4 1343.5M419.9 1343.7L420.5 1342.9M421.1 1342.6L421.6 1343.4M421.9 1345.9L422.0 1346.9M422.3 1345.5L422.3 1346.5M422.4 1349.5L423.1 1350.1M423.3 1348.5L422.8 1349.3M423.6 1351.0L423.2 1351.9M423.5 1353.9L423.9 1354.8M424.2 1354.8L424.3 1355.8M425.4 1353.4L425.4 1352.4M425.9 1352.8L426.0 1351.8M426.4 1349.7L426.3 1348.7M426.3 1348.4L427.0 1347.8M426.7 1345.8L427.4 1345.1M427.4 1343.6L427.3 1342.6M427.9 1344.4L427.5 1343.5M428.0 1342.4L428.1 1341.4M428.2 1343.1L429.0 1342.5M429.0 1342.0L429.3 1341.1M429.4 1341.6L430.3 1341.1M430.3 1338.9L430.5 1337.9M430.9 1334.8L431.8 1334.3M431.9 1334.9L432.0 1333.9M432.8 1333.6L433.0 1332.6M433.6 1334.1L434.6 1334.3M434.8 1333.4L435.6 1334.0M435.7 1335.7L436.0 1336.7M436.5 1337.7L436.3 1338.6M436.9 1336.2L436.7 1337.2M436.9 1341.7L437.4 1342.6M437.4 1338.4L438.3 1338.8M438.1 1344.4L438.4 1345.4M438.8 1344.2L439.3 1345.1M439.9 1346.9L440.6 1347.6M441.1 1344.4L442.0 1344.8M442.6 1347.9L443.5 1348.3M444.3 1342.5L445.3 1342.6M445.4 1347.3L446.3 1346.9M447.0 1346.1L447.8 1346.6M448.9 1346.6L449.2 1347.5M449.9 1342.7L450.1 1343.7M450.6 1348.6L451.1 1349.4M451.3 1352.6L451.5 1353.6M451.9 1352.9L452.0 1353.9M452.3 1351.1L453.1 1351.6M453.2 1354.3L453.2 1355.3M453.8 1357.0L454.8 1357.0M455.1 1355.1L456.1 1355.4M456.4 1357.4L457.2 1356.7M457.9 1356.2L458.6 1355.4M459.0 1354.4L459.6 1353.6M460.0 1352.3L460.5 1351.5M460.8 1352.3L461.5 1351.7M461.8 1349.1L462.7 1348.6M463.4 1350.6L462.7 1351.4M462.8 1353.1L463.3 1354.0M463.0 1354.7L463.1 1355.7M462.9 1354.0L463.7 1353.4M464.4 1350.1L465.3 1349.7M465.8 1354.8L466.4 1354.0M467.1 1350.2L468.0 1349.7M468.8 1353.9L469.7 1353.4M470.0 1350.4L470.8 1349.9M471.1 1351.1L472.1 1351.0M473.0 1350.3L474.0 1350.3M474.3 1351.3L475.3 1351.1M475.7 1350.4L476.5 1349.8M477.0 1349.0L477.7 1348.2M478.7 1351.1L479.6 1351.4M479.8 1346.9L480.8 1347.0M481.5 1348.1L482.3 1347.6M482.9 1350.0L483.8 1349.6M484.3 1350.4L485.3 1350.6M485.7 1347.8L486.7 1347.8M487.2 1349.7L488.1 1350.1M488.9 1350.5L489.3 1351.3M490.3 1347.7L490.8 1348.5M491.6 1350.5L492.3 1351.3M493.0 1352.2L493.9 1352.5M494.4 1350.5L495.3 1350.9M495.9 1350.7L496.7 1351.3M497.2 1354.8L498.2 1354.7M498.8 1356.2L499.5 1356.8M500.1 1349.3L501.1 1349.2M501.5 1352.9L502.5 1353.0M503.0 1354.2L504.0 1354.6M504.4 1350.1L505.4 1350.0M506.0 1349.6L506.8 1350.1M507.5 1350.6L508.2 1349.9M509.0 1353.9L509.6 1353.0M510.3 1351.4L511.2 1350.9M511.9 1352.6L512.5 1351.8M513.2 1351.3L514.1 1350.7M514.6 1347.1L515.6 1347.4M516.0 1352.0L517.0 1352.1M517.4 1348.6L518.4 1348.6M518.9 1346.9L519.8 1346.5M520.4 1348.5L521.1 1347.9M521.7 1350.9L522.6 1350.4M523.1 1347.3L524.0 1347.0M524.5 1343.5L525.3 1342.9M526.1 1345.2L526.5 1344.3M527.2 1340.5L528.2 1340.8M528.6 1344.3L529.5 1344.0M529.6 1342.0L530.3 1341.3M531.0 1343.6L531.6 1342.8M532.2 1343.9L533.0 1343.4M533.6 1342.3L534.2 1341.5M534.7 1340.3L535.6 1339.9M536.4 1341.0L537.2 1340.4M537.6 1336.8L538.5 1336.5M538.7 1337.9L539.7 1337.9M540.2 1335.5L540.4 1334.5M540.8 1334.2L541.2 1333.3M542.0 1335.1L542.2 1334.2M542.7 1336.4L543.7 1336.4M543.8 1333.8L544.7 1333.3M544.9 1332.5L545.8 1332.1M546.2 1328.3L546.7 1327.4M547.2 1324.2L548.0 1323.6M548.5 1333.3L549.0 1332.4M549.5 1328.9L550.5 1328.5M550.8 1326.1L551.7 1325.9M552.5 1325.1L553.5 1325.2M554.0 1326.4L554.7 1325.6M555.5 1326.2L556.0 1325.4M556.6 1324.5L557.6 1324.5M558.1 1325.4L559.0 1325.1M559.5 1320.2L560.5 1320.6M561.0 1321.6L561.8 1321.0M562.1 1324.6L562.7 1323.8M563.4 1321.2L564.3 1320.7M565.0 1320.9L565.5 1320.0M566.3 1320.5L567.1 1319.9M567.6 1323.4L568.6 1323.5M569.0 1322.3L570.0 1322.1M570.4 1317.6L571.4 1317.4M571.9 1318.8L572.7 1318.3M573.2 1318.1L574.1 1317.6M574.6 1319.6L575.5 1319.3M575.9 1315.6L576.9 1315.4M577.3 1317.7L578.3 1317.8M578.7 1317.8L579.7 1317.6M580.2 1316.6L581.0 1316.0M581.5 1315.6L582.4 1316.0M582.9 1318.7L583.8 1319.0M584.3 1314.0L585.3 1313.9M585.7 1314.1L586.7 1314.3M587.2 1310.8L588.1 1310.4M588.6 1317.1L589.6 1317.0M590.0 1314.5L591.0 1314.8M591.5 1316.5L592.5 1316.3M593.0 1311.7L594.0 1311.7M594.6 1312.7L595.4 1313.4M596.1 1310.6L596.9 1311.1M597.6 1307.9L598.4 1307.4M599.0 1310.0L600.0 1309.6M600.5 1309.6L601.5 1309.8M602.1 1312.8L603.0 1313.2M603.6 1311.4L604.5 1312.0M605.0 1310.4L606.0 1310.7M606.6 1311.9L607.4 1312.5M608.0 1310.7L609.0 1310.9M609.5 1311.5L610.4 1312.0M611.1 1308.7L611.7 1307.9M612.4 1308.8L613.2 1308.1M613.8 1310.1L614.7 1310.4M615.3 1308.0L616.1 1307.5M616.7 1306.3L617.5 1305.6M618.1 1311.7L618.9 1311.0M619.5 1308.1L620.4 1307.8M621.0 1306.3L621.8 1305.8M622.6 1304.7L623.1 1303.9M623.8 1308.2L624.7 1307.9M625.3 1303.2L626.1 1302.5M626.7 1307.0L627.7 1306.9M628.2 1309.4L629.1 1309.0M629.7 1304.6L630.5 1305.1M631.2 1305.8L632.0 1306.3M632.7 1305.3L633.5 1305.9M634.1 1306.1L635.1 1306.1M635.7 1306.1L636.5 1306.7M637.2 1304.2L637.9 1304.9M638.7 1307.6L639.5 1308.1M640.2 1306.1L641.0 1306.8M641.6 1307.2L642.6 1306.9M643.2 1307.1L644.0 1307.7M644.6 1306.7L645.6 1306.6M646.2 1308.7L647.0 1308.1M647.6 1305.7L648.6 1305.6M649.1 1305.2L650.0 1305.6M650.7 1309.7L651.5 1309.2M652.1 1309.1L653.1 1309.5M653.7 1303.9L654.5 1304.5M655.2 1307.0L656.0 1306.4M656.7 1307.7L657.5 1307.0M658.1 1305.8L659.1 1306.2M659.7 1306.8L660.5 1306.2M661.2 1306.3L662.1 1306.7M662.6 1309.4L663.6 1309.4M664.2 1306.4L665.2 1306.5M665.7 1307.1L666.7 1306.9M667.2 1306.4L668.1 1306.9M668.8 1309.4L669.5 1308.6M670.1 1303.5L671.1 1303.6M671.4 1305.4L672.4 1305.4M673.0 1304.7L673.6 1305.5M674.2 1309.5L675.0 1310.0M675.0 1310.0L675.9 1310.5M676.7 1312.4L676.8 1313.4M677.6 1313.8L678.6 1313.8M679.0 1311.8L679.9 1312.3M680.3 1313.5L681.3 1313.4M681.8 1313.6L682.6 1312.9M683.2 1313.8L684.1 1313.3M685.2 1311.4L685.9 1310.6M686.7 1313.0L687.3 1312.3M687.5 1313.5L688.5 1313.6M688.9 1311.1L689.9 1311.0M690.4 1313.5L691.4 1313.8M691.9 1310.0L692.9 1309.8M693.5 1307.5L694.3 1307.0M694.9 1308.1L695.9 1308.3M696.4 1307.9L697.3 1308.3M697.9 1305.8L698.8 1305.3M699.4 1311.6L700.3 1311.2M701.0 1308.7L701.9 1308.3M702.5 1304.0L703.5 1303.9M703.7 1307.7L704.5 1308.3M705.2 1305.4L706.2 1305.5M706.9 1312.1L707.7 1311.5M708.4 1310.2L709.4 1309.9M709.9 1309.1L710.8 1309.5M711.3 1310.0L712.3 1310.3M712.6 1307.4L713.6 1307.6M714.2 1312.0L715.2 1311.8M715.6 1307.3L716.6 1307.2M717.0 1309.1L717.1 1308.1M717.5 1307.0L718.4 1306.6M718.3 1306.6L719.3 1306.3M718.9 1302.4L719.9 1302.1M719.9 1301.8L720.6 1301.1M720.8 1301.6L720.9 1300.6M721.8 1299.1L721.7 1298.1M722.3 1298.5L723.0 1297.8M723.6 1296.5L723.5 1295.5M724.0 1299.4L724.8 1298.7M724.8 1297.0L725.6 1296.5M725.4 1293.4L726.1 1292.7M726.1 1294.3L727.1 1293.9M727.0 1291.6L727.9 1291.3M727.8 1286.7L728.7 1286.4M728.7 1288.0L729.7 1287.8M729.6 1287.2L730.5 1286.9M730.9 1286.0L731.1 1285.0M731.9 1283.8L732.2 1282.9M733.0 1280.8L734.0 1280.5M734.2 1280.7L735.2 1281.0M735.6 1282.7L736.6 1282.8M737.0 1284.7L738.0 1284.7M738.7 1278.1L739.4 1277.3M740.2 1283.3L741.0 1283.8M741.7 1281.8L742.7 1281.7M743.3 1281.0L744.1 1280.4M744.8 1278.8L745.6 1278.1M746.1 1280.6L747.0 1280.1M747.3 1279.6L748.3 1279.5M749.0 1280.2L749.1 1279.2M749.7 1282.7L749.8 1281.7M750.5 1276.9L751.3 1276.4M751.9 1274.6L752.1 1273.6M752.6 1273.4L753.6 1273.4M753.4 1271.2L754.3 1270.7M755.0 1272.6L756.0 1272.4M756.4 1275.0L757.2 1274.3M757.7 1273.0L758.7 1272.7M759.2 1270.9L760.2 1270.9M760.7 1274.2L761.7 1274.2M762.3 1269.4L763.3 1269.7M763.9 1270.4L764.8 1270.0M765.5 1273.7L766.4 1273.3M766.9 1271.1L767.9 1271.0M768.3 1272.3L769.2 1272.7M769.7 1272.1L770.6 1271.5M771.4 1267.7L772.4 1267.5M772.3 1271.0L773.3 1271.2M773.7 1268.0L774.6 1267.5M774.9 1270.1L775.9 1270.2M776.5 1267.7L776.7 1266.8M777.3 1266.4L778.3 1266.4M778.0 1265.9L779.0 1265.6M779.4 1263.4L779.8 1262.5M780.3 1265.7L780.8 1264.8M781.2 1261.1L781.7 1260.2M781.9 1263.3L782.7 1262.7M782.8 1261.1L782.9 1260.1M783.1 1260.7L783.6 1259.9M784.2 1255.6L784.1 1254.6M784.8 1256.1L785.1 1255.1M785.7 1256.7L785.7 1255.7M786.3 1253.4L787.3 1253.0M787.6 1253.8L788.3 1254.6M788.6 1252.8L789.6 1253.2M789.9 1253.1L790.0 1254.1M790.3 1255.9L790.8 1256.8M791.1 1258.2L791.8 1258.9M792.1 1258.5L792.1 1259.5M792.8 1261.1L792.6 1262.1M793.5 1260.8L793.9 1261.7M794.7 1261.1L795.7 1261.1M795.9 1259.8L796.9 1259.7M797.8 1260.3L798.8 1260.6M799.4 1263.0L800.3 1263.5M800.4 1263.0L801.3 1262.6M802.0 1262.0L803.0 1262.1M803.6 1264.0L804.6 1264.1M805.2 1261.5L805.9 1260.7M806.6 1258.4L807.5 1258.9M808.0 1259.7L809.0 1259.8M809.5 1258.2L810.3 1257.6M810.8 1261.0L811.8 1261.1M812.2 1259.3L813.2 1259.3M813.6 1259.7L814.6 1259.7M814.6 1258.8L815.3 1258.1M816.0 1257.9L816.5 1257.1M817.1 1254.1L817.9 1253.5M818.5 1256.1L819.3 1255.5M819.6 1253.8L820.2 1252.9M820.3 1250.5L821.3 1250.3M821.5 1252.9L821.9 1252.0M822.2 1250.1L822.4 1249.1M822.6 1249.2L823.6 1249.0M823.8 1245.2L824.3 1244.3M824.6 1246.9L825.4 1246.2M825.9 1243.4L826.2 1242.4M827.5 1241.7L827.8 1240.8M828.5 1243.0L829.4 1243.4M829.8 1243.2L830.8 1243.1M831.4 1241.7L832.1 1240.9M832.7 1240.6L833.7 1240.9M834.2 1242.4L835.2 1242.1M835.8 1239.8L836.6 1239.3M837.2 1240.7L838.2 1240.6M838.4 1238.3L839.0 1237.5M839.7 1238.6L840.6 1238.1M841.1 1237.9L842.0 1238.3M842.5 1240.3L843.4 1239.9M844.1 1238.7L844.7 1237.9M845.4 1241.7L846.3 1241.2M847.1 1238.5L847.6 1237.7M848.3 1234.0L849.1 1233.5M849.8 1236.5L850.4 1235.7M850.8 1233.0L851.8 1233.0M852.2 1235.4L852.7 1234.5M853.3 1232.9L853.6 1231.9M853.9 1233.2L854.7 1232.5M854.6 1230.7L855.5 1230.2M855.3 1230.5L856.2 1230.1M856.0 1227.7L856.8 1227.1M856.5 1231.0L857.1 1230.3M857.1 1225.8L857.8 1225.1M857.7 1224.8L858.0 1223.9M858.2 1224.6L858.9 1223.8M859.5 1223.8L859.7 1222.8M860.1 1217.8L860.9 1217.1M861.5 1221.1L862.4 1221.4M863.5 1219.7L864.1 1218.9M864.8 1217.3L865.8 1217.3M865.9 1215.2L866.8 1215.6M867.6 1220.4L868.4 1221.0M869.3 1221.4L870.0 1220.7M870.8 1219.8L871.6 1219.2M872.2 1217.3L873.2 1217.4M873.6 1219.2L874.6 1219.0M875.0 1217.6L876.0 1217.7M876.4 1217.6L877.4 1217.8M877.8 1215.9L878.8 1215.8M879.2 1217.4L880.2 1217.2M880.6 1214.4L881.5 1214.7M882.0 1212.5L882.9 1212.0M882.9 1213.5L883.9 1213.9M884.4 1216.4L885.2 1215.8M885.7 1212.9L886.7 1212.7M887.4 1206.4L887.9 1205.5M888.7 1211.2L889.4 1210.5M889.9 1208.8L890.9 1208.6M891.2 1212.8L892.2 1212.7M892.9 1211.6L893.8 1212.1M894.1 1210.5L895.1 1210.9M895.3 1211.5L895.5 1212.4M896.5 1211.6L896.6 1212.6M897.3 1216.0L897.4 1217.0M898.1 1215.5L899.0 1215.8M899.7 1216.6L900.6 1216.2M900.9 1213.3L901.8 1213.1M902.8 1216.1L903.2 1215.2M903.7 1213.5L903.9 1212.6M905.0 1212.8L905.0 1211.8M905.8 1210.2L906.5 1209.4M907.2 1210.5L907.5 1209.5M908.5 1206.8L909.1 1206.1M909.0 1206.8L910.0 1206.6M910.1 1207.9L911.0 1207.5M911.5 1203.0L912.5 1202.8M912.5 1202.0L913.5 1201.7M914.3 1205.3L915.2 1205.7M915.7 1204.1L916.6 1204.6M917.2 1203.4L917.7 1204.3M918.2 1208.9L918.9 1209.7M919.2 1208.4L920.1 1208.8M921.2 1210.8L922.0 1211.4M923.1 1208.7L923.8 1208.0M924.9 1204.8L925.8 1204.5M926.8 1206.4L927.8 1206.4M928.8 1206.2L929.6 1205.6M931.2 1202.0L931.7 1201.2M933.1 1200.6L933.5 1199.6M935.0 1202.7L936.0 1202.6M937.2 1201.1L938.2 1201.3M939.4 1198.0L939.8 1197.1M940.8 1197.7L941.7 1197.3M942.3 1195.9L943.2 1195.4M943.9 1194.0L944.5 1193.2M945.5 1188.5L946.4 1188.0M947.4 1188.1L948.3 1187.6M949.4 1184.9L950.1 1184.2M951.7 1185.1L951.6 1184.1M953.9 1182.7L953.9 1181.7M955.9 1178.9L956.7 1178.2M958.3 1177.2L959.1 1176.6M961.4 1173.9L961.6 1172.9M963.9 1170.3L964.9 1170.0" fill="none" stroke="#ff0000" stroke-width="7.5" stroke-linecap="round" stroke-linejoin="round" stroke-opacity="0.9"/><path d="M974.3 1154.8L975.0 1154.1M981.1 1148.1L981.8 1147.2M987.8 1139.1L988.6 1138.1M994.6 1131.2L995.3 1130.2M1000.3 1122.4L1001.2 1120.9M1009.8 1106.3L1011.0 1104.1M1019.9 1087.6L1021.3 1085.0M1031.5 1065.1L1032.9 1062.3M1042.4 1043.3L1044.0 1039.7M1056.7 1010.7L1058.7 1006.7M1073.2 983.1L1075.5 979.5M1092.4 954.6L1094.9 951.6M1111.2 935.9L1113.8 934.1M1133.3 925.3L1136.1 923.9" fill="none" stroke="#ff0000" stroke-width="7.5" stroke-linecap="round" stroke-linejoin="round" stroke-opacity="0.9"/><path d="M1146.0 921.4L1147.0 921.1M1148.5 920.3L1149.4 920.0M1150.9 919.5L1151.9 919.7M1153.3 919.1L1154.3 919.2M1155.9 918.6L1156.6 918.0M1158.2 919.6L1159.2 919.6M1160.7 915.8L1161.6 915.3M1162.7 918.4L1163.6 917.9M1165.2 916.5L1166.1 917.1M1167.2 919.6L1168.0 919.0M1169.2 919.5L1170.1 920.0M1170.6 915.5L1171.6 915.3M1172.8 916.3L1173.4 915.5M1174.2 915.5L1175.0 914.9M1176.1 913.8L1177.1 914.3M1177.6 915.5L1178.6 915.8M1179.2 915.7L1180.0 916.2M1180.6 916.4L1181.6 916.3M1182.3 916.3L1182.9 915.6M1183.6 916.5L1184.6 916.1M1185.1 916.5L1186.1 916.6M1186.6 915.7L1187.6 915.6M1188.2 915.8L1189.0 915.2M1189.6 916.5L1190.6 916.3M1191.2 917.4L1192.0 916.7M1192.7 916.6L1193.6 917.0M1194.2 911.0L1195.0 911.6M1195.7 916.2L1196.5 916.7M1197.2 916.1L1198.0 915.5M1198.7 915.3L1199.6 915.8M1200.1 917.6L1201.1 917.8M1201.7 915.4L1202.6 915.8M1203.2 913.5L1204.0 914.1M1204.6 915.2L1205.6 915.5M1206.2 916.3L1207.0 915.6M1207.6 915.8L1208.6 915.5M1209.2 915.4L1210.0 914.8M1210.6 914.4L1211.6 914.1M1212.1 916.6L1213.1 916.7M1213.7 914.5L1214.5 915.1M1215.2 918.5L1216.1 918.1M1216.8 913.7L1217.5 914.4M1218.2 916.3L1219.0 916.9M1219.8 917.1L1220.5 917.8M1221.1 916.0L1222.1 916.2M1222.6 915.3L1223.6 915.1M1224.2 912.9L1225.1 913.4M1225.7 915.3L1226.6 914.9M1227.3 912.6L1228.0 911.9M1228.6 912.5L1229.6 912.6M1230.2 914.3L1231.1 914.8M1231.6 911.2L1232.6 911.1M1233.2 915.4L1234.1 915.0M1234.7 913.4L1235.6 913.9M1236.2 915.8L1237.1 915.5M1237.7 911.2L1238.5 911.8M1239.1 913.3L1240.1 913.1M1240.7 914.3L1241.6 913.8M1242.2 914.9L1243.1 915.4M1243.7 914.3L1244.6 914.6M1245.1 914.7L1246.1 914.5M1246.8 914.8L1247.5 914.1M1248.3 912.2L1249.0 912.9M1249.6 916.3L1250.6 916.4M1251.2 915.3L1252.1 914.9M1252.8 912.8L1253.5 913.4M1254.1 916.7L1255.1 916.8M1255.8 913.4L1256.5 914.0M1257.3 912.3L1258.0 913.0M1258.7 909.8L1259.7 909.8M1260.2 914.7L1261.1 914.2M1261.7 914.8L1262.6 915.2M1263.2 914.7L1264.1 915.1M1264.7 913.4L1265.6 912.9M1266.2 915.2L1267.2 915.3M1267.7 914.7L1268.7 914.5M1269.2 914.4L1270.2 914.3M1270.7 912.4L1271.6 912.0M1272.2 913.8L1273.2 913.6M1273.7 913.8L1274.7 914.0M1275.3 914.0L1276.0 913.3M1276.8 914.2L1277.5 913.5M1278.2 911.6L1279.2 911.9M1279.8 915.2L1280.6 914.6M1281.2 909.2L1282.1 909.7M1282.7 915.2L1283.6 914.8M1284.2 911.0L1285.2 911.3M1285.7 911.0L1286.7 911.1M1287.2 913.1L1288.2 912.8M1288.7 909.0L1289.7 909.0M1290.2 914.8L1291.2 914.7M1291.7 913.3L1292.7 913.7M1293.3 911.7L1294.1 912.3M1294.8 915.4L1295.6 914.8M1296.2 916.2L1297.2 916.3M1297.7 909.7L1298.7 909.4M1299.3 913.5L1300.1 912.8M1300.8 913.4L1301.6 914.0M1302.3 915.3L1303.1 914.8M1303.8 913.5L1304.6 912.9M1305.3 913.7L1306.1 913.2M1306.7 912.9L1307.7 912.7M1308.3 911.5L1309.1 911.1M1309.8 915.5L1310.7 915.0M1311.2 914.3L1312.2 914.6M1312.7 913.8L1313.7 913.7M1314.2 914.5L1315.2 914.1M1315.7 911.0L1316.7 911.4M1317.3 913.0L1318.1 913.7M1318.8 912.1L1319.6 912.8M1320.2 911.3L1321.2 911.6M1321.7 912.7L1322.7 912.6M1323.3 913.2L1324.2 913.7M1324.8 912.0L1325.6 911.4M1326.3 910.8L1327.2 910.4M1327.8 912.7L1328.6 913.3M1329.2 912.5L1330.2 912.7M1330.8 911.1L1331.7 911.6M1332.2 910.1L1333.2 910.0M1333.8 910.9L1334.6 910.3M1335.2 912.6L1336.2 912.4M1336.8 910.9L1337.7 910.5M1338.3 914.1L1339.2 913.6M1339.7 912.5L1340.7 912.6M1341.2 911.2L1342.2 911.2M1342.9 914.9L1343.6 915.6M1344.2 909.1L1345.2 909.2M1345.7 910.4L1346.7 910.7M1347.3 913.9L1348.2 914.4M1348.9 915.3L1349.6 914.6M1350.3 912.5L1351.2 912.0M1351.8 913.0L1352.7 912.5M1353.3 911.4L1354.2 911.0M1354.8 914.4L1355.7 914.9M1356.3 911.8L1357.2 912.3M1357.8 911.4L1358.7 911.2M1359.3 913.2L1360.2 913.6M1360.8 912.8L1361.7 912.7M1362.2 913.5L1363.2 913.4M1363.8 909.4L1364.7 909.7M1365.3 911.9L1366.2 912.0M1366.8 912.1L1367.7 912.3M1368.4 913.8L1369.1 914.5M1369.8 908.1L1370.7 908.6M1371.3 913.2L1372.2 912.7M1372.8 910.8L1373.7 911.2M1374.3 910.4L1375.2 909.9M1375.8 913.3L1376.7 912.9M1377.3 909.9L1378.2 910.3M1378.8 910.4L1379.8 910.4M1380.3 911.9L1381.2 911.4M1381.9 911.8L1382.7 911.2M1383.3 909.2L1384.3 909.1M1384.8 911.9L1385.8 911.7M1386.3 913.0L1387.3 913.0M1387.8 909.7L1388.8 909.9M1389.3 911.7L1390.3 911.9M1390.8 910.8L1391.8 910.7M1392.4 911.2L1393.2 910.5M1393.8 912.0L1394.8 912.0M1395.3 911.8L1396.2 912.3M1396.9 912.6L1397.6 913.3M1398.3 912.2L1399.2 912.7M1399.9 911.5L1400.7 912.1M1401.3 912.0L1402.3 912.0M1402.9 911.2L1403.7 910.6M1404.3 909.9L1405.2 909.5M1405.9 909.9L1406.7 910.5M1407.4 912.0L1408.2 912.6M1408.9 911.2L1409.7 911.7M1410.3 909.6L1411.3 909.9M1411.8 911.5L1412.7 911.8M1413.3 911.0L1414.3 910.8M1414.9 910.4L1415.7 909.9M1416.3 907.7L1417.3 907.7M1417.8 911.0L1418.8 910.9M1419.5 909.6L1420.1 908.8M1420.8 911.6L1421.8 911.7M1422.3 911.1L1423.3 911.2M1423.8 910.0L1424.8 909.9M1425.3 910.3L1426.3 910.5M1426.9 911.2L1427.7 910.7M1428.4 909.4L1429.1 908.7M1429.9 909.1L1430.7 909.6M1431.3 909.8L1432.3 909.8M1432.9 911.3L1433.7 910.6M1434.3 910.8L1435.3 910.7M1435.8 910.4L1436.8 910.5M1437.3 909.9L1438.3 910.1M1438.9 906.6L1439.7 906.1M1440.4 910.3L1441.3 909.9M1441.8 909.4L1442.8 909.8M1443.3 907.9L1444.3 907.6M1444.9 910.4L1445.7 910.9M1446.3 911.9L1447.3 911.9M1447.8 909.2L1448.8 909.4M1449.3 910.9L1450.3 911.1M1450.9 909.1L1451.7 909.8M1452.4 912.3L1453.3 911.9M1453.8 910.1L1454.8 910.2M1455.3 912.2L1456.3 912.2M1456.9 909.8L1457.7 910.3M1458.4 908.8L1459.3 909.2M1459.9 910.6L1460.7 910.0M1461.3 909.3L1462.3 909.4M1462.9 909.1L1463.7 909.7M1464.4 909.2L1465.2 909.9M1465.8 906.1L1466.8 905.9M1467.5 907.0L1468.2 906.3M1468.9 910.1L1469.8 910.5M1470.4 911.4L1471.2 910.8M1471.8 909.5L1472.8 909.5M1473.4 912.9L1474.3 912.5M1474.8 908.0L1475.8 908.1M1476.5 909.3L1477.2 910.0M1478.0 908.7L1478.7 908.0M1479.3 908.7L1480.3 908.6M1480.8 908.0L1481.8 908.1M1482.3 906.6L1483.3 906.5M1483.9 910.0L1484.7 909.4M1485.4 906.7L1486.3 906.4M1486.9 909.3L1487.7 909.9M1488.4 908.4L1489.3 908.8M1489.9 908.7L1490.7 908.0M1491.3 911.2L1492.3 911.2M1492.9 907.3L1493.8 907.1M1494.5 906.8L1495.2 907.4M1495.9 908.7L1496.8 909.2M1497.3 910.8L1498.3 910.8M1498.9 908.1L1499.8 908.1M1500.4 905.9L1501.3 905.7M1502.0 909.1L1502.7 908.4M1503.4 907.3L1504.3 906.7M1505.0 909.6L1505.7 909.0M1506.4 908.4L1507.3 907.9M1508.0 909.8L1508.7 909.1M1509.4 907.2L1510.4 907.1M1510.9 909.1L1511.8 909.4M1512.4 905.8L1513.3 905.4M1514.0 910.0L1514.7 909.3M1515.5 908.6L1516.3 909.3M1517.0 909.3L1517.7 910.0M1518.4 909.3L1519.3 909.0M1519.9 911.2L1520.9 911.4M1521.4 909.6L1522.3 910.1M1522.9 910.4L1523.8 910.0M1524.4 908.0L1525.4 908.1M1526.0 906.9L1526.7 906.3M1527.4 907.0L1528.3 906.6M1529.0 907.9L1529.8 908.6M1530.4 907.9L1531.4 908.0M1531.9 906.7L1532.9 906.6M1533.4 909.0L1534.3 908.6M1535.0 908.3L1535.8 907.7M1536.4 908.5L1537.3 908.9M1537.5 907.6L1538.3 908.2M1538.9 907.5L1539.9 907.8M1540.4 907.6L1541.3 907.1M1542.0 907.3L1542.8 906.6M1543.5 907.8L1544.2 907.1M1544.9 906.9L1545.9 906.9M1546.4 910.3L1547.4 910.3M1547.9 908.7L1548.9 908.6M1549.4 909.5L1550.4 909.9M1550.9 908.3L1551.9 908.2M1552.4 905.5L1553.4 905.3M1554.0 910.6L1554.8 911.3M1555.4 909.5L1556.4 909.9M1557.0 910.3L1557.8 910.9M1558.4 909.2L1559.4 908.9M1560.0 909.0L1560.8 909.6M1561.5 908.0L1562.3 908.7M1562.9 908.5L1563.9 908.8M1564.4 911.1L1565.4 910.8M1565.9 908.3L1566.9 908.1M1567.4 910.2L1568.4 909.9M1568.9 909.3L1569.9 909.0M1570.5 909.5L1571.3 910.1M1572.0 907.8L1572.9 908.3M1573.5 910.5L1574.4 910.2M1575.1 906.4L1575.8 905.7M1576.5 908.9L1577.3 908.3M1577.9 908.6L1578.9 908.8M1579.5 907.4L1580.3 906.9M1580.9 908.4L1581.9 908.2M1582.4 909.5L1583.4 909.5M1584.1 908.5L1584.8 907.8M1585.6 907.3L1586.3 908.0M1587.1 907.6L1587.8 906.9M1588.5 909.4L1589.4 908.9M1590.0 909.9L1590.9 910.3M1591.4 909.0L1592.4 909.1M1593.0 908.2L1593.9 907.8M1594.4 907.7L1595.4 907.6M1596.0 907.3L1596.8 907.9M1597.5 908.8L1598.4 908.6M1599.0 908.3L1599.9 907.8M1600.5 910.0L1601.3 910.6M1602.1 908.4L1602.8 907.7M1603.5 911.2L1604.4 910.8M1605.0 906.2L1605.9 905.9M1606.6 905.1L1607.3 904.5M1608.1 907.9L1608.8 907.3M1609.5 909.6L1610.4 910.1M1611.0 907.6L1611.9 907.1M1612.6 910.3L1613.3 909.7M1614.0 908.1L1614.9 907.5M1615.5 908.7L1616.4 908.1M1617.0 910.7L1617.9 911.1M1618.5 910.3L1619.4 909.8M1620.1 913.3L1620.8 913.9M1621.5 905.1L1622.4 905.6M1623.0 905.0L1623.9 905.4M1624.5 907.7L1625.4 908.0M1626.1 906.5L1626.9 907.1M1627.6 910.8L1628.3 910.2M1629.0 909.3L1629.9 908.8M1630.5 907.3L1631.4 907.8M1632.0 907.9L1632.9 907.4M1633.6 907.8L1634.3 908.5M1635.1 907.6L1635.9 908.2M1636.5 908.4L1637.4 908.8M1638.0 907.4L1639.0 907.2M1639.5 907.1L1640.5 907.2M1641.0 906.5L1642.0 906.7M1642.6 910.1L1643.4 909.4M1644.1 909.1L1644.9 909.7M1645.5 907.3L1646.5 907.2M1647.0 908.8L1647.9 908.4M1648.5 909.6L1649.5 909.6M1650.0 908.1L1651.0 908.3M1651.5 908.0L1652.5 907.9M1653.1 906.1L1653.8 905.4M1654.5 908.2L1655.4 907.7M1656.1 909.9L1656.9 909.3M1657.6 910.0L1658.4 909.3M1659.0 908.1L1660.0 908.4" fill="none" stroke="#ff0000" stroke-width="7.5" stroke-linecap="round" stroke-linejoin="round" stroke-opacity="0.9"/></g>
<g><path d="M281.0 1696.0L281.7 1662.6L282.4 1696.0L283.1 1696.0L283.8 1687.4L284.5 1696.0L285.2 1696.0L285.9 1660.3L286.6 1696.0L287.3 1696.0L288.0 1696.0L288.7 1659.6L289.4 1682.6L290.1 1696.0L290.8 1696.0L291.5 1696.0L292.2 1659.7L292.9 1693.3L293.6 1660.8L294.3 1696.0L295.0 1655.2L295.7 1696.0L296.4 1696.0L297.1 1692.3L297.8 1696.0L298.5 1696.0L299.2 1696.0L299.9 1696.0L300.6 1696.0L301.3 1696.0L302.0 1696.0L302.7 1696.0L303.4 1696.0L304.1 1692.6L304.8 1696.0L305.5 1696.0L306.2 1691.2L306.9 1696.0L307.6 1696.0L308.3 1660.6L309.0 1696.0L309.7 1696.0L310.4 1655.5L311.1 1630.6L311.8 1696.0L312.5 1626.7L313.2 1656.0L313.9 1630.3L314.6 1696.0L315.3 1647.2L316.0 1696.0L316.7 1696.0L317.4 1696.0L318.1 1679.6L318.8 1696.0L319.5 1696.0L320.2 1696.0L320.9 1696.0L321.6 1696.0L322.3 1696.0L323.0 1696.0L323.7 1680.6L324.4 1688.0L325.1 1696.0L325.8 1696.0L326.5 1696.0L327.2 1696.0L327.9 1675.4L328.6 1676.6L329.3 1676.7L330.0 1696.0L330.7 1696.0L331.4 1681.7L332.1 1696.0L332.8 1696.0L333.5 1696.0L334.2 1696.0L334.9 1689.1L335.6 1696.0L336.3 1681.9L337.0 1696.0L337.7 1696.0L338.4 1696.0L339.1 1681.2L339.8 1696.0L340.5 1679.6L341.2 1679.9L341.9 1696.0L342.6 1696.0L343.3 1696.0L344.0 1696.0L344.7 1696.0L345.4 1696.0L346.1 1676.9L346.8 1696.0L347.5 1696.0L348.2 1688.5L348.9 1696.0L349.6 1696.0L350.3 1680.0L351.0 1696.0L351.7 1686.6L352.4 1696.0L353.1 1696.0L353.8 1696.0L354.5 1681.5L355.2 1696.0L355.9 1696.0L356.6 1696.0L357.3 1696.0L358.0 1696.0L358.7 1691.6L359.4 1696.0L360.1 1696.0L360.8 1696.0L361.5 1696.0L362.2 1684.2L362.9 1685.1L363.6 1696.0L364.3 1696.0L365.0 1696.0L365.7 1696.0L366.4 1683.7L367.1 1696.0L367.8 1629.2L368.5 1649.7L369.2 1696.0L369.9 1696.0L370.6 1696.0L371.3 1664.4L372.0 1696.0L372.7 1658.0L373.4 1696.0L374.1 1621.1L374.8 1696.0L375.5 1696.0L376.2 1696.0L376.9 1679.9L377.6 1638.1L378.3 1680.4L379.0 1696.0L379.7 1696.0L380.4 1658.2L381.1 1661.2L381.8 1696.0L382.5 1696.0L383.2 1696.0L383.9 1652.7L384.6 1696.0L385.3 1695.7L386.0 1649.0L386.7 1696.0L387.4 1696.0L388.1 1696.0L388.8 1685.3L389.5 1676.2L390.2 1669.2L390.9 1670.5L391.6 1638.1L392.3 1663.1L393.0 1669.0L393.7 1696.0L394.4 1696.0L395.1 1696.0L395.8 1678.6L396.5 1696.0L397.2 1696.0L397.9 1696.0L398.6 1696.0L399.3 1651.1L400.0 1696.0L400.7 1696.0L401.4 1696.0L402.1 1696.0L402.8 1672.8L403.5 1696.0L404.2 1696.0L404.9 1649.9L405.6 1696.0L406.3 1696.0L407.0 1696.0L407.7 1696.0L408.4 1696.0L409.1 1678.1L409.8 1696.0L410.5 1696.0L411.2 1696.0L411.9 1696.0L412.6 1696.0L413.3 1694.9L414.0 1696.0L414.7 1696.0L415.4 1678.5L416.1 1696.0L416.8 1696.0L417.5 1696.0L418.2 1682.8L418.9 1696.0L419.6 1688.3L420.3 1696.0L421.0 1696.0L421.7 1679.5L422.4 1696.0L423.1 1696.0L423.8 1696.0L424.5 1696.0L425.2 1696.0L425.9 1696.0L426.6 1696.0L427.3 1696.0L428.0 1668.2L428.7 1696.0L429.4 1696.0L430.1 1681.9L430.8 1696.0L431.5 1696.0L432.2 1696.0L432.9 1696.0L433.6 1659.7L434.3 1665.0L435.0 1683.7L435.7 1678.0L436.4 1688.5L437.1 1696.0L437.8 1690.0L438.5 1696.0L439.2 1696.0L439.9 1696.0L440.6 1696.0L441.3 1696.0L442.0 1696.0L442.7 1696.0L443.4 1683.0L444.1 1696.0L444.8 1696.0L445.5 1696.0L446.2 1696.0L446.9 1696.0L447.6 1696.0L448.3 1696.0L449.0 1680.1L449.7 1696.0L450.4 1696.0L451.1 1696.0L451.8 1696.0L452.5 1696.0L453.2 1696.0L453.9 1624.6L454.6 1620.6L455.3 1696.0L456.0 1696.0L456.7 1696.0L457.4 1618.3L458.1 1696.0L458.8 1696.0L459.5 1676.9L460.2 1610.9L460.9 1616.1L461.6 1659.3L462.3 1676.6L463.0 1604.8L463.7 1652.6L464.4 1611.1L465.1 1676.4L465.8 1623.6L466.5 1658.1L467.2 1696.0L467.9 1696.0L468.6 1663.3L469.3 1696.0L470.0 1696.0L470.7 1657.6L471.4 1607.9L472.1 1644.2L472.8 1696.0L473.5 1696.0L474.2 1691.5L474.9 1639.2L475.6 1666.9L476.3 1696.0L477.0 1646.4L477.7 1656.3L478.4 1646.6L479.1 1693.0L479.8 1649.9L480.5 1696.0L481.2 1625.6L481.9 1630.9L482.6 1626.8L483.3 1696.0L484.0 1696.0L484.7 1615.6L485.4 1671.2L486.1 1696.0L486.8 1696.0L487.5 1611.2L488.2 1573.8L488.9 1576.9L489.6 1696.0L490.3 1634.3L491.0 1696.0L491.7 1696.0L492.4 1696.0L493.1 1696.0L493.8 1685.9L494.5 1668.4L495.2 1686.4L495.9 1696.0L496.6 1651.0L497.3 1609.7L498.0 1696.0L498.7 1670.8L499.4 1696.0L500.1 1661.1L500.8 1632.1L501.5 1696.0L502.2 1696.0L502.9 1696.0L503.6 1628.9L504.3 1675.9L505.0 1647.0L505.7 1615.4L506.4 1696.0L507.1 1632.9L507.8 1625.0L508.5 1631.4L509.2 1622.7L509.9 1696.0L510.6 1696.0L511.3 1682.1L512.0 1696.0L512.7 1696.0L513.4 1696.0L514.1 1696.0L514.8 1696.0L515.5 1696.0L516.2 1696.0L516.9 1696.0L517.6 1696.0L518.3 1683.8L519.0 1696.0L519.7 1696.0L520.4 1676.5L521.1 1694.2L521.8 1696.0L522.5 1630.6L523.2 1595.9L523.9 1610.6L524.6 1599.0L525.3 1593.1L526.0 1602.4L526.7 1618.8L527.4 1696.0L528.1 1696.0L528.8 1608.2L529.5 1592.0L530.2 1696.0L530.9 1696.0L531.6 1696.0L532.3 1658.4L533.0 1637.9L533.7 1696.0L534.4 1696.0L535.1 1666.9L535.8 1696.0L536.5 1608.9L537.2 1634.0L537.9 1696.0L538.6 1696.0L539.3 1634.4L540.0 1664.6L540.7 1637.9L541.4 1656.7L542.1 1631.0L542.8 1615.6L543.5 1599.5L544.2 1696.0L544.9 1609.7L545.6 1696.0L546.3 1668.3L547.0 1696.0L547.7 1665.1L548.4 1619.2L549.1 1696.0L549.8 1664.7L550.5 1696.0L551.2 1600.1L551.9 1660.0L552.6 1615.5L553.3 1655.1L554.0 1642.8L554.7 1696.0L555.4 1696.0L556.1 1660.3L556.8 1603.6L557.5 1620.6L558.2 1659.7L558.9 1630.8L559.6 1619.2L560.3 1625.9L561.0 1696.0L561.7 1696.0L562.4 1647.6L563.1 1650.0L563.8 1597.8L564.5 1593.6L565.2 1616.1L565.9 1634.8L566.6 1696.0L567.3 1636.5L568.0 1590.6L568.7 1607.0L569.4 1696.0L570.1 1672.2L570.8 1637.7L571.5 1623.5L572.2 1583.6L572.9 1696.0L573.6 1664.1L574.3 1602.3L575.0 1572.0L575.7 1580.3L576.4 1607.2L577.1 1572.9L577.8 1649.1L578.5 1580.9L579.2 1582.3L579.9 1653.0L580.6 1637.4L581.3 1655.8L582.0 1638.7L582.7 1603.6L583.4 1609.3L584.1 1696.0L584.8 1575.8L585.5 1669.6L586.2 1605.7L586.9 1625.7L587.6 1696.0L588.3 1561.4L589.0 1588.9L589.7 1564.7L590.4 1634.7L591.1 1564.8L591.8 1696.0L592.5 1631.4L593.2 1601.2L593.9 1696.0L594.6 1604.8L595.3 1696.0L596.0 1696.0L596.7 1573.5L597.4 1588.6L598.1 1696.0L598.8 1564.3L599.5 1573.3L600.2 1610.9L600.9 1562.7L601.6 1628.0L602.3 1660.4L603.0 1642.5L603.7 1696.0L604.4 1550.1L605.1 1596.5L605.8 1572.7L606.5 1696.0L607.2 1602.6L607.9 1547.4L608.6 1575.3L609.3 1554.3L610.0 1544.4L610.7 1598.7L611.4 1592.4L612.1 1696.0L612.8 1696.0L613.5 1568.6L614.2 1548.5L614.9 1555.9L615.6 1589.9L616.3 1558.4L617.0 1682.3L617.7 1696.0L618.4 1595.8L619.1 1587.5L619.8 1696.0L620.5 1696.0L621.2 1534.8L621.9 1632.0L622.6 1696.0L623.3 1625.5L624.0 1543.5L624.7 1529.1L625.4 1595.7L626.1 1585.4L626.8 1542.3L627.5 1696.0L628.2 1655.5L628.9 1696.0L629.6 1616.5L630.3 1639.3L631.0 1568.5L631.7 1561.4L632.4 1572.2L633.1 1679.7L633.8 1544.7L634.5 1661.5L635.2 1696.0L635.9 1618.8L636.6 1696.0L637.3 1681.1L638.0 1696.0L638.7 1670.0L639.4 1547.8L640.1 1668.0L640.8 1626.5L641.5 1550.8L642.2 1696.0L642.9 1615.2L643.6 1696.0L644.3 1696.0L645.0 1610.4L645.7 1682.2L646.4 1551.0L647.1 1563.4L647.8 1547.8L648.5 1583.1L649.2 1600.1L649.9 1545.0L650.6 1539.2L651.3 1594.0L652.0 1557.9L652.7 1685.9L653.4 1609.4L654.1 1678.6L654.8 1587.5L655.5 1673.4L656.2 1604.2L656.9 1696.0L657.6 1571.8L658.3 1537.8L659.0 1684.1L659.7 1696.0L660.4 1595.8L661.1 1696.0L661.8 1696.0" fill="none" stroke="#008e00" stroke-width="6.6" stroke-linecap="round" stroke-linejoin="round" stroke-opacity="0.99"/><path d="M662.0 1642.9L662.5 1540.6L663.1 1541.3L663.6 1590.7L664.2 1614.1L664.7 1558.6L665.3 1557.3L665.8 1539.9L666.4 1523.6L666.9 1561.8L667.5 1572.6L668.0 1551.4L668.6 1533.2L669.1 1560.1L669.7 1524.0L670.2 1550.8L670.8 1524.6L671.3 1535.8L671.9 1555.4L672.4 1542.4L673.0 1548.4L673.5 1527.6L674.1 1572.8L674.6 1520.6L675.2 1563.3L675.7 1550.7L676.3 1550.3L676.8 1539.9L677.4 1591.1L677.9 1537.5L678.5 1583.0L679.0 1517.9L679.6 1588.7L680.1 1540.4L680.7 1568.3L681.2 1531.4L681.8 1607.8L682.3 1560.5L682.9 1510.5L683.4 1560.6L684.0 1523.9L684.5 1622.2L685.1 1586.8L685.6 1517.4L686.2 1537.0L686.7 1552.8L687.3 1525.1L687.8 1519.3L688.4 1515.9L688.9 1535.5L689.5 1532.1L690.0 1579.6L690.6 1556.0L691.1 1556.9L691.7 1524.5L692.2 1573.0L692.8 1503.0L693.3 1524.4L693.9 1525.4L694.4 1552.1L695.0 1518.0L695.5 1514.1L696.1 1516.8L696.6 1537.6L697.2 1522.5L697.7 1519.7L698.3 1505.5L698.8 1534.0L699.4 1525.2L699.9 1549.5L700.5 1566.1L701.0 1535.7L701.6 1500.8L702.1 1549.7L702.7 1497.8L703.2 1502.5L703.8 1569.0L704.3 1567.0L704.9 1571.1L705.4 1591.5L706.0 1568.6L706.5 1502.8L707.1 1504.7L707.6 1535.0L708.2 1536.3L708.7 1552.4L709.3 1518.9L709.8 1535.1L710.4 1536.2L710.9 1526.4L711.5 1529.6L712.0 1588.8L712.6 1529.6L713.1 1589.4L713.7 1557.3L714.2 1542.6L714.8 1517.1L715.3 1500.8L715.9 1507.5L716.4 1522.9L717.0 1493.1L717.5 1515.8L718.1 1518.0L718.6 1513.9L719.2 1492.1L719.7 1525.8L720.3 1492.0L720.8 1524.3L721.4 1502.6L721.9 1563.4L722.5 1522.4L723.0 1578.9L723.6 1558.8L724.1 1570.7L724.7 1496.3L725.2 1503.1L725.8 1514.0L726.3 1502.3L726.9 1556.2L727.4 1548.5L728.0 1528.5L728.5 1494.2L729.1 1495.8L729.6 1538.7L730.2 1502.5L730.7 1521.8L731.3 1495.9L731.8 1500.8L732.4 1547.1L732.9 1515.2L733.5 1494.9L734.0 1559.2L734.6 1550.2L735.1 1508.4L735.7 1523.6L736.2 1534.9L736.8 1544.6L737.3 1545.1L737.9 1510.9L738.4 1543.4L739.0 1544.6L739.5 1551.4L740.1 1544.3L740.6 1494.6L741.2 1526.5L741.7 1500.0L742.3 1531.0L742.8 1514.2L743.4 1527.8L743.9 1515.8L744.5 1508.9L745.0 1520.0L745.6 1488.4L746.1 1492.8L746.7 1492.1L747.2 1524.0L747.8 1517.2L748.3 1512.8L748.9 1527.8L749.4 1524.4L750.0 1516.2L750.5 1526.7L751.1 1537.4L751.6 1507.7L752.2 1518.5L752.7 1510.6L753.3 1495.2L753.8 1488.7L754.4 1514.6L754.9 1516.7L755.5 1499.2L756.0 1518.6L756.6 1485.2L757.1 1526.1L757.7 1510.7L758.2 1501.7L758.8 1498.1L759.3 1524.9L759.9 1483.5L760.4 1507.0L761.0 1490.5L761.5 1512.8L762.1 1505.2L762.6 1534.4L763.2 1507.4L763.7 1506.0L764.3 1486.8L764.8 1488.4L765.4 1495.7L765.9 1484.9L766.5 1512.1L767.0 1519.7L767.6 1483.8L768.1 1519.4L768.7 1518.3L769.2 1534.8L769.8 1530.7L770.3 1506.3L770.9 1525.4L771.4 1518.1L772.0 1513.6L772.5 1527.6L773.1 1513.9L773.6 1526.9L774.2 1494.8L774.7 1481.4L775.3 1517.1L775.8 1477.3L776.4 1525.8L776.9 1481.3L777.5 1498.5L778.0 1498.1L778.6 1500.9L779.1 1509.0L779.7 1479.8L780.2 1490.7L780.8 1486.3L781.3 1491.0L781.9 1478.5L782.4 1476.0L783.0 1514.6L783.5 1478.2L784.1 1486.4L784.6 1486.5L785.2 1477.3L785.7 1531.5L786.3 1513.7L786.8 1525.5L787.4 1499.2L787.9 1508.6L788.5 1476.0L789.0 1523.7L789.6 1492.7L790.1 1473.8L790.7 1494.1L791.2 1484.0L791.8 1492.4L792.3 1511.1L792.9 1488.7L793.4 1483.0L794.0 1527.8L794.5 1479.1L795.1 1478.4L795.6 1524.3L796.2 1539.6L796.7 1486.8L797.3 1543.3L797.8 1520.4L798.4 1485.9L798.9 1542.5L799.5 1537.1L800.0 1471.9L800.6 1481.0L801.1 1538.0L801.7 1522.5L802.2 1488.8L802.8 1512.1L803.3 1494.7L803.9 1531.8L804.4 1473.6L805.0 1549.9L805.5 1485.5L806.1 1482.8L806.6 1494.8L807.2 1503.7L807.7 1512.1L808.3 1491.0L808.8 1529.5L809.4 1520.5L809.9 1510.9L810.5 1502.8L811.0 1504.8L811.6 1511.1L812.1 1508.5L812.7 1490.9L813.2 1488.8L813.8 1548.8L814.3 1503.3L814.9 1504.4L815.4 1526.9L816.0 1520.1L816.5 1463.7L817.1 1475.6L817.6 1485.1L818.2 1499.2L818.7 1509.1L819.3 1503.4L819.8 1464.9L820.4 1508.6L820.9 1499.5L821.5 1506.6L822.0 1517.1L822.6 1482.7L823.1 1464.5L823.7 1469.3L824.2 1540.6L824.8 1497.1L825.3 1507.6L825.9 1517.9L826.4 1554.4L827.0 1496.7L827.5 1497.6L828.1 1466.0L828.6 1475.8L829.2 1511.8L829.7 1465.6L830.3 1481.4L830.8 1493.8L831.4 1474.0L831.9 1493.5L832.5 1482.4L833.0 1481.5L833.6 1489.9L834.1 1477.9L834.7 1487.3L835.2 1464.6L835.8 1501.4" fill="none" stroke="#008e00" stroke-width="7.0" stroke-linecap="round" stroke-linejoin="round" stroke-opacity="0.99"/><path d="M833.7 1504.1L834.2 1502.2L834.7 1500.2L835.2 1498.3L835.6 1496.4L836.1 1494.4L836.6 1492.5L837.0 1490.6L837.5 1488.6L837.9 1486.7L838.4 1484.8L838.8 1482.8L839.3 1480.9L839.7 1478.9L840.1 1477.0L840.6 1475.1L841.0 1473.1L841.4 1471.2L841.8 1469.2L842.3 1467.3L842.7 1465.3L843.1 1463.4L843.5 1461.4L843.9 1459.5L844.3 1457.5L844.7 1455.6L845.1 1453.6L845.5 1451.6L845.9 1449.7L846.3 1447.7L846.7 1445.8L847.1 1443.8L847.5 1441.8L847.9 1439.9L848.2 1437.9L848.6 1436.0L849.0 1434.0L849.4 1432.0L849.7 1430.1L850.1 1428.1L850.5 1426.1L850.8 1424.1L851.2 1422.2L851.5 1420.2L851.9 1418.2L852.3 1416.3L852.6 1414.3L853.0 1412.3L853.3 1410.3L853.6 1408.4L854.0 1406.4L854.3 1404.4L854.7 1402.4L855.0 1400.5L855.3 1398.5L855.7 1396.5L856.0 1394.5L856.3 1392.5L856.6 1390.6L857.0 1388.6L857.3 1386.6L857.6 1384.6L857.9 1382.6L858.2 1380.6L858.5 1378.6L858.9 1376.7L859.2 1374.7L859.5 1372.7L859.8 1370.7L860.1 1368.7L860.4 1366.7L860.7 1364.7L861.0 1362.7L861.3 1360.8L861.6 1358.8L861.9 1356.8L862.2 1354.8L862.4 1352.8L862.7 1350.8L863.0 1348.8L863.3 1346.8L863.6 1344.8L863.9 1342.8L864.2 1340.8L864.4 1338.8L864.7 1336.8L865.0 1334.8L865.3 1332.9L865.5 1330.9L865.8 1328.9L866.1 1326.9L866.4 1324.9L866.6 1322.9L866.9 1320.9L867.2 1318.9L867.4 1316.9L867.7 1314.9L867.9 1312.9L868.2 1310.9L868.5 1308.9L868.7 1306.9L869.0 1304.9L869.2 1302.9L869.5 1300.9L869.8 1298.9L870.0 1296.9L870.3 1294.9L870.5 1292.9L870.8 1290.9L871.0 1288.9L871.3 1286.9L871.5 1284.9L871.8 1282.9L872.0 1280.9L872.3 1278.9L872.5 1276.9L872.8 1274.9L873.0 1272.9L873.2 1270.9L873.5 1268.9L873.7 1266.9L874.0 1264.9L874.2 1262.9L874.5 1260.9L874.7 1258.9L874.9 1256.9L875.2 1254.9L875.4 1252.9L875.7 1250.9L875.9 1248.9L876.1 1246.9L876.4 1244.9L876.6 1242.9L876.8 1240.9L877.1 1238.9L877.3 1236.9L877.6 1234.9L877.8 1232.9L878.0 1230.9L878.3 1228.9L878.5 1226.9L878.7 1224.9L879.0 1222.9L879.2 1220.9L879.4 1218.9L879.7 1216.9L879.9 1214.9L880.1 1212.9L880.4 1210.9L880.6 1208.9L880.8 1206.9L881.1 1204.9L881.3 1203.0L881.5 1201.0L881.8 1199.0L882.0 1197.0L882.3 1195.0L882.5 1193.0L882.7 1191.0L883.0 1189.0L883.2 1187.0L883.4 1185.0L883.7 1183.0L883.9 1181.1L884.1 1179.1L884.4 1177.1L884.6 1175.1L884.9 1173.1L885.1 1171.1L885.3 1169.1L885.6 1167.1L885.8 1165.2L886.1 1163.2L886.3 1161.2L886.5 1159.2L886.8 1157.2L887.0 1155.2L887.3 1153.3L887.5 1151.3L887.8 1149.3L888.0 1147.3L888.2 1145.3L888.5 1143.3L888.7 1141.4L889.0 1139.4L889.2 1137.4L889.5 1135.4L889.7 1133.4L890.0 1131.5L890.2 1129.5L890.5 1127.5L890.7 1125.5L891.0 1123.5L891.2 1121.6L891.5 1119.6L891.7 1117.6L892.0 1115.6L892.2 1113.7L892.5 1111.7L892.7 1109.7L893.0 1107.7L893.2 1105.8L893.5 1103.8L893.8 1101.8L894.0 1099.8L894.3 1097.9L894.5 1095.9L894.8 1093.9L895.1 1091.9L895.3 1090.0L895.6 1088.0L895.8 1086.0L896.1 1084.1L896.4 1082.1L896.6 1080.1L896.9 1078.1L897.2 1076.2L897.4 1074.2L897.7 1072.2L898.0 1070.3L898.2 1068.3L898.5 1066.3L898.8 1064.4L899.0 1062.4L899.3 1060.4L899.6 1058.4L899.9 1056.5L900.1 1054.5L900.4 1052.5L900.7 1050.6L901.0 1048.6L901.3 1046.6L901.5 1044.7L901.8 1042.7L902.1 1040.7L902.4 1038.8L902.7 1036.8L903.0 1034.8L903.2 1032.9L903.5 1030.9L903.8 1028.9L904.1 1027.0L904.4 1025.0L904.7 1023.0L905.0 1021.1L905.3 1019.1L905.6 1017.2L905.9 1015.2L906.2 1013.2L906.5 1011.3L906.8 1009.3L907.1 1007.3L907.4 1005.4L907.7 1003.4L908.0 1001.4L908.3 999.5L908.6 997.5L908.9 995.5L909.2 993.6L909.5 991.6L909.8 989.7L910.1 987.7L910.4 985.7L910.7 983.8L911.1 981.8L911.4 979.8L911.7 977.9L912.0 975.9L912.3 974.0L912.6 972.0L913.0 970.0L913.3 968.1L913.6 966.1L913.9 964.1L914.3 962.2L914.6 960.2L914.9 958.3L915.3 956.3L915.6 954.3L915.9 952.4L916.3 950.4L916.6 948.4L916.9 946.5L917.3 944.5L917.6 942.6L918.0 940.6L918.3 938.6L918.7 936.7L919.0 934.7L919.4 932.8L919.7 930.8L920.1 928.8L920.4 926.9L920.8 924.9L921.1 922.9L921.5 921.0L921.8 919.0L922.2 917.1L922.6 915.1L922.9 913.1L923.3 911.2L923.7 909.2L924.0 907.3L924.4 905.3L924.8 903.3L925.1 901.4L925.5 899.4L925.9 897.4L926.3 895.5L926.7 893.5L927.0 891.6L927.4 889.6L927.8 887.6L928.2 885.7L928.6 883.7L929.0 881.7L929.4 879.8L929.8 877.8L930.1 875.8L930.5 873.9L930.9 871.9L931.3 870.0L931.7 868.0L932.1 866.0L932.6 864.1L933.0 862.1L933.4 860.1L933.8 858.2L934.2 856.2L934.6 854.2L935.0 852.3L935.4 850.3L935.9 848.4L936.3 846.4L936.7 844.4L937.1 842.5L937.6 840.5L938.0 838.5L938.4 836.6L938.9 834.6L939.3 832.6L939.7 830.7L940.2 828.7L940.6 826.7L941.1 824.8L941.5 822.8L942.0 820.8L942.4 818.9L942.9 816.9L943.3 814.9L943.8 813.0L944.2 811.0L944.7 809.0L945.1 807.0L945.6 805.1L946.1 803.1L946.5 801.1L947.0 799.2L947.5 797.2L948.0 795.2L948.4 793.3L948.9 791.3L949.4 789.3L949.9 787.4L950.4 785.4L950.9 783.4L951.4 781.5L951.9 779.5L952.4 777.5L952.9 775.6L953.4 773.6L953.9 771.7L954.4 769.7L954.9 767.7L955.4 765.8L955.9 763.8L956.4 761.8L957.0 759.9L957.5 757.9L958.0 756.0L958.6 754.0L959.1 752.1L959.6 750.1L960.2 748.1L960.7 746.2L961.3 744.2L961.8 742.3L962.4 740.3L962.9 738.4L963.5 736.4L964.1 734.5L964.6 732.5L965.2 730.6L965.8 728.7L966.3 726.7L966.9 724.8L967.5 722.8L968.1 720.9L968.7 719.0L969.3 717.0L969.9 715.1L970.5 713.2L971.1 711.2L971.7 709.3L972.3 707.4L972.9 705.4L973.6 703.5L974.2 701.6L974.8 699.7L975.5 697.8L976.1 695.8L976.7 693.9L977.4 692.0L978.0 690.1L978.7 688.2L979.3 686.3L980.0 684.4L980.7 682.5L981.3 680.6L982.0 678.7L982.7 676.8L983.4 674.9L984.1 673.0L984.7 671.1L985.4 669.2L986.1 667.3L986.8 665.4L987.6 663.5L988.3 661.7L989.0 659.8L989.7 657.9L990.4 656.0L991.2 654.2L991.9 652.3L992.6 650.4L993.4 648.6L994.1 646.7L994.9 644.9L995.7 643.0L996.4 641.1L997.2 639.3L998.0 637.4L998.8 635.6L999.5 633.8L1000.3 631.9L1001.1 630.1L1001.9 628.3L1002.7 626.4L1003.5 624.6L1004.4 622.8L1005.2 621.0L1006.0 619.1L1006.8 617.3L1007.7 615.5L1008.5 613.7L1009.4 611.9L1010.2 610.1L1011.1 608.3L1011.9 606.5L1012.8 604.7L1013.7 602.9L1014.5 601.1L1015.4 599.3L1016.3 597.6L1017.2 595.8L1018.1 594.0L1019.0 592.3L1019.9 590.5L1020.9 588.7L1021.8 587.0L1022.7 585.2L1023.7 583.5L1024.6 581.7L1025.5 580.0L1026.5 578.2L1027.5 576.5L1028.4 574.8L1029.4 573.0L1030.4 571.3L1031.4 569.6L1032.3 567.9L1033.3 566.2L1034.3 564.5L1035.4 562.8L1036.4 561.1L1037.4 559.4L1038.4 557.7L1039.5 556.0L1040.5 554.3L1041.5 552.6L1042.6 550.9L1043.6 549.3L1044.7 547.6L1045.8 545.9L1046.9 544.3L1048.0 542.6L1049.0 541.0L1050.1 539.3L1051.2 537.7L1052.4 536.1L1053.5 534.4L1054.6 532.8L1055.7 531.2L1056.9 529.6L1058.0 528.0L1059.2 526.4L1060.3 524.8L1061.5 523.2L1062.7 521.6L1063.9 520.0L1065.0 518.4L1066.2 516.8L1067.4 515.3L1068.6 513.7L1069.9 512.1L1071.1 510.6L1072.3 509.0L1073.6 507.5L1074.8 505.9L1076.1 504.4L1077.3 502.9L1078.6 501.3L1079.8 499.8L1081.1 498.3L1082.4 496.8L1083.7 495.3L1085.0 493.8L1086.3 492.3L1087.6 490.8L1089.0 489.3L1090.3 487.8L1091.6 486.3L1093.0 484.9L1094.3 483.4L1095.7 481.9L1097.0 480.5L1098.4 479.0L1099.8 477.6L1101.1 476.2L1102.5 474.7L1103.9 473.3L1105.3 471.9L1106.7 470.4L1108.1 469.0L1109.5 467.6L1111.0 466.2L1112.4 464.8L1113.8 463.4L1115.3 462.0L1116.7 460.7L1118.2 459.3L1119.6 457.9L1121.1 456.5L1122.5 455.2L1124.0 453.8L1125.5 452.5L1127.0 451.1L1128.5 449.8L1130.0 448.5L1131.5 447.1L1133.0 445.8L1134.5 444.5L1136.0 443.2L1137.5 441.9L1139.1 440.5L1140.6 439.2L1142.1 438.0L1143.7 436.7L1145.2 435.4L1146.8 434.1L1148.3 432.8L1149.9 431.6L1151.5 430.3L1153.1 429.0L1154.6 427.8L1156.2 426.5L1157.8 425.3L1159.4 424.1L1161.0 422.8L1162.6 421.6L1164.2 420.4L1165.8 419.2L1167.4 418.0L1169.0 416.8L1170.7 415.6L1172.3 414.4L1173.9 413.2L1175.6 412.0L1177.2 410.8L1178.9 409.6L1180.5 408.5L1182.2 407.3L1183.8 406.2L1185.5 405.0L1187.1 403.9L1188.8 402.7L1190.5 401.6L1192.2 400.5L1193.9 399.3L1195.5 398.2L1197.2 397.1L1198.9 396.0L1200.6 394.9L1202.3 393.8L1204.0 392.7L1205.7 391.6L1207.4 390.5L1209.1 389.5L1210.9 388.4L1212.6 387.3L1214.3 386.3L1216.0 385.2L1217.8 384.2L1219.5 383.1L1221.2 382.1L1223.0 381.0L1224.7 380.0L1226.5 379.0L1228.2 378.0L1230.0 377.0L1231.7 376.0L1233.5 375.0L1235.2 374.0L1237.0 373.0L1238.8 372.0L1240.5 371.0L1242.3 370.0L1244.1 369.1L1245.9 368.1L1247.6 367.1L1249.4 366.2L1251.2 365.2L1253.0 364.3L1254.8 363.4L1256.6 362.4L1258.4 361.5L1260.2 360.6L1261.9 359.7L1263.7 358.8L1265.6 357.9L1267.4 357.0L1269.2 356.1L1271.0 355.2L1272.8 354.3L1274.6 353.4L1276.4 352.6L1278.2 351.7L1280.0 350.8L1281.9 350.0L1283.7 349.1L1285.5 348.3L1287.3 347.5L1289.1 346.6L1291.0 345.8L1292.8 345.0L1294.6 344.2L1296.5 343.3L1298.3 342.5L1300.1 341.7L1302.0 340.9L1303.8 340.2L1305.6 339.4L1307.5 338.6L1309.3 337.8L1311.1 337.1L1313.0 336.3L1314.8 335.5L1316.7 334.8L1318.5 334.0L1320.4 333.3L1322.2 332.6L1324.1 331.8L1325.9 331.1L1327.8 330.4L1329.6 329.7L1331.5 328.9L1333.3 328.2L1335.2 327.5L1337.0 326.8L1338.9 326.1L1340.7 325.4L1342.6 324.7L1344.5 324.0L1346.3 323.3L1348.2 322.6L1350.1 322.0L1351.9 321.3L1353.8 320.6L1355.7 319.9L1357.5 319.3L1359.4 318.6L1361.3 317.9L1363.1 317.3L1365.0 316.6L1366.9 316.0L1368.8 315.3L1370.6 314.6L1372.5 314.0L1374.4 313.3L1376.3 312.7L1378.1 312.1L1380.0 311.4L1381.9 310.8L1383.8 310.1L1385.7 309.5L1387.6 308.8L1389.4 308.2L1391.3 307.6L1393.2 306.9L1395.1 306.3L1397.0 305.7L1398.9 305.0L1400.8 304.4L1402.7 303.8L1404.6 303.1L1406.5 302.5L1408.3 301.9L1410.2 301.2L1412.1 300.6L1414.0 300.0L1415.9 299.3L1417.8 298.7L1419.7 298.1L1421.6 297.5L1423.5 296.8L1425.4 296.2L1427.3 295.6L1429.2 294.9L1431.2 294.3L1433.1 293.7L1435.0 293.1L1436.9 292.5L1438.8 291.8L1440.7 291.2L1442.6 290.6L1444.5 290.0L1446.4 289.4L1448.4 288.9L1450.3 288.3L1452.2 287.7L1454.1 287.1L1456.0 286.6L1458.0 286.0L1459.9 285.5L1461.8 284.9L1463.8 284.4L1465.7 283.9L1467.6 283.4L1469.6 282.9L1471.5 282.4L1473.4 281.9L1475.4 281.4L1477.3 281.0L1479.3 280.5L1481.2 280.1L1483.2 279.6L1485.1 279.2L1487.1 278.8L1489.0 278.4L1491.0 278.1L1492.9 277.7L1494.9 277.4L1496.9 277.0L1498.8 276.7L1500.8 276.4L1502.8 276.1L1504.8 275.9L1506.7 275.6L1508.7 275.4L1510.7 275.2L1512.7 275.0L1514.7 274.8" fill="none" stroke="#008e00" stroke-width="8.4" stroke-linecap="round" stroke-linejoin="round" stroke-opacity="0.97"/><path d="M838.1 1505.3L833.9 1504.2L835.6 1502.2L834.7 1500.2L833.2 1501.6L835.6 1500.6L835.0 1500.4L836.6 1498.8L831.5 1501.5L841.0 1496.2L839.3 1496.1L838.8 1494.6L836.1 1494.3L838.1 1495.1L836.8 1490.6L836.9 1491.3L840.5 1491.1L832.2 1490.8L834.2 1490.7L834.6 1489.8L833.9 1489.9L837.6 1488.6L837.4 1489.3L837.6 1486.9L838.0 1486.8L835.2 1482.9L839.7 1483.0L836.6 1483.6L838.8 1479.6L839.3 1480.9L836.9 1481.5L840.6 1481.4L838.4 1478.1L845.2 1479.3L841.4 1476.6L839.1 1477.6L834.0 1474.6L841.0 1473.2L842.0 1474.2L837.1 1473.6L840.9 1472.7L842.1 1470.4L840.0 1471.7L841.8 1470.7L847.1 1469.3L840.5 1469.5L841.4 1469.0L841.6 1469.1L840.9 1466.3L844.1 1465.9L844.3 1465.8L844.4 1463.1L844.6 1463.6L843.8 1461.9L844.3 1462.7L844.2 1461.7L844.0 1460.3L844.8 1459.5L843.9 1459.3L846.0 1459.6L846.4 1457.4L843.2 1456.8L843.1 1454.9L841.7 1456.0L847.0 1453.3L845.5 1453.7L848.0 1453.8L844.1 1452.1L843.2 1451.0L846.0 1450.0L844.3 1449.2L849.6 1448.2L846.4 1448.7L847.8 1446.9L848.9 1447.4L847.2 1445.8L846.9 1445.2L847.6 1444.9L844.9 1443.9L847.3 1443.5L849.3 1441.5L847.8 1440.5L846.5 1439.9L849.2 1439.1L846.4 1438.5L846.9 1437.7L849.4 1437.5L850.1 1435.6L845.4 1435.3L848.6 1435.0L849.9 1433.6L849.3 1433.5L848.5 1430.8L849.9 1431.5L849.0 1431.4L849.6 1429.4L850.2 1430.1L848.8 1428.7L848.7 1427.9L849.8 1426.4L851.3 1427.3L848.7 1425.0L849.9 1424.9L851.0 1423.0L852.0 1423.1L851.1 1422.4L851.7 1421.6L850.4 1420.7L852.6 1419.1L855.3 1419.5L852.2 1417.7L851.8 1417.2L852.7 1415.8L851.3 1416.3L851.3 1415.8L852.5 1413.4L852.0 1414.0L853.1 1412.0L854.2 1411.9L852.6 1410.4L852.0 1410.1L853.9 1410.0L854.9 1409.0L852.6 1407.5L854.3 1406.9L854.1 1406.0L854.2 1405.8L854.7 1404.1L854.1 1403.4L853.4 1403.4L854.7 1403.1L855.3 1401.7L854.6 1400.4L855.6 1399.7L856.3 1399.4L856.0 1398.4L854.9 1397.9L855.3 1396.7L856.3 1395.8L855.7 1394.8L856.7 1394.9L855.7 1393.9L857.4 1393.3L857.1 1391.8L855.8 1391.1L857.0 1390.8L857.6 1389.6L857.2 1388.8L856.3 1387.9L857.8 1387.5L857.4 1386.5L858.6 1385.8L857.5 1384.6L857.5 1384.2L857.7 1383.4L857.8 1383.1L858.0 1381.9L858.0 1381.0L858.7 1380.2L857.9 1379.6L858.8 1378.4L858.6 1377.9L858.6 1377.1L858.6 1376.2L859.3 1375.3L859.2 1374.7L859.7 1374.0L859.5 1373.1L859.5 1372.2L859.6 1371.4" fill="none" stroke="#008e00" stroke-width="7.5" stroke-linecap="round" stroke-linejoin="round" stroke-opacity="0.97"/><path d="M279.7 1335.8L280.7 1335.6M280.7 1332.6L281.7 1332.8M282.4 1334.5L283.1 1335.2M283.5 1333.8L284.1 1334.6M285.0 1335.7L285.6 1336.6M286.5 1333.6L287.1 1334.4M287.8 1332.4L288.8 1332.4M289.3 1334.5L290.1 1333.9M291.2 1336.6L292.0 1337.2M292.6 1338.3L293.4 1337.7M294.0 1337.0L294.7 1336.3M295.2 1337.2L296.2 1337.2M296.8 1335.8L297.5 1335.1M298.0 1335.5L299.0 1335.6M299.3 1335.6L300.3 1335.4M300.8 1333.3L301.0 1332.3M301.7 1328.9L302.2 1328.0M302.7 1330.7L302.9 1329.7M303.0 1328.6L303.7 1328.0M303.7 1326.8L304.4 1326.0M304.1 1327.2L305.0 1326.8M304.9 1323.7L305.4 1322.9M305.4 1318.5L305.8 1317.6M306.3 1324.3L306.1 1323.3M306.9 1320.0L306.8 1319.1M307.2 1323.3L307.9 1322.6M308.4 1319.1L309.3 1319.0M309.7 1315.6L310.5 1316.2M310.9 1318.4L311.4 1319.2M311.7 1321.1L312.0 1322.1M312.2 1325.6L312.9 1326.3M313.1 1323.2L314.1 1323.4M314.0 1325.6L314.5 1326.5M315.4 1326.8L316.1 1326.1M316.4 1326.5L317.2 1326.0M317.7 1329.1L317.4 1328.1M318.4 1318.2L318.2 1317.3M318.8 1319.0L318.8 1318.0M319.0 1323.6L319.6 1322.8M319.4 1318.9L320.2 1318.3M320.2 1319.3L320.2 1318.3M321.0 1316.0L320.8 1315.0M321.4 1311.6L321.4 1310.6M322.1 1313.7L322.6 1312.8M323.2 1314.1L324.1 1314.7M324.2 1312.7L325.2 1313.0M325.9 1315.3L325.6 1316.3M326.2 1316.9L326.3 1317.9M326.6 1318.7L327.4 1319.2M327.2 1317.1L328.0 1317.7M328.2 1320.6L328.6 1321.5M329.1 1320.8L328.9 1321.8M329.8 1320.5L330.0 1321.5M330.8 1322.2L330.9 1323.2M331.4 1325.9L332.3 1326.3M332.4 1329.6L333.4 1330.0M333.5 1327.8L334.5 1328.1M334.9 1327.4L335.3 1328.3M336.1 1328.1L336.3 1329.1M336.8 1331.7L337.8 1332.0M337.9 1332.9L338.9 1333.0M339.0 1334.5L339.3 1335.5M339.9 1332.1L340.6 1332.8M340.9 1338.6L341.9 1338.8M342.1 1337.1L342.1 1338.1M342.8 1342.3L343.7 1342.7M344.3 1335.7L345.3 1335.7M346.1 1336.2L346.7 1335.3M347.2 1339.2L348.1 1338.9M348.8 1340.9L349.0 1339.9M349.9 1335.9L350.4 1335.0M350.8 1333.4L351.1 1332.5M352.0 1338.2L352.2 1337.2M353.2 1337.3L353.5 1336.3M354.2 1331.0L354.8 1330.2M355.1 1332.3L356.1 1332.2M356.7 1329.8L356.8 1328.8M357.4 1328.3L358.4 1328.3M358.6 1328.2L359.3 1327.5M359.7 1327.4L360.4 1326.6M360.7 1327.3L361.5 1326.7M361.9 1325.0L362.3 1324.1M362.6 1325.5L363.6 1325.4M363.8 1324.5L364.3 1323.7M364.7 1322.6L365.3 1321.9M365.5 1319.4L366.4 1318.9M366.5 1319.5L367.3 1318.9M367.9 1314.6L367.7 1313.6M368.0 1315.8L368.7 1315.1M368.7 1315.6L369.6 1315.2M369.7 1314.2L370.3 1313.4M370.7 1311.2L371.1 1310.3M371.7 1314.0L372.1 1313.1M373.1 1309.7L374.1 1309.4M374.7 1308.7L375.5 1308.2M376.2 1311.3L377.2 1311.2M377.8 1311.5L378.7 1311.1M379.2 1307.4L380.2 1307.2M380.7 1311.7L381.5 1312.3M382.3 1311.1L382.6 1312.0M382.8 1314.4L383.8 1314.4M384.1 1313.6L385.1 1314.0M385.2 1312.4L386.2 1312.4M386.5 1315.8L387.2 1316.5M387.7 1313.7L388.2 1314.6M388.4 1316.6L389.0 1317.4M389.1 1319.2L389.7 1320.0M389.9 1319.2L390.9 1319.4M390.8 1321.5L391.7 1321.9M391.5 1322.5L392.5 1322.6M392.9 1322.7L393.2 1321.8M393.5 1319.2L393.4 1318.2M393.6 1322.6L393.6 1321.6M393.5 1317.1L394.2 1316.3M394.0 1316.8L393.9 1315.8M394.2 1315.8L393.9 1314.8M394.1 1311.3L394.3 1310.3M394.2 1312.2L394.5 1311.3M394.1 1308.2L394.9 1307.6M394.4 1308.2L395.1 1307.5M394.9 1306.4L395.6 1305.6M396.2 1307.0L397.0 1307.6M398.0 1309.7L398.4 1310.7M398.6 1307.3L399.6 1307.6M400.1 1307.9L401.1 1308.0M401.2 1310.7L402.1 1311.2M402.7 1313.1L403.7 1313.1M403.8 1313.6L404.6 1314.2M405.4 1314.5L405.7 1315.5M406.3 1312.1L407.3 1312.4M407.8 1318.0L408.3 1318.9M408.9 1313.4L409.8 1313.7M410.3 1316.5L411.2 1317.0M411.8 1314.1L412.6 1313.5M413.2 1313.9L414.2 1313.6M414.8 1314.8L415.7 1315.0M416.4 1314.3L417.1 1313.6M417.8 1316.0L418.5 1316.6M419.1 1315.7L420.0 1316.1M420.4 1316.8L421.4 1316.6M421.9 1317.1L422.7 1317.7M423.3 1318.8L424.2 1319.4M424.7 1318.9L425.7 1319.3M426.2 1317.3L427.2 1317.3M427.9 1319.2L428.7 1318.8M428.9 1317.0L429.8 1317.2M430.4 1319.3L431.4 1319.3M431.9 1318.1L432.9 1317.7M433.7 1317.1L434.6 1317.4M434.9 1317.1L435.8 1317.6M436.4 1316.8L437.3 1316.9M437.5 1318.3L437.6 1319.3M438.6 1321.7L438.6 1322.7M439.6 1322.3L439.6 1323.3M440.2 1324.4L440.2 1325.4M440.7 1323.4L441.7 1323.8M442.1 1325.2L442.2 1326.2M442.7 1325.1L442.9 1326.1M443.6 1329.7L443.9 1330.6M444.4 1326.8L444.3 1327.8M444.8 1328.4L445.7 1328.8M445.9 1329.6L446.8 1330.0M447.4 1329.2L448.1 1328.4M448.6 1334.4L448.6 1333.4M449.2 1330.0L449.1 1329.0M449.4 1328.3L449.6 1327.3M449.9 1327.5L450.2 1326.5M450.5 1326.4L450.4 1325.4M450.8 1323.7L451.2 1322.7M451.3 1320.7L451.6 1319.7M452.1 1318.1L452.1 1317.1M452.3 1317.9L452.9 1317.1M453.2 1316.9L453.6 1316.0M454.2 1315.1L454.5 1314.2M455.2 1315.7L456.0 1315.0M456.0 1316.6L457.0 1316.4M457.5 1316.0L458.0 1315.2M458.3 1310.2L459.3 1310.1M460.1 1313.7L460.1 1314.7M460.4 1312.9L460.9 1313.8M460.8 1320.8L461.2 1321.8M461.4 1318.2L461.3 1319.2M461.6 1316.6L461.8 1317.6M461.9 1319.1L462.7 1319.8M463.1 1321.3L464.1 1321.2M464.8 1321.6L465.1 1320.6M465.4 1318.6L466.1 1317.9M466.5 1320.6L467.5 1320.4M467.7 1318.7L468.7 1318.7M468.7 1316.2L469.5 1315.7M470.1 1317.3L470.5 1316.3M471.3 1313.6L471.7 1312.7M472.3 1313.4L473.1 1312.9M473.2 1309.7L473.8 1308.9M474.3 1312.5L475.1 1311.8M475.6 1308.5L476.2 1307.7M477.0 1309.8L477.3 1308.8M477.9 1306.0L478.9 1305.8M479.3 1309.7L480.1 1309.1M480.5 1305.5L481.5 1305.6M481.9 1305.7L482.8 1306.3M483.4 1304.1L484.2 1304.6M484.9 1307.8L485.9 1307.8M486.7 1306.9L487.3 1307.6M488.1 1310.4L489.1 1310.8M489.2 1304.4L490.0 1304.9M490.9 1309.3L491.9 1309.4M492.2 1308.6L493.2 1308.5M493.1 1307.8L494.0 1307.4M494.2 1306.7L494.3 1305.7M494.4 1307.5L495.0 1306.6M495.0 1305.4L495.3 1304.5M495.5 1302.0L496.2 1301.3M496.4 1302.8L496.2 1301.8M496.9 1298.0L497.9 1298.0M498.4 1297.0L499.3 1297.4M499.7 1298.5L500.6 1298.0M501.6 1298.0L502.5 1298.5M502.6 1302.1L503.6 1302.3M504.2 1301.5L505.1 1301.0M505.8 1300.1L506.8 1300.4M507.5 1302.0L508.5 1301.9M508.6 1301.9L509.5 1301.7M510.2 1303.9L511.0 1304.5M511.6 1297.7L512.6 1297.7M513.0 1301.0L514.0 1300.9M514.7 1301.2L515.3 1300.4M516.2 1302.0L516.8 1301.2M517.6 1299.6L518.3 1298.8M518.9 1303.9L519.9 1303.9M520.4 1299.6L521.3 1300.0M522.0 1300.2L522.5 1299.3M523.3 1298.5L524.2 1298.8M524.9 1297.3L525.5 1296.5M526.2 1295.5L527.1 1295.8M527.6 1297.9L528.6 1297.8M529.1 1297.7L530.0 1297.2M530.6 1294.8L531.5 1295.2M532.1 1296.6L532.8 1295.9M533.4 1294.5L534.4 1294.5M534.9 1296.0L535.9 1296.1M536.4 1295.6L537.3 1295.1M537.9 1295.5L538.8 1295.1M539.3 1293.8L540.2 1293.4M540.8 1293.6L541.7 1293.5M542.4 1294.0L543.0 1293.2M543.7 1291.4L544.7 1291.1M545.1 1293.3L546.1 1293.6M546.6 1295.7L547.5 1295.3M548.1 1291.4L548.9 1290.8M549.5 1295.3L550.4 1295.1M550.9 1289.8L551.9 1290.0M552.5 1291.5L553.2 1290.7M553.9 1289.1L554.7 1288.4M555.5 1289.4L556.0 1288.6M556.8 1291.2L557.6 1290.6M558.2 1291.2L559.1 1290.8M559.6 1289.3L560.6 1288.9M561.0 1287.2L562.0 1287.2M562.5 1285.2L563.4 1285.4M563.9 1285.7L564.8 1286.0M565.3 1286.6L566.2 1286.9M566.8 1285.8L567.4 1284.9M568.3 1287.5L568.6 1286.6M569.5 1283.4L570.0 1282.6M570.5 1281.6L571.5 1281.6M572.1 1284.9L572.3 1284.0M573.3 1285.0L573.5 1284.0M574.5 1281.2L574.7 1280.2M575.4 1279.9L576.2 1279.3M576.5 1278.8L577.5 1278.8M578.1 1276.9L578.5 1276.0M579.1 1275.9L580.1 1275.6M580.5 1276.3L581.5 1276.5M581.9 1274.3L582.8 1274.0M583.2 1276.8L584.2 1276.8M584.8 1276.3L585.5 1275.6M586.1 1278.0L587.1 1278.4M587.6 1276.0L588.5 1275.6M588.8 1276.1L589.3 1275.3M590.0 1276.1L591.0 1276.4M591.5 1271.0L592.4 1270.6M593.0 1273.0L594.0 1272.9M594.4 1272.4L595.4 1272.3M595.9 1273.3L596.9 1273.2M597.5 1275.3L598.3 1274.7M599.0 1271.9L599.7 1271.2M600.4 1272.5L601.3 1272.0M602.5 1270.7L603.2 1271.4M603.9 1275.5L604.8 1275.9M605.4 1274.8L606.2 1274.1M607.0 1271.9L607.7 1272.5M608.4 1273.3L609.3 1272.9M610.4 1270.4L611.4 1270.5M612.0 1274.8L612.8 1275.4M614.0 1271.2L614.8 1271.7M615.9 1271.8L616.8 1271.3M618.0 1274.0L618.8 1273.3M619.4 1272.7L620.4 1272.4M621.5 1274.0L622.4 1273.9M623.6 1274.5L624.4 1275.1M625.7 1273.9L626.4 1274.5M628.2 1274.9L629.0 1275.4M630.2 1273.6L631.0 1273.0M632.7 1274.3L633.4 1275.0M634.6 1275.4L635.4 1276.1M636.9 1274.1L637.8 1274.6M639.5 1273.6L640.5 1273.8M641.3 1271.6L642.2 1271.1M643.6 1272.2L644.1 1271.4M646.2 1268.2L646.4 1267.2M648.6 1268.6L648.9 1267.6M650.7 1265.0L651.6 1264.5M653.4 1264.1L654.3 1263.6" fill="none" stroke="#008e00" stroke-width="7.5" stroke-linecap="round" stroke-linejoin="round" stroke-opacity="0.97"/><path d="M493.8 1289.6L494.1 1289.6" fill="none" stroke="#008e00" stroke-width="7.5" stroke-linecap="round" stroke-linejoin="round" stroke-opacity="0.97"/><path d="M652.4 1266.6L653.0 1266.3M657.5 1264.4L658.1 1264.1M663.5 1261.7L664.1 1261.3M669.5 1257.1L670.1 1256.7M675.3 1253.5L675.9 1253.0M681.5 1248.8L682.2 1248.4M688.3 1244.4L689.1 1244.0M695.3 1240.1L696.1 1239.8M702.6 1237.2L703.3 1236.8M709.5 1231.8L710.2 1231.2M717.0 1228.8L717.9 1228.6M724.6 1225.0L725.3 1224.4M731.5 1219.4L732.3 1218.9M738.9 1214.1L739.8 1213.7M747.2 1211.5L748.1 1211.0M755.0 1206.9L755.8 1206.4M762.5 1201.8L763.4 1201.3M770.4 1197.8L771.3 1197.3M778.6 1193.4L779.5 1193.0M787.4 1190.1L788.3 1189.6M795.1 1184.3L796.0 1183.8M803.3 1180.5L804.1 1179.9" fill="none" stroke="#008e00" stroke-width="7.5" stroke-linecap="round" stroke-linejoin="round" stroke-opacity="0.97"/><path d="M822.5 1164.7L823.7 1163.5M832.8 1154.7L834.0 1153.4M842.7 1142.9L844.1 1140.9M854.6 1123.2L856.2 1120.0M867.3 1094.6L868.9 1090.7M878.3 1064.4L879.9 1059.9M892.1 1027.0L893.9 1022.4M905.7 994.3L907.6 990.1M920.0 962.5L922.3 959.1M940.2 940.8L943.1 938.9M964.3 931.5L967.2 930.7M985.5 927.2L988.0 926.8M1003.9 925.4L1005.8 925.3M1018.0 924.6L1019.7 924.6M1033.7 924.1L1035.4 924.1M1047.1 924.1L1048.5 924.1M1058.0 924.1L1059.3 924.1M1070.0 924.6L1071.4 924.6M1082.1 924.1L1083.5 924.1" fill="none" stroke="#008e00" stroke-width="7.5" stroke-linecap="round" stroke-linejoin="round" stroke-opacity="0.97"/><path d="M1090.1 925.2L1090.9 924.5M1092.5 921.8L1093.5 922.1M1095.6 923.5L1096.4 924.1M1098.5 922.3L1099.5 922.3M1101.1 923.9L1101.9 924.5M1103.6 922.2L1104.4 922.8M1106.0 921.7L1106.9 921.2M1108.5 923.1L1109.4 922.7M1110.5 919.6L1111.5 919.9M1113.1 923.5L1113.9 924.1M1115.0 921.4L1115.9 921.1M1117.0 920.3L1117.9 919.9M1119.0 921.9L1120.0 922.0M1121.0 924.7L1122.0 924.5M1123.0 921.7L1124.0 922.0M1124.5 924.8L1125.4 924.5M1126.0 917.9L1127.0 918.2M1128.1 924.5L1128.9 925.2M1129.5 922.8L1130.4 923.3M1131.1 919.1L1131.9 919.7M1132.5 923.1L1133.5 923.3M1134.0 919.7L1134.9 920.0M1135.6 919.6L1136.4 920.2M1137.1 921.0L1137.9 920.4M1138.6 917.5L1139.4 918.2M1140.1 921.2L1140.8 920.5M1141.5 921.2L1142.4 920.7M1143.0 920.8L1143.9 921.3M1144.6 921.5L1145.4 922.1M1146.0 921.1L1146.9 921.6M1147.5 922.2L1148.5 922.3M1149.0 925.1L1150.0 924.9M1150.6 918.8L1151.4 918.1M1152.0 920.6L1153.0 920.7M1153.6 921.2L1154.3 921.9M1155.0 920.0L1155.9 920.4M1156.1 922.4L1156.9 921.7M1157.5 919.1L1158.5 919.0M1159.0 919.6L1159.9 920.0M1160.5 919.9L1161.4 920.4M1162.1 920.3L1162.8 921.0M1163.5 919.6L1164.5 919.7M1165.0 917.9L1166.0 917.7M1166.5 921.9L1167.5 922.2M1168.0 920.4L1169.0 920.5M1169.5 917.7L1170.5 917.6M1171.1 919.2L1171.9 918.5M1172.5 920.1L1173.4 920.6M1174.0 923.2L1175.0 923.0M1175.5 917.8L1176.5 917.7M1177.1 920.0L1177.8 919.3M1178.5 919.0L1179.4 918.5M1180.0 916.1L1181.0 916.2M1181.5 916.1L1182.4 916.6M1183.1 920.0L1183.8 919.3M1184.5 918.1L1185.5 918.0M1186.1 921.9L1186.9 921.4M1187.5 919.8L1188.5 919.7M1188.5 915.6L1189.4 916.0M1190.0 921.4L1191.0 921.1M1191.5 917.3L1192.5 917.1M1193.0 921.1L1193.9 920.6M1194.5 918.8L1195.5 919.0M1196.0 919.3L1197.0 919.6M1197.5 915.5L1198.5 915.6M1199.0 918.7L1200.0 918.6M1200.5 918.2L1201.5 918.0M1202.0 917.1L1203.0 917.1M1203.5 920.3L1204.4 919.9M1205.0 917.3L1205.9 917.7M1206.6 917.0L1207.3 916.3M1207.5 918.7L1208.4 918.2M1209.1 917.7L1209.8 916.9M1210.6 918.1L1211.3 917.4M1212.0 917.5L1212.9 917.1M1213.6 915.9L1214.3 915.2M1215.1 914.4L1215.9 913.8M1216.6 917.5L1217.4 918.1M1218.0 915.1L1219.0 915.3M1219.5 914.5L1220.5 914.8M1221.1 918.1L1221.9 917.5M1222.6 918.8L1223.3 918.1M1223.5 917.3L1224.4 917.8M1225.0 920.2L1225.9 919.8M1226.5 912.2L1227.5 912.1M1228.0 915.6L1229.0 915.9M1229.6 914.8L1230.3 914.1M1231.1 915.3L1231.9 915.9M1232.5 915.7L1233.5 915.7M1234.0 918.1L1235.0 918.0M1235.5 916.5L1236.4 916.8M1237.0 919.2L1238.0 919.0M1238.0 914.6L1239.0 914.5M1239.5 915.0L1240.5 914.7M1241.0 915.9L1242.0 916.2M1242.5 914.6L1243.5 914.3M1244.0 914.9L1245.0 914.9M1245.5 914.2L1246.4 913.8M1247.0 912.9L1248.0 912.7M1248.5 916.2L1249.4 916.7M1249.5 914.1L1250.5 913.9M1251.1 912.5L1251.9 911.8M1252.5 916.1L1253.5 916.3M1254.0 914.2L1255.0 913.9M1255.5 918.2L1256.5 918.4M1257.0 914.5L1258.0 914.5M1258.5 914.8L1259.4 914.4M1260.1 915.2L1260.9 915.9M1261.0 917.2L1261.9 916.8M1262.5 912.5L1263.5 912.8M1264.1 918.0L1264.9 917.5M1265.5 915.4L1266.4 915.9M1267.0 912.4L1268.0 912.6M1268.5 910.9L1269.5 911.2M1270.0 916.4L1271.0 916.7M1271.0 913.9L1272.0 914.2M1272.6 919.4L1273.3 918.6M1274.1 916.9L1274.9 917.5M1275.5 912.7L1276.4 913.0M1277.1 915.3L1277.9 914.7M1278.5 915.7L1279.4 915.3M1279.6 915.9L1280.3 916.6M1281.0 916.9L1281.9 916.4M1282.5 914.0L1283.5 914.2M1284.1 914.2L1284.8 913.4M1285.5 916.4L1286.4 915.9M1287.0 916.3L1287.9 916.8M1288.0 915.7L1289.0 915.6M1289.5 913.0L1290.5 913.1M1291.0 912.0L1292.0 912.3M1292.5 915.0L1293.5 914.9M1294.0 912.0L1295.0 911.8M1295.5 916.3L1296.5 916.5M1296.5 916.2L1297.5 916.2M1298.0 914.8L1299.0 914.7M1299.5 913.0L1300.4 912.6M1301.0 909.4L1302.0 909.7M1302.6 913.4L1303.4 912.7M1304.0 913.4L1304.9 913.1M1305.0 911.4L1306.0 911.3M1306.5 913.4L1307.5 913.7M1308.0 912.8L1309.0 913.1M1309.6 912.8L1310.4 913.4M1311.1 912.6L1311.9 912.0M1312.0 912.5L1313.0 912.5M1313.5 913.6L1314.4 914.0M1315.0 910.8L1316.0 910.5M1316.6 908.1L1317.4 907.6M1318.1 914.0L1318.8 914.7M1319.0 911.1L1320.0 910.8M1320.5 912.3L1321.5 912.4M1322.0 912.8L1322.9 913.2M1323.6 913.4L1324.4 913.9M1325.0 913.9L1326.0 913.9M1326.0 914.7L1326.9 914.3M1327.5 913.2L1328.5 913.0M1329.0 913.8L1330.0 913.5M1330.6 911.5L1331.4 912.1M1332.0 911.3L1333.0 911.1M1333.0 914.0L1334.0 914.1M1334.6 911.1L1335.4 911.7M1336.1 913.2L1336.9 913.8M1337.6 911.2L1338.4 910.7M1339.2 910.2L1339.8 909.4M1340.1 911.4L1340.9 911.9M1341.5 913.0L1342.5 912.6M1343.1 914.7L1343.9 915.3M1344.6 911.5L1345.4 912.1M1345.5 912.7L1346.5 912.7M1347.2 911.0L1347.9 910.3M1348.5 911.7L1349.5 911.8M1350.0 909.0L1351.0 908.9M1351.6 913.6L1352.4 912.9M1352.5 911.7L1353.5 911.7M1354.1 911.3L1355.0 911.8M1355.6 910.9L1356.4 910.3M1357.1 911.0L1357.9 910.4M1358.0 911.3L1359.0 911.3M1359.6 909.2L1360.4 908.6M1361.1 912.7L1361.9 912.1M1362.6 912.0L1363.5 912.3M1363.6 914.5L1364.4 913.9M1365.1 910.7L1366.0 910.5M1366.6 912.3L1367.5 911.9M1368.2 912.6L1368.9 913.3M1369.1 910.4L1370.0 910.0M1370.6 911.4L1371.5 912.0M1372.1 909.7L1373.0 909.2M1373.7 912.5L1374.4 911.8M1374.6 911.5L1375.5 911.2M1376.1 909.5L1377.0 909.9M1377.6 909.9L1378.6 910.1M1379.1 905.9L1380.0 905.7M1380.1 909.8L1381.1 909.8M1381.6 907.8L1382.5 907.4M1383.1 911.0L1384.1 910.8M1384.6 910.9L1385.5 911.4M1385.6 910.8L1386.6 910.6M1387.1 910.3L1388.1 910.3M1388.6 907.3L1389.6 907.4M1389.6 904.2L1390.5 903.7M1391.1 911.0L1392.0 911.5M1392.6 909.5L1393.6 909.4M1394.1 910.1L1395.0 910.4M1395.1 906.2L1396.1 906.2M1396.6 910.5L1397.5 910.9M1398.1 909.9L1399.1 909.7M1399.7 908.2L1400.4 907.6M1400.6 908.9L1401.6 908.7M1402.1 905.9L1403.0 905.5M1403.6 905.9L1404.5 906.4M1404.6 908.9L1405.5 908.4M1406.2 908.0L1406.9 907.3M1407.6 908.0L1408.5 908.4M1409.1 909.9L1410.0 909.3M1410.1 905.7L1411.0 906.0M1411.5 907.5L1412.5 907.5M1413.0 908.5L1414.0 908.6M1414.2 905.0L1414.9 904.3M1415.5 909.0L1416.5 908.9M1418.0 907.0L1417.0 909.3M1419.0 905.1L1419.0 907.6M1420.6 905.1L1419.4 907.3M1421.9 910.5L1421.1 912.8M1423.4 903.2L1422.6 905.5M1424.0 911.0L1424.0 913.5M1425.9 901.7L1425.0 904.0M1427.0 903.2L1427.0 905.7M1427.4 905.9L1428.5 908.1M1430.0 904.6L1428.9 906.9M1431.0 906.4L1430.9 908.9M1432.2 906.4L1431.7 908.9M1433.9 902.0L1433.0 904.3M1435.4 904.7L1434.4 907.0M1435.6 906.7L1436.2 909.1M1437.4 898.9L1437.3 901.4M1438.4 901.7L1439.3 904.0M1439.5 903.9L1440.2 906.3M1440.9 900.9L1441.8 903.2M1442.8 901.2L1442.9 903.7M1443.5 899.1L1444.1 901.5M1445.7 899.5L1444.9 901.8M1446.9 902.8L1446.7 905.3M1447.6 901.5L1448.0 904.0M1449.5 903.1L1449.0 905.5M1450.3 902.4L1451.2 904.7M1451.9 902.1L1452.6 904.5M1452.8 902.9L1453.6 905.2M1454.4 898.8L1455.1 901.2M1456.3 907.7L1456.2 910.2M1456.7 901.8L1457.7 904.1M1459.0 903.5L1458.4 906.0M1460.3 896.1L1460.0 898.6M1461.6 901.9L1460.8 904.3M1463.1 900.4L1462.3 902.8M1464.7 900.8L1463.6 903.0M1465.2 907.0L1465.1 909.5M1466.2 905.4L1467.2 907.7M1468.7 901.7L1467.6 903.9M1468.9 901.7L1469.3 904.2M1470.3 910.2L1471.0 912.7M1472.1 906.4L1471.1 908.6M1472.8 906.5L1473.5 908.9M1474.9 901.0L1474.4 903.5M1475.8 900.1L1475.4 902.6M1477.2 910.4L1477.0 912.9M1478.6 905.1L1478.6 907.6M1479.6 898.4L1479.6 900.9M1481.5 903.7L1480.6 906.0M1482.7 908.3L1481.5 910.5M1483.5 902.3L1483.7 904.8M1484.5 903.3L1485.6 905.5M1486.6 907.4L1485.5 909.7M1488.0 903.9L1487.1 906.3M1489.4 908.8L1488.7 911.2M1490.3 908.5L1489.9 911.0M1491.2 896.7L1491.9 899.2M1493.0 906.2L1493.1 908.7M1494.6 905.0L1493.4 907.2M1495.9 907.8L1495.2 910.2M1496.2 897.9L1496.9 900.3M1497.8 905.4L1498.3 907.8M1499.9 900.8L1499.1 903.1M1500.3 905.2L1500.8 907.6M1501.6 901.7L1502.4 904.1M1504.1 905.3L1503.0 907.5M1505.0 908.4L1504.0 910.6M1506.2 908.3L1505.8 910.8M1507.0 901.6L1507.0 904.1M1508.3 903.8L1508.8 906.3M1510.4 906.9L1509.6 909.2M1511.3 903.8L1510.7 906.2M1513.1 898.1L1512.0 900.3M1514.0 901.8L1513.0 904.1M1514.6 900.4L1515.4 902.7M1516.4 897.2L1516.6 899.7" fill="none" stroke="#008e00" stroke-width="7.5" stroke-linecap="round" stroke-linejoin="round" stroke-opacity="0.97"/></g>
</g>
<g><path d="M279.8 1407.7h30.6M279.8 1139.4h30.6M279.8 871.1h30.6M279.8 602.8h30.6M279.8 334.5h30.6M633.9 1676.0v-32.0M987.9 1676.0v-32.0M1342.0 1676.0v-32.0M1696.1 1676.0v-32.0M2050.2 1676.0v-32.0" fill="none" stroke="#000" stroke-width="5.2" stroke-linecap="round"/></g>
<g clip-path="url(#c)">
<g><path d="M280.6 1346.7L280.6 1346.8L280.6 1347.4L280.6 1348.4L280.6 1349.4L280.7 1351.5L280.7 1351.3L280.7 1352.4L280.7 1352.7L280.7 1354.3L280.8 1355.1L280.8 1355.3L280.8 1355.6L280.8 1357.4L280.9 1359.2L280.9 1359.0L280.9 1360.0L281.0 1361.9L281.0 1362.0L281.1 1361.7L281.1 1364.9L281.2 1364.8L281.2 1365.3L281.3 1366.4L281.3 1367.8L281.3 1368.0L281.4 1370.4L281.5 1370.4L281.5 1371.4L281.6 1372.1L281.6 1372.5L281.7 1373.9L281.7 1375.8L281.8 1375.2L281.8 1376.3L281.9 1377.6L281.9 1377.7L282.0 1379.7L282.1 1379.2L282.1 1381.2L282.2 1381.1L282.3 1382.5L282.3 1383.4L282.4 1386.3L282.5 1385.0L282.6 1387.0L282.7 1387.5L282.7 1387.6L282.8 1389.7L282.9 1389.9L283.0 1389.7L283.1 1390.5L283.2 1392.8L283.3 1393.7L283.4 1393.3L283.6 1395.4L283.7 1396.1L283.8 1397.5L283.9 1397.6L284.0 1399.0L284.2 1399.8L284.3 1401.2L284.4 1402.5L284.6 1404.1L284.7 1402.3L284.9 1404.5L285.0 1404.5L285.2 1405.2L285.3 1405.6L285.5 1407.4L285.6 1408.8L285.8 1409.4L286.0 1410.7L286.2 1411.5L286.3 1412.6L286.5 1413.1L286.7 1414.2L286.9 1415.0L287.1 1415.3L287.2 1415.4L287.4 1416.1L287.6 1418.6L287.9 1418.2L288.1 1420.5L288.4 1420.3L288.7 1420.8L289.0 1422.1L289.3 1423.3L289.6 1425.6L289.9 1424.5L290.3 1425.2L290.6 1426.9L291.0 1428.3L291.4 1428.1L291.8 1428.5L292.2 1430.4L292.6 1431.0L293.0 1432.0L293.4 1430.9L293.9 1433.8L294.3 1434.1L294.8 1436.0L295.2 1435.3L295.6 1436.9L296.1 1436.9L296.5 1440.4L297.0 1437.0L297.5 1438.4L297.9 1439.3L298.4 1437.4L298.8 1441.2L299.2 1444.6L299.7 1444.3L300.2 1445.5L300.6 1444.8L301.1 1444.9L301.6 1446.3L302.1 1445.6L302.6 1445.8L303.1 1450.2L303.7 1449.5L304.2 1452.0L304.7 1449.2L305.3 1451.8L305.8 1450.5L306.4 1455.1L307.0 1453.9L307.6 1453.2L308.1 1453.9L308.7 1457.4L309.3 1455.1L310.0 1456.8L310.6 1457.7L311.3 1457.0L311.9 1460.8L312.6 1461.8L313.3 1459.3L314.0 1460.9L314.7 1462.1L315.4 1462.6L316.1 1463.2L316.8 1461.4L317.5 1463.5L318.3 1462.2L319.0 1464.4L319.7 1465.7L320.5 1466.7L321.2 1463.4L322.0 1467.0L322.7 1465.4L323.4 1468.4L324.2 1468.8L324.9 1469.1L325.6 1470.6L326.3 1470.3L327.1 1469.5L327.8 1470.6L328.5 1472.1L329.2 1470.1L329.9 1472.4L330.6 1473.8L331.3 1472.5L332.0 1476.0L332.7 1476.5L333.4 1476.3L334.1 1476.1L334.8 1476.3L335.5 1478.1L336.2 1478.5L336.9 1479.7L337.6 1478.1L338.3 1480.4L339.0 1481.6L339.7 1479.5L340.4 1481.5L341.1 1481.9L341.8 1482.2L342.5 1484.2L343.2 1483.3L343.9 1485.0L344.6 1485.2L345.3 1486.2L346.0 1485.4L346.8 1485.4L347.5 1487.6L348.2 1487.4L348.9 1489.0L349.6 1487.8L350.4 1488.3L351.1 1490.4L351.8 1490.3L352.5 1490.5L353.3 1492.1L354.0 1491.5L354.7 1492.5L355.4 1493.5L356.2 1492.0L356.9 1495.1L357.6 1494.4L358.4 1494.6L359.1 1495.4L359.9 1495.2L360.6 1494.2L361.3 1497.1L362.1 1496.9L362.9 1500.1L363.6 1500.4L364.4 1498.3L365.1 1499.8L365.9 1501.2L366.7 1500.8L367.5 1500.5L368.3 1500.7L369.1 1500.3L369.9 1503.1L370.7 1503.2L371.5 1503.0L372.3 1503.2L373.1 1505.8L373.9 1504.5L374.7 1506.1L375.6 1503.2L376.4 1504.0L377.2 1504.4L378.1 1506.8L378.9 1505.7L379.7 1508.2L380.6 1507.0L381.4 1508.5L382.2 1507.1L383.1 1509.0L383.9 1507.8L384.8 1508.5L385.6 1507.6L386.5 1506.9L387.3 1508.0L388.1 1510.1L389.0 1510.4L389.8 1508.3L390.7 1509.1L391.6 1509.2L392.4 1511.9L393.3 1510.4L394.1 1510.5L395.0 1512.6L395.9 1511.6L396.7 1513.2L397.6 1513.8L398.5 1512.4L399.3 1511.2L400.2 1513.2L401.1 1516.5L402.0 1512.6L402.8 1515.9L403.7 1513.6L404.6 1513.4L405.5 1516.6L406.3 1514.4L407.2 1512.4L408.1 1513.6L409.0 1514.4L409.9 1514.9L410.8 1517.5L411.7 1517.2L412.5 1516.2L413.4 1516.9L414.3 1515.9L415.2 1514.6L416.1 1516.9L417.0 1516.7L417.9 1518.3L418.8 1517.6L419.7 1518.8L420.6 1516.9L421.5 1517.0L422.4 1516.9L423.3 1516.5L424.2 1519.0L425.1 1517.8L426.0 1516.0L426.9 1516.8L427.8 1520.0L428.7 1520.5L429.6 1519.3L430.5 1517.6L431.4 1519.5L432.3 1517.3L433.2 1515.8L434.1 1517.4L435.0 1515.8L435.9 1516.9L436.8 1520.0L437.7 1517.7L438.6 1517.3L439.5 1518.0L440.4 1516.3L441.3 1517.1L442.2 1515.4L443.1 1514.9L444.0 1516.0L444.9 1515.0L445.8 1513.5L446.7 1515.7L447.6 1514.9L448.5 1515.0L449.4 1518.0L450.3 1516.9L451.2 1517.3L452.1 1515.6L453.0 1514.5L453.9 1514.5L454.8 1518.0L455.7 1511.9L456.6 1514.8L457.5 1515.6L458.4 1513.3L459.3 1516.5L460.2 1513.9L461.0 1514.9L461.9 1516.9L462.8 1515.8L463.7 1514.3L464.6 1514.3L465.5 1516.3L466.4 1516.7L467.3 1514.7L468.2 1511.4L469.0 1513.1L469.9 1514.9L470.8 1512.4L471.7 1512.8L472.6 1511.7L473.5 1512.3L474.3 1514.0L475.2 1513.4L476.1 1510.8L477.0 1513.8L477.9 1510.0L478.8 1513.0L479.6 1512.7L480.5 1509.6L481.4 1508.6L482.3 1512.3L483.2 1511.6L484.0 1510.8L484.9 1509.3L485.8 1510.6L486.7 1507.9L487.5 1510.7L488.4 1512.5L489.3 1508.9L490.1 1510.3L491.0 1507.5L491.9 1508.9L492.8 1507.9L493.6 1508.6L494.5 1507.3L495.4 1505.2L496.2 1508.7L497.1 1505.5L498.0 1508.3L498.9 1505.0L499.8 1507.5L500.6 1506.8L501.5 1505.4L502.4 1507.2L503.3 1506.1L504.2 1507.7L505.1 1506.4L505.9 1507.0L506.8 1502.4L507.7 1506.9L508.6 1504.5L509.5 1504.4L510.4 1502.8L511.3 1503.5L512.2 1503.9L513.1 1504.3L514.0 1504.1L514.9 1503.4L515.8 1504.0L516.7 1504.9L517.5 1502.9L518.4 1502.6L519.3 1504.8L520.2 1503.8L521.1 1501.8L522.0 1503.9L522.9 1503.5L523.8 1505.8L524.7 1503.9L525.6 1503.7L526.5 1502.4L527.4 1501.2L528.3 1502.2L529.2 1501.9L530.1 1501.8L531.0 1503.7L531.9 1500.6L532.8 1504.3L533.7 1500.5L534.6 1499.8L535.5 1503.0L536.4 1501.3L537.3 1500.5L538.2 1502.0L539.1 1500.7L540.0 1501.4L540.9 1500.6L541.8 1501.3L542.6 1499.8L543.5 1501.8L544.4 1500.2L545.3 1500.8L546.2 1497.6L547.1 1501.1L548.0 1499.6L548.9 1500.0L549.8 1499.7L550.7 1499.3L551.6 1498.6L552.5 1501.2L553.4 1499.1L554.3 1499.4L555.2 1499.1L556.1 1498.5L557.0 1500.9L557.9 1498.4L558.8 1499.7L559.7 1498.0L560.6 1497.0L561.5 1496.9L562.4 1499.5L563.3 1496.0L564.2 1496.2L565.1 1497.6L566.0 1499.2L566.9 1497.3L567.8 1499.6L568.7 1497.8L569.6 1497.6L570.4 1500.0L571.3 1498.5L572.2 1497.1L573.1 1496.8L574.0 1498.6L574.9 1499.3L575.8 1497.0L576.7 1497.1L577.6 1498.7L578.5 1496.2L579.4 1497.7L580.3 1497.4L581.2 1496.8L582.1 1495.7L583.0 1493.6L583.9 1496.6L584.8 1495.0L585.7 1497.1L586.6 1495.9L587.5 1496.0L588.4 1498.5L589.3 1497.5L590.2 1495.1L591.1 1497.6L592.0 1495.9L592.9 1494.5L593.8 1496.5L594.7 1496.3L595.6 1497.6L596.5 1497.6L597.4 1497.7L598.3 1495.2L599.2 1496.1L600.1 1493.7L601.0 1496.5L601.9 1495.8L602.8 1493.1L603.7 1496.9L604.6 1496.6L605.5 1493.8L606.4 1492.9L607.3 1495.5L608.2 1496.3L609.1 1495.8L610.0 1497.9L610.9 1499.1L611.8 1496.0L612.7 1495.6L613.7 1495.2L614.6 1498.7L615.5 1495.9L616.4 1496.8L617.3 1497.0L618.2 1497.2L619.1 1496.3L620.0 1498.4L620.9 1496.5L621.8 1496.0L622.7 1494.2L623.6 1495.2L624.5 1495.6L625.4 1497.1L626.3 1494.8L627.2 1495.9L628.1 1495.3L629.0 1491.7L629.9 1495.8L630.8 1497.9L631.7 1493.4L632.6 1497.0L633.5 1493.6L634.4 1494.7L635.3 1495.1L636.2 1496.6L637.1 1495.2L638.0 1495.3L638.9 1496.5L639.8 1496.6L640.7 1495.0L641.6 1495.8L642.6 1497.1L643.5 1495.8L644.4 1493.6L645.3 1495.1L646.2 1492.8L647.1 1498.1L648.1 1495.2L649.0 1492.5L649.9 1494.2L650.8 1495.4L651.7 1495.7L652.5 1494.5L653.4 1494.0L654.3 1493.2L655.1 1495.7L656.0 1496.1L656.8 1494.6L657.6 1493.9L658.4 1493.3L659.2 1491.8L660.0 1491.9L660.9 1493.2L661.7 1492.8L662.6 1493.0L663.5 1491.3L664.4 1493.5L665.3 1490.9L666.2 1494.2L667.1 1492.1L668.0 1492.8L669.0 1491.4L669.9 1492.3L670.8 1491.3L671.7 1492.6L672.7 1489.8L673.6 1494.0L674.5 1492.7L675.4 1493.4L676.3 1492.2L677.2 1493.1L678.1 1491.4L679.0 1491.1L679.8 1491.8L680.7 1490.1L681.6 1493.2L682.4 1491.3L683.2 1491.2L684.1 1490.0L684.9 1491.6L685.7 1491.9L686.6 1489.5L687.4 1491.1L688.2 1489.5L689.0 1488.8L689.9 1485.5L690.7 1486.2L691.5 1488.8L692.3 1488.1L693.2 1489.4L694.0 1484.9L694.8 1486.6L695.7 1483.0L696.5 1483.7L697.4 1483.2L698.2 1483.5L699.1 1485.2L700.0 1486.9L700.9 1485.0L701.7 1482.9L702.6 1486.8L703.5 1485.3L704.4 1482.5L705.3 1486.9L706.2 1484.9L707.1 1486.0L708.0 1483.9L709.0 1484.0L709.9 1485.4L710.8 1482.3L711.7 1484.9L712.6 1486.2L713.5 1485.5L714.4 1484.7L715.3 1484.2L716.2 1484.1L717.1 1487.1L718.0 1485.2L718.9 1485.1L719.8 1483.3L720.7 1485.3L721.6 1485.8L722.5 1480.9L723.4 1487.1L724.3 1485.7L725.2 1483.9L726.1 1481.2L727.0 1487.9L727.9 1484.9L728.8 1482.8L729.7 1481.1L730.6 1485.0L731.5 1480.1L732.4 1482.9L733.3 1482.2L734.1 1480.5L735.0 1481.1L735.9 1480.9L736.8 1483.4L737.6 1482.4L738.5 1483.5L739.4 1479.7L740.3 1483.3L741.1 1481.5L742.0 1482.8L742.9 1479.9L743.7 1481.0L744.6 1478.2L745.5 1481.6L746.3 1479.5L747.2 1477.9L748.1 1478.4L748.9 1478.4L749.8 1474.7L750.6 1477.8L751.5 1475.4L752.3 1476.7L753.1 1476.8L753.9 1480.3L754.8 1476.5L755.6 1473.1L756.4 1476.0L757.2 1472.6L758.0 1472.4L758.8 1472.5L759.6 1475.1L760.4 1476.0L761.2 1473.7L762.0 1469.6L762.7 1471.8L763.5 1472.5L764.3 1465.9L765.0 1469.3L765.7 1473.9L766.4 1466.3L767.1 1466.4L767.7 1465.5L768.3 1469.6L768.9 1468.2L769.5 1467.2L770.0 1467.3L770.6 1463.3L771.1 1460.3L771.7 1464.0L772.2 1459.2L772.7 1462.6L773.2 1461.6L773.6 1460.2L774.1 1461.5L774.5 1459.0L775.0 1455.3L775.4 1455.3L775.8 1457.2L776.2 1454.0L776.6 1455.5L776.9 1453.0L777.3 1453.2L777.6 1450.2L777.9 1450.8L778.3 1447.3L778.6 1448.1L778.9 1449.5L779.2 1446.5L779.5 1445.0L779.8 1447.5L780.1 1446.5L780.4 1442.1L780.7 1443.8L781.0 1443.4L781.2 1440.0L781.5 1439.4L781.8 1439.6L782.1 1441.7L782.3 1438.1L782.6 1437.2L782.8 1431.7L783.1 1436.2L783.4 1436.4L783.6 1431.8L783.8 1434.4L784.1 1432.8L784.3 1432.7L784.6 1430.3L784.8 1429.5L785.0 1433.1L785.3 1431.1L785.5 1425.2L785.7 1423.0L785.9 1425.8L786.2 1425.1L786.4 1423.6L786.6 1422.3L786.8 1424.2L787.0 1415.3L787.2 1418.1L787.4 1420.1L787.6 1419.0L787.8 1418.1" fill="none" stroke="#0000ff" stroke-width="8.8" stroke-linecap="round" stroke-linejoin="round" stroke-opacity="0.9"/><path d="M786.4 1473.2L786.6 1471.2L786.8 1469.2L787.0 1467.2L787.2 1465.2L787.4 1463.2L787.6 1461.2L787.8 1459.2L788.0 1457.2L788.2 1455.2L788.4 1453.1L788.6 1451.1L788.7 1449.1L788.9 1447.1L789.1 1445.1L789.3 1443.1L789.5 1441.1L789.7 1439.1L789.9 1437.1L790.0 1435.1L790.2 1433.1L790.4 1431.1L790.6 1429.1L790.8 1427.1L791.0 1425.1L791.1 1423.1L791.3 1421.1L791.5 1419.1L791.7 1417.1L791.8 1415.1L792.0 1413.1L792.2 1411.1L792.4 1409.1L792.6 1407.1L792.7 1405.0L792.9 1403.0L793.1 1401.0L793.2 1399.0L793.4 1397.0L793.6 1395.0L793.8 1393.0L793.9 1391.0L794.1 1389.0L794.3 1387.0L794.4 1385.0L794.6 1383.0L794.8 1381.0L795.0 1379.0L795.1 1377.0L795.3 1375.0L795.5 1373.0L795.6 1371.0L795.8 1369.0L796.0 1367.0L796.1 1365.0L796.3 1363.0L796.4 1361.0L796.6 1359.0L796.8 1357.0L796.9 1355.0L797.1 1353.0L797.3 1351.0L797.4 1349.0L797.6 1347.0L797.7 1345.0L797.9 1343.0L798.1 1341.0L798.2 1339.0L798.4 1337.0L798.5 1335.0L798.7 1333.0L798.9 1331.0L799.0 1329.0L799.2 1327.0L799.3 1325.0L799.5 1323.0L799.6 1321.0L799.8 1319.0L800.0 1317.0L800.1 1315.0L800.3 1313.0L800.4 1311.0L800.6 1309.0L800.7 1307.0L800.9 1305.1L801.0 1303.1L801.2 1301.1L801.3 1299.1L801.5 1297.1L801.6 1295.1L801.8 1293.1L802.0 1291.1L802.1 1289.1L802.3 1287.1L802.4 1285.1L802.6 1283.1L802.7 1281.1L802.9 1279.1L803.0 1277.1L803.2 1275.1L803.3 1273.1L803.5 1271.1L803.6 1269.1L803.8 1267.1L803.9 1265.1L804.1 1263.1L804.2 1261.1L804.4 1259.1L804.5 1257.1L804.6 1255.1L804.8 1253.1L804.9 1251.1L805.1 1249.2L805.2 1247.2L805.4 1245.2L805.5 1243.2L805.7 1241.2L805.8 1239.2L806.0 1237.2L806.1 1235.2L806.3 1233.2L806.4 1231.2L806.6 1229.2L806.7 1227.2L806.9 1225.2L807.0 1223.2L807.1 1221.2L807.3 1219.2L807.4 1217.2L807.6 1215.2L807.7 1213.2L807.9 1211.2L808.0 1209.3L808.2 1207.3L808.3 1205.3L808.5 1203.3L808.6 1201.3L808.7 1199.3L808.9 1197.3L809.0 1195.3L809.2 1193.3L809.3 1191.3L809.5 1189.3L809.6 1187.3L809.8 1185.3L809.9 1183.3L810.1 1181.3L810.2 1179.3L810.3 1177.4L810.5 1175.4L810.6 1173.4L810.8 1171.4L810.9 1169.4L811.1 1167.4L811.2 1165.4L811.4 1163.4L811.5 1161.4L811.7 1159.4L811.8 1157.4L811.9 1155.4L812.1 1153.4L812.2 1151.4L812.4 1149.5L812.5 1147.5L812.7 1145.5L812.8 1143.5L813.0 1141.5L813.1 1139.5L813.3 1137.5L813.4 1135.5L813.6 1133.5L813.7 1131.5L813.9 1129.5L814.0 1127.5L814.2 1125.5L814.3 1123.5L814.4 1121.6L814.6 1119.6L814.7 1117.6L814.9 1115.6L815.0 1113.6L815.2 1111.6L815.3 1109.6L815.5 1107.6L815.6 1105.6L815.8 1103.6L815.9 1101.6L816.1 1099.6L816.2 1097.6L816.4 1095.7L816.5 1093.7L816.7 1091.7L816.8 1089.7L817.0 1087.7L817.1 1085.7L817.3 1083.7L817.5 1081.7L817.6 1079.7L817.8 1077.7L817.9 1075.7L818.1 1073.7L818.2 1071.8L818.4 1069.8L818.5 1067.8L818.7 1065.8L818.8 1063.8L819.0 1061.8L819.2 1059.8L819.3 1057.8L819.5 1055.8L819.6 1053.8L819.8 1051.8L819.9 1049.8L820.1 1047.9L820.3 1045.9L820.4 1043.9L820.6 1041.9L820.7 1039.9L820.9 1037.9L821.0 1035.9L821.2 1033.9L821.4 1031.9L821.5 1029.9L821.7 1027.9L821.9 1025.9L822.0 1024.0L822.2 1022.0L822.3 1020.0L822.5 1018.0L822.7 1016.0L822.8 1014.0L823.0 1012.0L823.2 1010.0L823.3 1008.0L823.5 1006.0L823.7 1004.0L823.8 1002.0L824.0 1000.0L824.2 998.1L824.3 996.1L824.5 994.1L824.7 992.1L824.8 990.1L825.0 988.1L825.2 986.1L825.4 984.1L825.5 982.1L825.7 980.1L825.9 978.1L826.1 976.1L826.2 974.2L826.4 972.2L826.6 970.2L826.8 968.2L826.9 966.2L827.1 964.2L827.3 962.2L827.5 960.2L827.6 958.2L827.8 956.2L828.0 954.2L828.2 952.2L828.4 950.2L828.5 948.3L828.7 946.3L828.9 944.3L829.1 942.3L829.3 940.3L829.5 938.3L829.7 936.3L829.8 934.3L830.0 932.3L830.2 930.3L830.4 928.3L830.6 926.3L830.8 924.3L831.0 922.4L831.2 920.4L831.4 918.4L831.5 916.4L831.7 914.4L831.9 912.4L832.1 910.4L832.3 908.4L832.5 906.4L832.7 904.4L832.9 902.4L833.1 900.4L833.3 898.4L833.5 896.4L833.7 894.5L833.9 892.5L834.1 890.5L834.3 888.5L834.5 886.5L834.7 884.5L834.9 882.5L835.1 880.5L835.3 878.5L835.5 876.5L835.8 874.5L836.0 872.5L836.2 870.5L836.4 868.5L836.6 866.5L836.8 864.6L837.0 862.6L837.2 860.6L837.4 858.6L837.7 856.6L837.9 854.6L838.1 852.6L838.3 850.6L838.5 848.6L838.7 846.6L839.0 844.6L839.2 842.6L839.4 840.6L839.6 838.6L839.9 836.6L840.1 834.6L840.3 832.6L840.5 830.6L840.8 828.7L841.0 826.7L841.2 824.7L841.5 822.7L841.7 820.7L841.9 818.7L842.1 816.7L842.4 814.7L842.6 812.7L842.9 810.7L843.1 808.7L843.3 806.7L843.6 804.7L843.8 802.7L844.0 800.7L844.3 798.7L844.5 796.7L844.8 794.7L845.0 792.7L845.3 790.7L845.5 788.7L845.8 786.7L846.0 784.7L846.3 782.7L846.5 780.8L846.8 778.8L847.0 776.8L847.3 774.8L847.5 772.8L847.8 770.8L848.0 768.8L848.3 766.8L848.6 764.8L848.8 762.8L849.1 760.8L849.3 758.8L849.6 756.8L849.9 754.8L850.1 752.8L850.4 750.8L850.7 748.8L850.9 746.8L851.2 744.8L851.5 742.8L851.7 740.8L852.0 738.8L852.3 736.8L852.6 734.8L852.8 732.8L853.1 730.8L853.4 728.8L853.7 726.8L854.0 724.8L854.3 722.8L854.5 720.8L854.8 718.8L855.1 716.8L855.4 714.8L855.7 712.8L856.0 710.8L856.3 708.8L856.6 706.8L856.9 704.8L857.2 702.8L857.5 700.8L857.8 698.8L858.1 696.9L858.4 694.9L858.7 692.9L859.0 690.9L859.3 688.9L859.6 686.9L860.0 684.9L860.3 682.9L860.6 680.9L860.9 678.9L861.2 676.9L861.6 674.9L861.9 672.9L862.2 670.9L862.6 668.9L862.9 667.0L863.2 665.0L863.6 663.0L863.9 661.0L864.3 659.0L864.6 657.0L865.0 655.0L865.3 653.0L865.7 651.1L866.0 649.1L866.4 647.1L866.8 645.1L867.1 643.1L867.5 641.1L867.9 639.2L868.2 637.2L868.6 635.2L869.0 633.2L869.4 631.2L869.8 629.3L870.2 627.3L870.6 625.3L871.0 623.3L871.4 621.4L871.8 619.4L872.2 617.4L872.6 615.5L873.0 613.5L873.4 611.5L873.8 609.6L874.2 607.6L874.7 605.6L875.1 603.7L875.5 601.7L875.9 599.7L876.4 597.8L876.8 595.8L877.3 593.9L877.7 591.9L878.2 589.9L878.6 588.0L879.1 586.0L879.5 584.1L880.0 582.1L880.5 580.2L881.0 578.2L881.4 576.3L881.9 574.3L882.4 572.4L882.9 570.4L883.4 568.5L883.9 566.6L884.4 564.6L884.9 562.7L885.4 560.8L885.9 558.8L886.4 556.9L886.9 555.0L887.5 553.0L888.0 551.1L888.5 549.2L889.1 547.2L889.6 545.3L890.2 543.4L890.7 541.5L891.3 539.6L891.8 537.6L892.4 535.7L893.0 533.8L893.5 531.9L894.1 530.0L894.7 528.1L895.3 526.2L895.9 524.3L896.5 522.4L897.1 520.5L897.7 518.6L898.3 516.7L898.9 514.8L899.5 512.9L900.1 511.0L900.8 509.1L901.4 507.2L902.0 505.3L902.7 503.4L903.3 501.5L904.0 499.7L904.7 497.8L905.3 495.9L906.0 494.0L906.7 492.2L907.3 490.3L908.0 488.4L908.7 486.5L909.4 484.7L910.1 482.8L910.8 481.0L911.5 479.1L912.3 477.2L913.0 475.4L913.7 473.5L914.5 471.7L915.2 469.8L915.9 468.0L916.7 466.2L917.5 464.3L918.2 462.5L919.0 460.6L919.8 458.8L920.5 457.0L921.3 455.1L922.1 453.3L922.9 451.5L923.7 449.7L924.5 447.9L925.3 446.0L926.2 444.2L927.0 442.4L927.8 440.6L928.7 438.8L929.5 437.0L930.4 435.2L931.2 433.4L932.1 431.6L933.0 429.8L933.8 428.0L934.7 426.2L935.6 424.4L936.5 422.7L937.4 420.9L938.3 419.1L939.2 417.3L940.2 415.6L941.1 413.8L942.0 412.0L943.0 410.3L943.9 408.5L944.9 406.7L945.8 405.0L946.8 403.2L947.8 401.5L948.8 399.7L949.8 398.0L950.7 396.3L951.7 394.5L952.8 392.8L953.8 391.1L954.8 389.3L955.8 387.6L956.8 385.9L957.9 384.2L958.9 382.5L960.0 380.8L961.0 379.1L962.1 377.4L963.2 375.7L964.2 374.0L965.3 372.3L966.4 370.6L967.5 368.9L968.6 367.3L969.7 365.6L970.8 363.9L971.9 362.3L973.1 360.6L974.2 358.9L975.3 357.3L976.5 355.6L977.6 354.0L978.8 352.4L980.0 350.7L981.1 349.1L982.3 347.5L983.5 345.8L984.7 344.2L985.9 342.6L987.1 341.0L988.3 339.4L989.5 337.8L990.7 336.2L991.9 334.6L993.2 333.0L994.4 331.5L995.7 329.9L996.9 328.3L998.2 326.8L999.4 325.2L1000.7 323.7L1002.0 322.1L1003.2 320.6L1004.5 319.0L1005.8 317.5L1007.1 316.0L1008.4 314.4L1009.7 312.9L1011.1 311.4L1012.4 309.9L1013.7 308.4L1015.0 306.9L1016.4 305.4L1017.7 304.0L1019.1 302.5L1020.4 301.0L1021.8 299.5L1023.2 298.1L1024.6 296.6L1025.9 295.2L1027.3 293.7L1028.7 292.3L1030.1 290.9L1031.5 289.4L1032.9 288.0L1034.4 286.6L1035.8 285.2L1037.2 283.8L1038.7 282.4L1040.1 281.0L1041.5 279.6L1043.0 278.3L1044.5 276.9L1045.9 275.5L1047.4 274.2L1048.9 272.8L1050.4 271.5L1051.8 270.2L1053.3 268.8L1054.8 267.5L1056.3 266.2L1057.9 264.9L1059.4 263.6L1060.9 262.3L1062.4 261.0L1064.0 259.7L1065.5 258.5L1067.1 257.2L1068.6 255.9L1070.2 254.7L1071.7 253.4L1073.3 252.2L1074.9 251.0L1076.5 249.7L1078.1 248.5L1079.6 247.3L1081.2 246.1L1082.8 244.9L1084.5 243.7L1086.1 242.5L1087.7 241.4L1089.3 240.2L1090.9 239.0L1092.6 237.9L1094.2 236.7L1095.9 235.6L1097.5 234.5L1099.2 233.3L1100.8 232.2L1102.5 231.1L1104.2 230.0L1105.8 228.9L1107.5 227.8L1109.2 226.7L1110.9 225.6L1112.6 224.5L1114.3 223.4L1116.0 222.4L1117.7 221.3L1119.4 220.3L1121.1 219.2L1122.8 218.2L1124.5 217.1L1126.2 216.1L1128.0 215.1L1129.7 214.1L1131.4 213.1L1133.2 212.0L1134.9 211.0L1136.7 210.1L1138.4 209.1L1140.2 208.1L1141.9 207.1L1143.7 206.1L1145.4 205.2L1147.2 204.2L1149.0 203.2L1150.7 202.3L1152.5 201.3L1154.3 200.4L1156.1 199.5L1157.9 198.5L1159.6 197.6L1161.4 196.7L1163.2 195.8L1165.0 194.9L1166.8 194.0L1168.6 193.1L1170.4 192.2L1172.2 191.3L1174.0 190.4L1175.8 189.5L1177.7 188.7L1179.5 187.8L1181.3 186.9L1183.1 186.1L1184.9 185.2L1186.8 184.4L1188.6 183.5L1190.4 182.7L1192.2 181.8L1194.1 181.0L1195.9 180.2L1197.7 179.4L1199.6 178.5L1201.4 177.7L1203.3 176.9L1205.1 176.1L1207.0 175.3L1208.8 174.5L1210.6 173.7L1212.5 173.0L1214.4 172.2L1216.2 171.4L1218.1 170.6L1219.9 169.9L1221.8 169.1L1223.6 168.3L1225.5 167.6L1227.4 166.8L1229.2 166.1L1231.1 165.4L1233.0 164.6L1234.8 163.9L1236.7 163.2L1238.6 162.4L1240.5 161.7L1242.4 161.0L1244.2 160.3L1246.1 159.6L1248.0 158.9L1249.9 158.2L1251.8 157.5L1253.7 156.8L1255.5 156.1L1257.4 155.5L1259.3 154.8L1261.2 154.1L1263.1 153.5L1265.0 152.8L1266.9 152.1L1268.8 151.5L1270.7 150.8L1272.6 150.2L1274.5 149.6L1276.4 148.9L1278.3 148.3L1280.2 147.7L1282.1 147.0L1284.0 146.4L1286.0 145.8L1287.9 145.2L1289.8 144.6L1291.7 144.0L1293.6 143.4L1295.5 142.8L1297.4 142.2L1299.4 141.6L1301.3 141.0L1303.2 140.5L1305.1 139.9L1307.0 139.3L1309.0 138.8L1310.9 138.2L1312.8 137.6L1314.8 137.1L1316.7 136.5L1318.6 136.0L1320.5 135.4L1322.5 134.9L1324.4 134.4L1326.3 133.8L1328.3 133.3L1330.2 132.8L1332.1 132.3L1334.1 131.8L1336.0 131.3L1337.9 130.8L1339.9 130.3L1341.8 129.8L1343.8 129.3L1345.7 128.8L1347.6 128.3L1349.6 127.8L1351.5 127.3L1353.5 126.8L1355.4 126.4L1357.4 125.9L1359.3 125.4L1361.3 125.0L1363.2 124.5L1365.1 124.1L1367.1 123.6L1369.0 123.2L1371.0 122.7L1372.9 122.3L1374.9 121.9L1376.8 121.4L1378.8 121.0L1380.7 120.6L1382.7 120.2L1384.7 119.7L1386.6 119.3L1388.6 118.9L1390.5 118.5L1392.5 118.1L1394.4 117.7L1396.4 117.3L1398.3 116.9L1400.3 116.5L1402.2 116.1L1404.2 115.8L1406.1 115.4L1408.1 115.0" fill="none" stroke="#0000ff" stroke-width="7.7" stroke-linecap="round" stroke-linejoin="round" stroke-opacity="0.9"/><path d="M280.6 1268.0L280.6 1272.0M295.8 1281.1L298.2 1281.8M317.8 1282.2L320.7 1282.3M341.0 1281.9L343.8 1281.8M363.1 1281.5L366.1 1281.4M387.2 1281.0L390.3 1280.8M411.0 1279.4L414.0 1279.3M434.6 1278.1L437.4 1277.9M455.0 1277.1L457.6 1276.9M476.0 1274.3L479.0 1273.9M501.9 1270.5L505.2 1270.0M527.1 1266.7L530.3 1266.2M552.2 1262.8L555.4 1262.3M576.4 1259.5L579.4 1259.0M599.1 1254.7L601.9 1254.1M621.5 1250.0L624.3 1249.3M644.1 1244.0L646.9 1243.2M666.1 1237.1L669.3 1235.9M692.8 1226.6L696.0 1225.2M715.6 1215.4L718.3 1213.9M735.9 1202.7L738.5 1200.8M756.2 1185.5L758.8 1182.4M776.8 1156.4L779.5 1152.5" fill="none" stroke="#0000ff" stroke-width="7.5" stroke-linecap="round" stroke-linejoin="round" stroke-opacity="0.9"/><path d="M785.9 1163.8L787.0 1159.8M794.9 1133.7L796.1 1128.9M804.6 1091.2L805.8 1085.6M812.9 1049.2L814.0 1043.5M821.6 1005.7L822.7 1000.1M829.9 965.6L831.4 960.8M843.5 932.2L845.7 929.0M863.3 914.9L865.6 913.6M879.9 909.9L881.7 909.4M893.1 905.5L894.6 905.1M906.6 903.0L908.1 902.7M919.2 899.9L920.7 899.6" fill="none" stroke="#0000ff" stroke-width="7.5" stroke-linecap="round" stroke-linejoin="round" stroke-opacity="0.9"/><path d="M926.3 898.9L926.6 898.8M928.8 899.5L929.0 899.4M931.7 898.8L932.0 898.7M934.7 898.4L935.0 898.4M937.7 897.9L938.0 897.8M940.2 896.3L940.5 896.3M943.1 896.6L943.4 896.5M945.3 895.9L946.2 895.5M947.8 895.3L948.8 895.1M950.3 895.8L951.3 895.6M952.8 894.1L953.8 893.8M955.4 896.2L956.2 895.7M957.9 894.6L958.7 894.0M959.9 898.0L960.7 898.6M962.3 894.6L963.3 894.3M964.3 893.0L965.3 893.4M966.8 894.6L967.8 894.5M968.9 891.2L969.7 891.7M971.0 893.9L971.6 893.1M972.9 896.9L973.7 896.3M975.0 895.2L975.6 894.4M976.8 892.5L977.8 892.4M978.9 895.6L979.7 895.0M980.9 895.4L981.7 896.0M982.9 896.9L983.7 896.2M984.5 893.6L985.1 892.9M986.4 890.1L987.2 889.5M988.4 894.1L989.2 893.5M989.9 895.5L990.7 895.0M991.4 893.9L992.2 893.3M993.3 896.3L994.3 896.1M994.9 892.2L995.6 891.5M996.3 896.3L997.3 896.4M997.8 889.9L998.8 889.8M999.3 893.6L1000.2 893.2M1000.8 889.8L1001.8 889.9M1002.3 890.3L1003.2 890.7M1003.8 892.1L1004.7 891.6M1005.4 889.1L1006.2 889.6M1006.9 886.7L1007.6 886.0M1008.3 888.8L1009.2 889.2M1010.5 888.2L1010.1 890.7M1011.2 891.5L1012.3 893.7M1013.9 891.1L1012.7 893.3M1015.3 891.3L1014.3 893.6M1015.7 890.5L1015.9 893.0M1017.2 891.0L1017.3 893.5M1018.3 888.6L1019.2 890.9M1019.9 890.3L1020.7 892.7M1021.7 893.2L1021.8 895.7M1023.1 888.3L1023.4 890.8M1024.3 889.4L1024.2 891.9M1025.9 887.0L1025.6 889.5M1027.0 882.7L1027.5 885.2M1028.2 888.6L1029.3 890.9M1029.4 889.9L1030.1 892.3M1031.6 890.2L1030.9 892.6M1032.3 881.2L1033.3 883.5M1034.7 892.8L1033.8 895.2M1035.3 890.5L1035.2 893.0M1036.8 891.2L1036.7 893.7M1038.8 887.0L1037.7 889.3M1039.2 890.3L1039.3 892.8M1040.9 888.3L1040.6 890.8M1041.9 887.5L1041.6 890.0M1042.9 885.9L1043.6 888.3M1045.2 890.4L1044.3 892.8M1045.3 890.2L1046.2 892.5M1047.2 889.6L1047.3 892.1M1048.0 886.0L1048.5 888.5M1050.0 888.6L1049.5 891.1M1051.0 883.1L1050.5 885.5M1052.4 881.3L1052.1 883.8M1053.8 882.6L1052.7 884.8M1054.4 884.9L1055.1 887.3M1055.7 882.8L1055.8 885.3M1057.0 894.3L1057.5 896.7M1058.6 893.1L1057.8 895.4M1059.7 882.2L1059.8 884.7M1061.1 889.0L1060.4 891.4M1062.6 883.3L1061.9 885.7M1062.7 890.3L1063.7 892.6M1064.7 894.1L1064.7 896.6M1065.8 884.5L1065.7 887.0M1067.0 873.9L1066.5 876.4M1067.8 894.1L1068.7 896.4M1068.9 887.8L1069.5 890.3M1070.4 886.6L1070.0 889.0M1072.2 884.5L1071.3 886.8M1073.0 884.8L1072.4 887.2M1074.3 888.7L1073.2 890.9M1075.8 891.8L1074.6 894.0M1076.3 878.7L1076.1 881.2M1077.0 892.2L1077.5 894.6M1078.9 893.2L1078.6 895.7M1079.8 888.2L1079.7 890.7M1080.8 875.2L1080.7 877.7M1081.5 877.6L1082.1 880.0M1083.1 887.4L1082.6 889.8M1084.4 879.8L1084.3 882.3M1085.0 891.8L1085.7 894.2M1085.9 884.0L1086.9 886.3M1086.9 888.2L1087.9 890.5M1087.9 890.7L1089.0 893.0M1090.0 878.0L1088.9 880.3M1090.7 877.1L1090.3 879.6M1091.2 886.5L1091.8 889.0M1093.6 888.2L1092.6 890.5M1093.5 881.6L1094.7 883.8M1094.8 874.0L1095.4 876.4M1095.7 882.4L1096.6 884.8M1097.5 880.3L1096.8 882.7M1098.2 881.3L1098.2 883.8M1099.6 878.9L1098.8 881.2M1100.7 878.3L1099.7 880.6M1101.4 882.5L1101.0 884.9M1102.7 892.5L1101.8 894.8M1103.7 890.3L1102.8 892.6M1103.8 882.8L1104.7 885.2M1104.9 874.8L1105.6 877.2M1106.5 882.0L1106.0 884.5M1107.5 874.2L1107.1 876.7M1108.0 874.8L1108.6 877.2M1109.5 890.3L1109.0 892.8M1109.7 891.2L1110.8 893.5M1111.3 884.5L1111.2 887.0M1112.4 880.0L1112.0 882.5M1112.9 869.7L1113.5 872.2M1114.3 881.4L1114.0 883.8M1114.8 879.4L1115.4 881.8M1116.5 886.4L1115.6 888.7M1117.4 874.6L1116.7 877.0M1117.9 882.4L1118.0 884.9M1118.8 872.9L1119.0 875.4M1120.0 876.3L1119.7 878.8M1120.3 896.9L1121.2 899.2M1121.9 877.5L1121.5 879.9M1122.3 873.9L1123.0 876.3M1124.1 875.5L1123.0 877.8M1124.7 877.4L1124.1 879.8M1125.0 884.9L1125.4 887.4M1126.5 887.6L1125.6 889.9M1126.4 881.4L1126.6 883.9M1126.8 893.1L1127.8 895.4M1128.0 887.1L1128.3 889.6M1128.7 889.6L1129.4 892.0M1129.5 878.9L1129.5 881.4M1130.1 889.0L1130.7 891.4M1131.7 887.6L1130.9 889.9M1132.6 877.4L1131.8 879.8M1133.7 890.0L1132.6 892.3M1134.1 872.4L1134.1 874.9M1135.4 884.3L1134.6 886.7M1135.7 880.6L1136.2 883.1M1136.8 867.9L1136.9 870.4M1138.2 897.2L1137.4 899.6M1138.2 886.6L1139.2 888.9M1140.2 882.5L1139.2 884.8M1140.8 862.6L1140.4 865.0M1141.1 890.7L1142.0 893.0M1142.5 884.5L1141.6 886.8M1142.8 895.0L1143.2 897.5M1144.2 889.6L1143.7 892.1M1144.6 901.3L1145.2 903.7M1146.0 893.7L1145.7 896.2M1147.3 857.4L1146.4 859.7M1147.8 894.2L1147.8 896.7M1148.7 882.5L1147.8 884.9M1148.8 876.9L1149.7 879.2M1150.7 893.4L1149.8 895.7M1150.8 901.1L1151.6 903.5M1152.3 889.1L1152.1 891.6M1152.6 894.6L1152.7 897.1M1154.0 885.9L1153.3 888.3M1154.3 889.7L1154.9 892.1M1155.7 891.4L1155.5 893.9M1156.6 890.7L1155.6 893.0M1157.4 887.7L1156.8 890.1M1158.1 884.0L1158.1 886.4M1159.6 890.1L1158.6 892.4M1159.7 866.3L1160.5 868.7M1160.1 888.6L1161.1 890.9M1161.1 886.6L1162.1 888.8M1162.6 894.0L1162.6 896.5M1163.1 878.2L1163.1 880.7M1164.6 890.8L1163.6 893.1M1164.8 876.7L1165.4 879.1M1166.7 884.9L1165.5 887.1M1166.4 880.2L1166.8 882.7M1167.6 881.1L1167.6 883.6M1168.2 868.6L1169.1 870.9M1169.6 894.0L1168.6 896.3M1169.8 879.4L1170.5 881.8M1171.2 876.3L1171.2 878.8M1172.6 878.2L1171.7 880.5M1172.4 889.5L1173.0 892.0M1173.6 871.0L1173.8 873.4M1174.7 894.1L1174.8 896.6M1175.8 893.3L1174.7 895.5M1176.7 893.3L1175.7 895.6M1177.0 878.6L1177.5 881.0M1177.4 888.4L1178.2 890.7M1178.2 872.0L1179.4 874.2M1180.1 882.4L1179.6 884.9M1180.7 880.5L1179.9 882.9M1181.9 882.9L1180.8 885.2M1182.9 897.2L1181.9 899.5M1182.4 893.6L1183.4 895.9M1183.8 893.1L1184.0 895.6M1184.9 872.0L1185.0 874.5M1186.0 875.9L1184.9 878.1M1186.6 868.3L1186.3 870.8M1187.5 877.4L1187.5 879.8M1187.8 868.1L1188.2 870.6M1189.4 888.9L1188.6 891.3M1189.6 884.2L1190.6 886.5M1190.5 877.5L1190.6 880.0M1192.2 881.9L1191.1 884.1M1192.7 889.8L1191.6 892.1M1193.1 885.7L1193.2 888.2M1193.8 872.9L1194.5 875.3M1194.3 874.4L1195.1 876.8M1195.4 872.2L1196.0 874.6M1196.2 871.5L1197.3 873.7M1197.7 887.1L1196.8 889.4M1197.7 900.0L1198.9 902.2M1198.5 884.6L1199.1 887.0M1199.3 866.1L1200.3 868.4M1200.3 890.6L1201.3 892.9M1201.4 900.1L1201.4 902.6M1202.8 897.4L1201.9 899.7M1204.0 882.2L1202.8 884.4M1203.5 863.4L1204.4 865.7M1205.4 866.3L1204.5 868.6M1205.2 852.7L1205.7 855.2M1206.1 880.1L1206.8 882.4M1206.9 864.6L1208.1 866.8M1208.2 889.0L1207.8 891.5M1209.5 878.0L1208.6 880.4M1210.6 898.7L1209.5 900.9M1210.6 879.7L1210.5 882.2M1211.0 860.7L1212.1 863.0M1212.4 862.0L1211.7 864.4M1213.1 893.2L1213.1 895.7M1214.5 877.8L1213.7 880.1M1214.4 882.0L1214.8 884.4M1215.2 887.5L1216.1 889.8M1216.6 861.2L1216.6 863.7M1217.4 876.9L1216.9 879.4M1217.6 869.5L1218.7 871.7M1218.8 882.3L1218.5 884.7M1219.9 888.6L1219.4 891.1M1220.1 882.8L1221.2 885.0M1221.7 878.6L1220.7 880.9M1221.8 871.8L1222.5 874.2M1223.0 870.8L1223.3 873.2M1223.7 878.3L1223.6 880.8M1224.4 880.0L1224.9 882.5M1224.9 893.6L1225.4 896.0M1226.1 883.3L1226.2 885.8M1226.9 886.8L1227.3 889.3M1227.9 879.9L1227.4 882.4M1228.4 880.2L1228.9 882.6M1229.3 892.5L1230.0 894.9M1229.8 872.3L1230.4 874.8M1230.6 857.6L1231.6 859.9M1231.6 879.9L1231.6 882.4M1232.2 909.6L1232.9 912.0M1233.5 855.6L1233.6 858.1M1233.5 868.5L1234.7 870.7M1234.8 893.9L1235.3 896.4M1236.5 870.5L1235.6 872.8M1236.7 882.0L1236.3 884.5M1237.0 861.6L1238.1 863.9M1238.3 866.4L1237.8 868.9M1239.0 902.1L1239.0 904.6M1240.3 874.9L1239.7 877.4M1240.1 883.0L1240.9 885.4M1241.5 865.1L1241.4 867.6M1241.7 869.5L1242.2 871.9M1242.6 856.3L1243.4 858.6M1244.1 877.9L1243.8 880.4M1244.9 870.0L1244.0 872.4M1245.8 881.1L1245.1 883.5M1245.4 875.6L1246.5 877.8M1246.8 881.8L1247.1 884.3M1248.1 860.7L1247.7 863.2M1248.1 866.1L1248.7 868.5M1249.8 871.8L1249.0 874.2M1249.3 874.9L1250.4 877.2M1250.7 883.1L1251.1 885.6M1251.7 870.1L1252.0 872.6M1251.8 863.8L1252.9 866.1M1253.8 868.9L1252.9 871.2M1253.4 890.7L1254.3 893.1M1254.6 874.9L1255.0 877.4M1255.2 858.6L1256.4 860.8M1256.3 860.0L1256.3 862.5M1257.5 866.3L1257.1 868.8M1257.9 867.8L1257.7 870.2M1259.3 870.0L1258.2 872.2M1259.7 867.0L1258.8 869.4M1259.7 860.4L1260.8 862.7M1260.8 867.5L1261.7 869.9M1261.7 895.3L1261.7 897.8M1262.2 860.0L1263.2 862.3M1262.8 877.6L1263.6 879.9M1264.1 872.2L1264.2 874.7M1264.7 864.7L1264.7 867.2M1265.9 863.4L1265.4 865.9M1266.2 877.5L1267.1 879.8M1267.4 856.4L1266.9 858.9M1268.1 890.9L1268.1 893.4M1269.1 859.8L1268.2 862.1M1269.7 858.7L1269.5 861.2M1270.0 838.4L1270.2 840.9M1270.5 887.2L1271.6 889.5M1271.4 864.4L1271.7 866.9M1273.1 875.7L1272.0 877.9M1274.0 857.2L1273.1 859.5M1274.2 869.1L1273.9 871.6M1274.8 862.5L1275.2 865.0M1275.1 876.6L1276.0 878.9M1276.9 873.2L1276.1 875.6M1276.8 851.9L1277.2 854.4M1278.3 842.1L1277.6 844.5M1278.2 893.3L1278.8 895.7M1279.1 883.5L1279.8 885.9M1280.2 848.0L1279.7 850.5M1280.6 870.0L1281.3 872.4M1281.3 864.3L1281.6 866.8M1282.8 863.0L1282.0 865.3M1283.8 870.2L1283.0 872.6M1284.1 860.1L1283.7 862.6M1285.2 858.1L1284.5 860.5M1285.3 865.1L1285.4 867.6M1286.9 861.3L1285.8 863.5M1287.0 869.1L1286.6 871.6M1287.3 856.0L1288.4 858.2M1287.8 893.1L1288.9 895.4M1288.9 856.7L1289.7 859.1M1289.6 873.9L1290.0 876.4M1290.6 879.8L1291.0 882.2M1291.9 879.0L1290.7 881.2M1292.5 860.6L1292.0 863.1M1292.6 874.9L1292.9 877.4M1293.6 897.1L1293.8 899.6M1294.6 882.3L1293.9 884.7M1295.8 869.3L1294.7 871.6M1296.1 851.1L1295.3 853.5M1296.6 863.9L1296.8 866.4M1297.4 870.1L1297.0 872.5M1298.7 885.8L1297.6 888.1M1298.3 883.6L1299.1 885.9M1299.2 869.6L1300.1 871.9M1300.4 865.9L1299.8 868.3M1301.4 852.8L1300.8 855.2M1302.1 834.7L1301.2 837.0M1302.7 870.7L1302.6 873.2M1303.0 880.0L1303.2 882.5M1304.1 869.0L1304.0 871.5M1304.1 864.1L1305.1 866.4M1305.4 877.6L1305.7 880.1M1306.0 871.2L1306.2 873.7M1307.1 868.9L1307.0 871.4M1307.4 844.8L1307.7 847.3M1308.3 872.0L1308.7 874.4M1309.0 846.2L1309.0 848.7M1310.6 856.0L1309.4 858.2M1310.9 864.7L1310.1 867.1M1311.2 865.3L1311.8 867.7M1311.4 868.2L1312.5 870.4M1313.1 849.0L1312.8 851.5M1313.9 859.7L1313.0 862.1M1314.5 855.5L1314.4 858.0M1314.6 844.8L1315.3 847.2M1315.6 843.1L1316.2 845.5M1317.0 886.8L1315.9 889.0M1317.4 843.8L1317.5 846.3M1318.1 845.0L1317.7 847.5M1318.8 853.9L1319.0 856.4M1319.4 860.8L1319.4 863.3M1320.2 876.3L1320.5 878.8M1321.3 845.9L1320.5 848.2M1321.8 881.7L1322.0 884.2M1322.1 870.3L1322.7 872.7M1322.3 861.9L1323.4 864.2M1324.1 861.1L1323.6 863.5M1323.8 837.5L1324.9 839.8M1325.2 852.1L1325.4 854.6M1325.6 834.4L1326.1 836.9M1326.7 841.9L1326.9 844.4M1327.2 858.7L1327.4 861.2M1327.7 864.5L1328.9 866.7M1328.4 843.7L1329.2 846.1M1330.3 852.3L1329.3 854.6M1330.6 882.8L1330.0 885.2M1330.8 871.1L1331.7 873.4M1332.1 853.3L1331.4 855.7M1332.2 863.9L1332.3 866.4M1333.7 828.2L1332.8 830.6M1333.4 882.4L1334.1 884.8M1334.4 868.7L1335.0 871.1M1335.6 857.7L1334.8 860.0M1336.2 851.4L1336.2 853.9M1337.3 860.2L1336.2 862.5M1337.3 820.8L1338.1 823.2M1337.7 867.0L1338.7 869.3M1338.6 855.5L1338.8 857.9M1339.1 866.3L1340.2 868.6M1340.3 872.8L1340.0 875.3M1341.7 854.3L1340.7 856.6M1342.1 844.2L1341.2 846.6M1343.0 854.1L1342.3 856.5M1343.7 856.0L1342.6 858.3M1343.6 859.5L1343.7 862.0M1344.3 855.2L1344.9 857.6M1345.7 883.2L1344.5 885.4M1346.3 885.1L1345.9 887.5M1347.1 873.4L1346.2 875.8M1347.9 850.8L1347.3 853.2M1348.3 881.8L1347.9 884.3M1349.1 853.2L1348.1 855.4M1350.0 846.0L1349.1 848.4M1350.0 837.8L1350.1 840.3M1351.3 857.5L1350.9 859.9M1351.9 852.0L1351.3 854.4M1352.2 853.1L1353.0 855.5M1353.1 861.9L1353.0 864.4M1353.7 859.2L1353.4 861.7M1354.5 861.3L1354.6 863.8M1355.5 868.8L1354.6 871.1M1356.0 845.9L1356.1 848.4M1356.2 870.1L1356.9 872.5M1357.4 848.0L1356.7 850.4M1357.4 861.6L1358.6 863.8M1358.0 867.8L1359.0 870.1M1359.7 842.2L1359.3 844.6M1360.3 862.2L1359.7 864.7M1360.2 862.2L1360.8 864.7M1361.2 868.6L1361.8 871.1M1361.6 854.4L1362.4 856.7M1362.4 851.8L1363.5 854.1M1363.5 862.0L1363.5 864.5M1364.1 852.6L1363.8 855.1M1365.2 808.0L1364.7 810.4M1365.5 859.5L1365.4 862.0M1366.7 857.9L1366.2 860.3M1366.5 866.2L1367.4 868.5M1368.0 822.6L1366.9 824.9M1368.1 832.8L1368.8 835.2M1369.1 857.5L1368.7 860.0M1369.9 853.9L1368.9 856.2M1370.6 848.8L1370.2 851.3M1371.5 825.3L1370.3 827.5M1372.2 865.1L1371.6 867.5M1373.0 847.4L1371.8 849.6M1372.9 835.8L1372.9 838.3M1374.0 885.1L1373.8 887.6M1373.9 857.3L1374.9 859.6M1375.7 858.7L1375.0 861.1M1376.4 861.0L1375.4 863.3M1376.7 835.1L1376.1 837.5M1377.8 856.9L1376.9 859.3M1378.3 829.7L1377.4 832.0M1378.8 877.7L1377.9 880.1M1379.8 868.9L1378.9 871.2M1380.0 873.4L1379.7 875.9M1380.7 821.5L1381.0 824.0M1381.5 831.9L1381.1 834.3M1382.4 848.7L1381.3 851.0M1382.9 844.6L1382.8 847.1M1383.0 830.0L1383.6 832.4M1383.9 859.8L1383.7 862.3M1385.0 852.8L1384.6 855.2M1385.7 859.0L1384.9 861.4M1386.1 812.6L1385.5 815.0M1386.4 851.9L1387.2 854.3M1387.5 865.2L1387.1 867.7M1387.9 848.7L1387.6 851.2M1388.3 887.3L1389.3 889.6M1389.5 876.2L1389.1 878.6M1390.6 847.8L1389.9 850.2M1391.2 846.1L1390.4 848.5M1391.6 833.2L1390.9 835.6M1392.0 860.1L1392.5 862.5M1392.5 843.2L1393.0 845.6M1393.2 862.0L1393.3 864.5M1394.7 828.4L1393.8 830.8M1394.3 835.8L1395.2 838.1M1395.4 857.5L1395.0 859.9M1396.7 839.4L1395.7 841.6M1397.1 820.6L1396.3 822.9M1397.7 860.7L1396.7 863.0M1398.4 866.9L1398.0 869.4M1398.3 864.9L1399.1 867.3M1399.3 838.2L1399.1 840.7M1400.5 848.0L1399.9 850.4M1400.3 837.6L1401.1 840.0M1401.3 851.1L1401.1 853.5M1402.6 837.3L1401.8 839.7M1402.1 845.8L1403.3 848.0M1403.4 880.7L1402.9 883.1M1404.3 804.1L1404.1 806.6M1404.8 832.8L1404.5 835.3M1404.9 859.4L1405.4 861.9M1405.6 823.2L1406.7 825.5M1406.7 851.8L1406.6 854.3M1407.7 845.9L1406.6 848.1M1408.0 826.9L1408.3 829.4M1408.9 811.8L1408.4 814.3M1409.7 864.3L1408.6 866.6M1409.1 827.5L1410.1 829.8M1411.0 836.9L1410.2 839.3M1411.7 880.4L1410.6 882.6" fill="none" stroke="#0000ff" stroke-width="7.5" stroke-linecap="round" stroke-linejoin="round" stroke-opacity="0.9"/><path d="M1203.4 919.5L1203.8 919.5M1388.2 902.0L1388.2 905.0M1282.0 902.5L1282.0 905.0M1376.0 893.0L1376.0 897.0M1404.0 889.0L1404.0 893.0" fill="none" stroke="#0000ff" stroke-width="7.5" stroke-linecap="round" stroke-linejoin="round" stroke-opacity="0.9"/></g>
<g><path d="M653.5 1682.0L653.6 1680.0L653.8 1678.0L653.9 1676.0L654.1 1674.0L654.2 1672.0L654.3 1670.0L654.5 1668.0L654.6 1666.0L654.7 1664.0L654.9 1662.0L655.0 1660.0L655.1 1658.0L655.3 1656.0L655.4 1654.0L655.5 1652.0L655.7 1650.0L655.8 1648.0L655.9 1646.0L656.0 1644.0L656.2 1642.0L656.3 1640.0L656.4 1638.0L656.6 1636.0L656.7 1634.0L656.8 1632.0L656.9 1630.0L657.1 1627.9L657.2 1625.9L657.3 1623.9L657.4 1621.9L657.6 1619.9L657.7 1617.9L657.8 1615.9L657.9 1613.9L658.0 1611.9L658.2 1609.9L658.3 1607.9L658.4 1605.9L658.5 1603.9L658.6 1601.9L658.8 1599.9L658.9 1597.9L659.0 1595.9L659.1 1593.9L659.2 1591.9L659.4 1589.9L659.5 1587.9L659.6 1585.9L659.7 1583.9L659.8 1581.9L659.9 1579.9L660.0 1577.9L660.2 1575.9L660.3 1573.9L660.4 1571.9L660.5 1569.9L660.6 1567.9L660.7 1565.9L660.8 1563.9L660.9 1561.9L661.1 1559.9L661.2 1557.9L661.3 1555.9L661.4 1553.9L661.5 1551.9L661.6 1549.9L661.7 1547.9L661.8 1545.9L661.9 1543.9L662.0 1541.9L662.1 1539.9L662.2 1537.9L662.4 1535.9L662.5 1533.9L662.6 1531.9L662.7 1529.9L662.8 1527.9L662.9 1525.9L663.0 1523.9L663.1 1521.9L663.2 1519.9L663.3 1517.9L663.4 1515.9L663.5 1513.9L663.6 1511.9L663.7 1509.9L663.8 1507.9L663.9 1505.9L664.0 1503.9L664.1 1501.9L664.2 1499.9L664.3 1497.9L664.4 1495.9L664.5 1493.9L664.6 1491.9L664.7 1489.9L664.8 1487.9L664.9 1485.9L665.0 1483.9L665.1 1481.9L665.2 1479.9L665.3 1477.9L665.4 1475.9L665.5 1473.9L665.6 1471.9L665.6 1469.9L665.7 1467.9L665.8 1465.9L665.9 1463.9L666.0 1461.9L666.1 1459.9L666.2 1457.9L666.3 1455.9L666.4 1453.9L666.5 1451.8L666.6 1449.8L666.7 1447.8L666.8 1445.8L666.9 1443.8L666.9 1441.8L667.0 1439.8L667.1 1437.8L667.2 1435.8L667.3 1433.8L667.4 1431.8L667.5 1429.8L667.6 1427.8L667.7 1425.8L667.8 1423.8L667.8 1421.8L667.9 1419.8L668.0 1417.8L668.1 1415.8L668.2 1413.8L668.3 1411.8L668.4 1409.8L668.5 1407.8L668.5 1405.8L668.6 1403.8L668.7 1401.8L668.8 1399.8L668.9 1397.8L669.0 1395.8L669.1 1393.8L669.1 1391.8L669.2 1389.8L669.3 1387.8L669.4 1385.8L669.5 1383.8L669.6 1381.8L669.6 1379.8L669.7 1377.8L669.8 1375.8L669.9 1373.8L670.0 1371.8L670.1 1369.8L670.1 1367.8L670.2 1365.8L670.3 1363.8L670.4 1361.8L670.5 1359.8L670.5 1357.8L670.6 1355.8L670.7 1353.8L670.8 1351.8L670.9 1349.8L671.0 1347.8L671.0 1345.8L671.1 1343.8L671.2 1341.8L671.3 1339.8L671.4 1337.8L671.4 1335.8L671.5 1333.8L671.6 1331.8L671.7 1329.8L671.8 1327.8L671.8 1325.8L671.9 1323.8L672.0 1321.8L672.1 1319.8L672.1 1317.8L672.2 1315.8L672.3 1313.8L672.4 1311.8L672.5 1309.8L672.5 1307.8L672.6 1305.8L672.7 1303.8L672.8 1301.8L672.8 1299.8L672.9 1297.8L673.0 1295.8L673.1 1293.8L673.2 1291.8L673.2 1289.8L673.3 1287.8L673.4 1285.8L673.5 1283.8L673.5 1281.8L673.6 1279.8L673.7 1277.8L673.8 1275.8L673.8 1273.8L673.9 1271.8L674.0 1269.8L674.1 1267.8L674.1 1265.8L674.2 1263.8L674.3 1261.8L674.4 1259.8L674.5 1257.8L674.5 1255.8L674.6 1253.8L674.7 1251.8L674.8 1249.8L674.8 1247.8L674.9 1245.8L675.0 1243.8L675.1 1241.8L675.1 1239.8L675.2 1237.8L675.3 1235.8L675.4 1233.8L675.4 1231.8L675.5 1229.8L675.6 1227.8L675.7 1225.8L675.7 1223.8L675.8 1221.8L675.9 1219.8L676.0 1217.8L676.0 1215.8L676.1 1213.8L676.2 1211.8L676.3 1209.8L676.3 1207.8L676.4 1205.8L676.5 1203.8L676.6 1201.8L676.6 1199.8L676.7 1197.8L676.8 1195.8L676.9 1193.8L676.9 1191.8L677.0 1189.8L677.1 1187.8L677.1 1185.8L677.2 1183.8L677.3 1181.8L677.4 1179.8L677.4 1177.8L677.5 1175.8L677.6 1173.8L677.7 1171.8L677.7 1169.8L677.8 1167.8L677.9 1165.8L678.0 1163.8L678.0 1161.8L678.1 1159.8L678.2 1157.8L678.3 1155.8L678.4 1153.8L678.4 1151.8L678.5 1149.8L678.6 1147.8L678.7 1145.8L678.7 1143.8L678.8 1141.8L678.9 1139.8L679.0 1137.8L679.0 1135.8L679.1 1133.8L679.2 1131.8L679.3 1129.8L679.3 1127.8L679.4 1125.8L679.5 1123.8L679.6 1121.8L679.6 1119.8L679.7 1117.8L679.8 1115.8L679.9 1113.8L680.0 1111.8L680.0 1109.8L680.1 1107.8L680.2 1105.8L680.3 1103.8L680.3 1101.8L680.4 1099.8L680.5 1097.8L680.6 1095.8L680.6 1093.8L680.7 1091.8L680.8 1089.8L680.9 1087.8L681.0 1085.8L681.0 1083.8L681.1 1081.8L681.2 1079.8L681.3 1077.8L681.4 1075.8L681.4 1073.8L681.5 1071.8L681.6 1069.8L681.7 1067.8L681.8 1065.8L681.8 1063.8L681.9 1061.8L682.0 1059.8L682.1 1057.8L682.2 1055.8L682.2 1053.8L682.3 1051.8L682.4 1049.8L682.5 1047.8L682.6 1045.8L682.6 1043.8L682.7 1041.8L682.8 1039.8L682.9 1037.8L683.0 1035.8L683.1 1033.8L683.1 1031.8L683.2 1029.8L683.3 1027.8L683.4 1025.8L683.5 1023.8L683.6 1021.8L683.6 1019.8L683.7 1017.8L683.8 1015.8L683.9 1013.8L684.0 1011.8L684.1 1009.8L684.1 1007.8L684.2 1005.8L684.3 1003.8L684.4 1001.8L684.5 999.8L684.6 997.8L684.7 995.8L684.8 993.8L684.8 991.8L684.9 989.8L685.0 987.8L685.1 985.8L685.2 983.8L685.3 981.8L685.4 979.8L685.5 977.8L685.5 975.8L685.6 973.8L685.7 971.8L685.8 969.8L685.9 967.8L686.0 965.8L686.1 963.8L686.2 961.8L686.3 959.8L686.4 957.8L686.4 955.8L686.5 953.8L686.6 951.8L686.7 949.8L686.8 947.8L686.9 945.8L687.0 943.8L687.1 941.8L687.2 939.8L687.3 937.8L687.4 935.8L687.5 933.8L687.6 931.8L687.7 929.8L687.8 927.8L687.9 925.8L688.0 923.8L688.1 921.8L688.1 919.8L688.2 917.8L688.3 915.8L688.4 913.8L688.5 911.8L688.6 909.7L688.7 907.7L688.8 905.7L688.9 903.7L689.0 901.7L689.1 899.7L689.2 897.7L689.3 895.7L689.4 893.7L689.5 891.7L689.6 889.7L689.7 887.7L689.8 885.7L690.0 883.7L690.1 881.7L690.2 879.7L690.3 877.7L690.4 875.7L690.5 873.7L690.6 871.7L690.7 869.7L690.8 867.7L690.9 865.7L691.0 863.7L691.1 861.7L691.2 859.7L691.3 857.7L691.4 855.7L691.5 853.7L691.6 851.7L691.8 849.7L691.9 847.7L692.0 845.7L692.1 843.7L692.2 841.7L692.3 839.7L692.4 837.7L692.5 835.7L692.6 833.7L692.8 831.7L692.9 829.7L693.0 827.7L693.1 825.7L693.2 823.7L693.3 821.7L693.4 819.7L693.6 817.7L693.7 815.7L693.8 813.7L693.9 811.7L694.0 809.7L694.2 807.7L694.3 805.7L694.4 803.7L694.5 801.7L694.6 799.7L694.8 797.7L694.9 795.7L695.0 793.7L695.1 791.7L695.3 789.7L695.4 787.7L695.5 785.7L695.6 783.7L695.8 781.7L695.9 779.7L696.0 777.7L696.1 775.7L696.3 773.7L696.4 771.7L696.5 769.7L696.7 767.7L696.8 765.7L696.9 763.7L697.1 761.7L697.2 759.7L697.4 757.7L697.5 755.7L697.6 753.7L697.8 751.7L697.9 749.7L698.1 747.7L698.2 745.7L698.3 743.7L698.5 741.7L698.6 739.7L698.8 737.7L698.9 735.7L699.1 733.7L699.2 731.7L699.4 729.7L699.5 727.7L699.7 725.7L699.8 723.7L700.0 721.7L700.2 719.7L700.3 717.7L700.5 715.7L700.6 713.7L700.8 711.7L701.0 709.7L701.1 707.7L701.3 705.7L701.5 703.7L701.6 701.7L701.8 699.7L702.0 697.7L702.1 695.7L702.3 693.7L702.5 691.7L702.7 689.7L702.8 687.7L703.0 685.7L703.2 683.7L703.4 681.7L703.5 679.7L703.7 677.7L703.9 675.7L704.1 673.7L704.3 671.7L704.5 669.7L704.7 667.7L704.9 665.8L705.1 663.8L705.2 661.8L705.4 659.8L705.6 657.8L705.8 655.8L706.0 653.8L706.2 651.8L706.4 649.8L706.7 647.8L706.9 645.8L707.1 643.8L707.3 641.8L707.5 639.8L707.7 637.8L707.9 635.8L708.1 633.8L708.4 631.9L708.6 629.9L708.8 627.9L709.0 625.9L709.2 623.9L709.5 621.9L709.7 619.9L709.9 617.9L710.2 615.9L710.4 613.9L710.6 611.9L710.9 610.0L711.1 608.0L711.4 606.0L711.6 604.0L711.8 602.0L712.1 600.0L712.3 598.0L712.6 596.0L712.8 594.0L713.1 592.0L713.3 590.1L713.6 588.1L713.9 586.1L714.1 584.1L714.4 582.1L714.7 580.1L714.9 578.1L715.2 576.2L715.5 574.2L715.7 572.2L716.0 570.2L716.3 568.2L716.6 566.2L716.9 564.2L717.1 562.3L717.4 560.3L717.7 558.3L718.0 556.3L718.3 554.3L718.6 552.3L718.9 550.4L719.2 548.4L719.5 546.4L719.8 544.4L720.1 542.4L720.4 540.4L720.7 538.5L721.0 536.5L721.4 534.5L721.7 532.5L722.0 530.5L722.3 528.6L722.6 526.6L723.0 524.6L723.3 522.6L723.6 520.6L724.0 518.7L724.3 516.7L724.6 514.7L725.0 512.7L725.3 510.7L725.7 508.8L726.0 506.8L726.4 504.8L726.7 502.8L727.1 500.9L727.4 498.9L727.8 496.9L728.2 494.9L728.5 493.0L728.9 491.0L729.3 489.0L729.6 487.0L730.0 485.1L730.4 483.1L730.8 481.1L731.2 479.2L731.6 477.2L731.9 475.2L732.3 473.2L732.7 471.3L733.1 469.3L733.5 467.3L733.9 465.4L734.3 463.4L734.7 461.4L735.2 459.4L735.6 457.5L736.0 455.5L736.4 453.5L736.8 451.6L737.3 449.6L737.7 447.6L738.1 445.7L738.5 443.7L739.0 441.8L739.4 439.8L739.9 437.8L740.3 435.9L740.8 433.9L741.2 431.9L741.7 430.0L742.1 428.0L742.6 426.1L743.1 424.1L743.5 422.2L744.0 420.2L744.5 418.3L745.0 416.3L745.5 414.4L746.0 412.4L746.4 410.5L746.9 408.5L747.4 406.6L747.9 404.6L748.4 402.7L749.0 400.7L749.5 398.8L750.0 396.8L750.5 394.9L751.0 393.0L751.6 391.0L752.1 389.1L752.6 387.2L753.2 385.2L753.7 383.3L754.3 381.4L754.8 379.4L755.4 377.5L756.0 375.6L756.5 373.7L757.1 371.8L757.7 369.8L758.3 367.9L758.8 366.0L759.4 364.1L760.0 362.2L760.6 360.3L761.2 358.4L761.8 356.5L762.4 354.5L763.1 352.6L763.7 350.7L764.3 348.8L764.9 347.0L765.6 345.1L766.2 343.2L766.9 341.3L767.5 339.4L768.2 337.5L768.8 335.6L769.5 333.7L770.2 331.9L770.8 330.0L771.5 328.1L772.2 326.2L772.9 324.4L773.6 322.5L774.3 320.6L775.0 318.8L775.7 316.9L776.4 315.1L777.1 313.2L777.9 311.3L778.6 309.5L779.3 307.6L780.1 305.8L780.8 304.0L781.6 302.1L782.3 300.3L783.1 298.5L783.9 296.6L784.7 294.8L785.4 293.0L786.2 291.1L787.0 289.3L787.8 287.5L788.6 285.7L789.4 283.9L790.2 282.1L791.1 280.3L791.9 278.5L792.7 276.7L793.6 274.9L794.4 273.1L795.3 271.3L796.1 269.5L797.0 267.7L797.9 265.9L798.7 264.2L799.6 262.4L800.5 260.6L801.4 258.9L802.3 257.1L803.2 255.3L804.1 253.6L805.1 251.8L806.0 250.1L806.9 248.3L807.9 246.6L808.8 244.9L809.8 243.1L810.7 241.4L811.7 239.7L812.7 237.9L813.7 236.2L814.6 234.5L815.6 232.8L816.6 231.1L817.7 229.4L818.7 227.7L819.7 226.0L820.7 224.3L821.8 222.6L822.8 220.9L823.8 219.2L824.9 217.6L826.0 215.9L827.0 214.2L828.1 212.6L829.2 210.9L830.3 209.3L831.4 207.6L832.5 206.0L833.6 204.3L834.7 202.7L835.9 201.1L837.0 199.4L838.2 197.8L839.3 196.2L840.5 194.6L841.6 193.0L842.8 191.4L844.0 189.8L845.2 188.2L846.4 186.6L847.6 185.0L848.8 183.4L850.0 181.8L851.2 180.3L852.5 178.7L853.7 177.1L855.0 175.6L856.2 174.0L857.5 172.5L858.8 171.0L860.0 169.4L861.3 167.9L862.6 166.4L863.9 164.8L865.3 163.3L866.6 161.8L867.9 160.3L869.3 158.8L870.6 157.3L872.0 155.8L873.3 154.4L874.7 152.9L876.1 151.4L877.5 150.0L878.9 148.5L880.3 147.0L881.7 145.6L883.1 144.2L884.5 142.7L886.0 141.3L887.4 139.9L888.9 138.5L890.3 137.0L891.8 135.6L893.3 134.2L894.8 132.8L896.3 131.5L897.8 130.1L899.3 128.7L900.9 127.3L902.4 126.0L903.9 124.6L905.5 123.3L907.1 121.9L908.6 120.6L910.2 119.3L911.8 117.9L913.4 116.6L915.0 115.3" fill="none" stroke="#ff00ff" stroke-width="7.7" stroke-linecap="round" stroke-linejoin="round" stroke-opacity="0.9"/><path d="M293.6 1674.3L293.6 1676.8M294.4 1672.4L294.4 1674.9M295.1 1675.7L296.1 1678.0M296.4 1671.3L296.4 1673.8M297.1 1661.9L298.1 1664.2M298.5 1668.9L299.1 1671.3M299.4 1673.9L299.8 1676.4M300.3 1669.2L301.3 1671.5M302.2 1668.3L301.8 1670.8M302.7 1673.2L303.6 1675.5M304.2 1668.1L303.6 1670.5M305.1 1666.3L305.0 1668.8M306.6 1664.0L305.8 1666.4M307.6 1665.0L307.0 1667.4M307.6 1661.2L308.4 1663.6M309.5 1658.6L308.7 1660.9M309.7 1661.6L310.6 1663.9M311.0 1664.9L311.4 1667.3M312.8 1662.1L311.8 1664.4M312.9 1656.6L313.6 1659.0M314.3 1657.2L314.4 1659.7M315.8 1654.6L314.9 1656.9M316.2 1660.1L315.8 1662.6M317.5 1652.2L316.5 1654.5M317.9 1648.9L318.1 1651.4M319.5 1650.2L318.4 1652.5M320.2 1646.3L319.7 1648.8M320.6 1648.3L321.3 1650.7M322.5 1650.7L321.4 1653.0M322.3 1648.4L323.4 1650.7M323.7 1644.6L323.9 1647.1M325.2 1644.8L324.3 1647.1M325.4 1640.0L326.0 1642.4M326.2 1637.1L327.1 1639.4M327.3 1644.2L327.9 1646.7M328.1 1641.9L329.0 1644.2M329.3 1641.3L329.6 1643.8M330.7 1639.6L330.1 1642.0M331.0 1636.7L331.7 1639.2M332.2 1633.4L332.4 1635.9M333.2 1632.6L333.2 1635.1M334.0 1636.8L334.3 1639.3M335.4 1629.7L335.4 1632.2M336.1 1627.1L336.5 1629.5M336.7 1630.6L337.8 1632.8M337.7 1628.8L338.6 1631.2M339.5 1628.2L338.7 1630.5M339.9 1624.4L340.2 1626.8M340.6 1625.2L341.3 1624.6M342.0 1623.2L342.4 1622.3M343.0 1620.7L343.9 1620.4M344.4 1622.6L345.1 1621.9M345.8 1623.7L346.8 1623.5M347.4 1612.6L348.4 1612.4M349.9 1616.5L349.8 1615.5M351.8 1613.1L351.8 1612.1M354.0 1608.6L354.1 1607.6M356.5 1610.0L356.8 1609.0M359.4 1603.1L360.4 1603.0M363.3 1598.6L363.7 1598.1M367.8 1593.6L368.2 1593.1M372.3 1588.3L372.8 1587.7M377.1 1582.5L377.6 1581.9M382.1 1576.3L382.7 1575.6M387.4 1569.7L388.0 1568.9M392.9 1562.6L393.5 1561.8M398.4 1555.4L399.1 1554.6M404.2 1547.9L404.8 1547.0M410.2 1539.8L410.8 1538.9M416.1 1531.8L416.8 1530.8M422.3 1523.2L423.0 1522.3M428.4 1514.6L429.1 1513.6M434.7 1505.6L435.4 1504.5" fill="none" stroke="#ff00ff" stroke-width="7.5" stroke-linecap="round" stroke-linejoin="round" stroke-opacity="0.9"/><path d="M441.4 1497.7L442.2 1497.0M448.1 1491.0L449.0 1490.1M456.4 1481.5L457.3 1480.4M464.5 1472.8L465.5 1471.7M473.2 1462.6L474.2 1461.4M481.8 1451.6L482.9 1450.4M491.8 1441.1L493.0 1439.7M502.6 1428.6L503.8 1427.1M513.0 1417.0L514.3 1415.6M524.1 1405.4L525.5 1403.9M535.7 1392.0L537.1 1390.3M547.2 1378.6L548.8 1376.7M561.0 1361.3L562.7 1359.2M574.2 1344.9L575.9 1342.8M587.6 1327.5L589.4 1325.0M602.1 1306.5L603.9 1303.6M616.6 1282.5L618.4 1279.3M630.2 1256.6L631.9 1253.0M642.8 1227.0L644.3 1222.8M654.5 1192.8L655.8 1187.5M663.3 1147.7L664.3 1141.8M669.6 1103.4L670.4 1097.4M677.0 1057.0L677.8 1051.1M681.9 1012.6L682.5 1006.7M686.4 967.1L687.7 961.7M701.3 929.9L703.2 926.5M714.9 912.6L716.2 911.0M722.8 902.2L723.7 901.2M731.2 894.9L732.2 894.0M739.7 886.4L740.5 885.6M745.9 880.2L746.5 879.7M751.9 875.3L752.5 874.9M757.9 871.7L758.6 871.3M765.1 866.9L765.8 866.5M771.2 863.7L771.8 863.4" fill="none" stroke="#ff00ff" stroke-width="7.5" stroke-linecap="round" stroke-linejoin="round" stroke-opacity="0.9"/><path d="M776.3 860.1L777.3 859.8M779.4 859.2L780.4 859.1M782.1 857.3L782.9 856.6M785.0 856.2L785.9 855.8M787.1 856.1L788.0 855.8M789.8 853.4L790.3 852.6M791.7 849.5L792.4 848.8M793.9 848.7L794.4 847.8M795.9 848.3L796.5 847.5M797.9 847.1L798.8 846.6M799.9 847.8L800.4 846.9M801.5 844.9L802.5 844.6M803.4 843.0L804.4 843.0M805.3 843.9L806.3 843.6M807.3 842.4L808.2 842.9M808.9 842.1L809.5 841.3M810.9 841.4L811.4 840.5M812.7 842.2L813.4 841.5M814.5 839.9L815.4 840.2M816.4 840.3L817.3 839.8M818.0 842.1L818.6 841.3M819.7 839.0L820.7 838.7M821.6 840.3L822.6 840.1M823.1 839.6L824.0 839.3M825.1 836.7L825.7 835.9M826.4 837.0L827.4 837.3M828.3 835.9L829.2 836.4M829.7 836.4L830.7 836.4M831.6 834.0L832.6 833.7M833.2 834.6L833.9 833.9M835.0 834.7L835.8 834.1M836.4 833.0L837.3 832.7M837.8 836.2L838.8 836.5M839.9 834.3L840.5 833.5M841.1 832.5L842.1 832.8M842.7 834.3L843.5 833.7M844.7 832.6L845.3 831.9M846.0 828.9L847.0 828.8M847.5 830.4L848.4 830.7M849.0 830.2L849.8 829.6M850.4 827.9L851.4 828.2M851.9 830.7L852.9 830.9M853.3 830.9L854.3 830.7M855.5 829.7L856.1 829.0M856.7 828.5L857.7 828.5M858.2 830.3L859.0 829.6M859.6 829.0L860.5 828.6M861.2 827.0L861.6 826.1M862.3 825.0L863.3 825.2M863.7 823.4L864.7 823.2M864.6 825.8L865.6 826.0M866.0 825.7L866.9 826.0M867.4 822.3L868.3 822.1M869.0 822.8L869.4 821.9M870.3 826.5L870.9 825.7M871.5 820.8L872.5 821.0M872.5 820.9L873.4 821.2M874.0 820.6L874.8 820.1M875.5 824.5L876.2 823.7M876.8 822.9L877.7 822.5M877.7 819.3L878.7 819.6M879.2 817.8L880.1 817.4M880.6 821.4L881.5 820.9M882.0 814.8L882.1 817.3M883.9 815.1L883.0 817.4M883.9 816.6L885.0 818.9M885.8 810.1L885.9 812.6M886.4 814.3L887.2 816.7M888.1 814.1L888.4 816.6M889.0 811.5L889.3 814.0M891.0 818.0L890.2 820.4M891.9 815.2L891.2 817.6M892.7 814.0L893.2 816.4M893.5 813.5L894.3 815.9M895.2 810.7L894.5 813.1M896.4 811.8L896.2 814.3M896.9 814.0L897.6 816.4M899.1 813.0L898.3 815.3M899.2 812.3L900.1 814.6M900.5 809.2L900.7 811.7M901.8 808.6L902.4 811.0M903.5 806.2L902.6 808.5M903.5 816.5L904.6 818.8M905.4 805.8L904.6 808.2M906.1 814.2L906.9 816.5M907.2 811.8L907.7 814.3M908.7 816.2L908.2 818.7M909.4 815.5L909.5 818.0M910.0 805.2L910.9 807.5M911.2 816.0L911.8 818.5M912.4 814.4L912.5 816.9M914.0 801.7L912.9 804.0M915.5 809.7L914.5 811.9M916.4 811.9L915.6 814.3M917.4 800.8L916.6 803.2" fill="none" stroke="#ff00ff" stroke-width="7.5" stroke-linecap="round" stroke-linejoin="round" stroke-opacity="0.9"/></g>
</g>
<g><path d="M1564.0 207.8H1727.8" stroke="#000000" stroke-width="8.6" stroke-linecap="round" stroke-opacity="0.9" fill="none"/><path d="M1782.9 207.8h4.6M1827.5 207.8h4.6M1872.0 207.8h4.6M1917.0 207.8h4.6" stroke="#000000" stroke-width="8.2" stroke-linecap="round" stroke-opacity="0.9" fill="none"/><path d="M1564.0 301.2H1727.8" stroke="#ff0000" stroke-width="8.6" stroke-linecap="round" stroke-opacity="0.9" fill="none"/><path d="M1782.9 301.2h4.6M1827.5 301.2h4.6M1872.0 301.2h4.6M1917.0 301.2h4.6" stroke="#ff0000" stroke-width="8.2" stroke-linecap="round" stroke-opacity="0.9" fill="none"/><path d="M1564.0 394.4H1727.8" stroke="#008e00" stroke-width="8.6" stroke-linecap="round" stroke-opacity="0.97" fill="none"/><path d="M1782.9 394.4h4.6M1827.5 394.4h4.6M1872.0 394.4h4.6M1917.0 394.4h4.6" stroke="#008e00" stroke-width="8.2" stroke-linecap="round" stroke-opacity="0.97" fill="none"/><path d="M1564.0 487.4H1727.8" stroke="#0000ff" stroke-width="8.6" stroke-linecap="round" stroke-opacity="0.9" fill="none"/><path d="M1782.9 487.4h4.6M1827.5 487.4h4.6M1872.0 487.4h4.6M1917.0 487.4h4.6" stroke="#0000ff" stroke-width="8.2" stroke-linecap="round" stroke-opacity="0.9" fill="none"/><path d="M1564.0 580.8H1727.8" stroke="#ff00ff" stroke-width="8.6" stroke-linecap="round" stroke-opacity="0.9" fill="none"/><path d="M1782.9 580.8h4.6M1827.5 580.8h4.6M1872.0 580.8h4.6M1917.0 580.8h4.6" stroke="#ff00ff" stroke-width="8.2" stroke-linecap="round" stroke-opacity="0.9" fill="none"/></g>
<g><text transform="translate(248.8 1703.0) scale(1 1.035)" text-anchor="end" font-size="68" stroke="#000" stroke-width="1.3" stroke-linejoin="round">10<tspan dy="-33.4" font-size="40">-1</tspan></text><text transform="translate(248.8 1434.7) scale(1 1.035)" text-anchor="end" font-size="68" stroke="#000" stroke-width="1.3" stroke-linejoin="round">10<tspan dy="-33.4" font-size="40">0</tspan></text><text transform="translate(248.8 1166.4) scale(1 1.035)" text-anchor="end" font-size="68" stroke="#000" stroke-width="1.3" stroke-linejoin="round">10<tspan dy="-33.4" font-size="40">1</tspan></text><text transform="translate(248.8 898.1) scale(1 1.035)" text-anchor="end" font-size="68" stroke="#000" stroke-width="1.3" stroke-linejoin="round">10<tspan dy="-33.4" font-size="40">2</tspan></text><text transform="translate(248.8 629.8) scale(1 1.035)" text-anchor="end" font-size="68" stroke="#000" stroke-width="1.3" stroke-linejoin="round">10<tspan dy="-33.4" font-size="40">3</tspan></text><text transform="translate(248.8 361.5) scale(1 1.035)" text-anchor="end" font-size="68" stroke="#000" stroke-width="1.3" stroke-linejoin="round">10<tspan dy="-33.4" font-size="40">4</tspan></text><text transform="translate(248.8 93.2) scale(1 1.035)" text-anchor="end" font-size="68" stroke="#000" stroke-width="1.3" stroke-linejoin="round">10<tspan dy="-33.4" font-size="40">5</tspan></text><text transform="translate(279.8 1763.2) scale(1 1.035)" text-anchor="middle" font-size="68" stroke="#000" stroke-width="1.3" stroke-linejoin="round">0</text><text transform="translate(633.9 1763.2) scale(1 1.035)" text-anchor="middle" font-size="68" stroke="#000" stroke-width="1.3" stroke-linejoin="round">100</text><text transform="translate(987.9 1763.2) scale(1 1.035)" text-anchor="middle" font-size="68" stroke="#000" stroke-width="1.3" stroke-linejoin="round">200</text><text transform="translate(1342.0 1763.2) scale(1 1.035)" text-anchor="middle" font-size="68" stroke="#000" stroke-width="1.3" stroke-linejoin="round">300</text><text transform="translate(1696.1 1763.2) scale(1 1.035)" text-anchor="middle" font-size="68" stroke="#000" stroke-width="1.3" stroke-linejoin="round">400</text><text transform="translate(2050.2 1763.2) scale(1 1.035)" text-anchor="middle" font-size="68" stroke="#000" stroke-width="1.3" stroke-linejoin="round">500</text><text transform="translate(1254.6 1896.3) scale(1 1.035)" text-anchor="middle" font-size="82.6" stroke="#000" stroke-width="1.3" stroke-linejoin="round">Time (min)</text><text transform="translate(82.0 924.4) rotate(-90) scale(1 1.035)" text-anchor="middle" font-size="83.3" stroke="#000" stroke-width="1.3" stroke-linejoin="round">G', G" (Pa)</text><text transform="translate(1567.5 141.4) scale(1 1.025)" text-anchor="start" font-size="73.5" font-weight="bold" stroke="#000" stroke-width="1.0" stroke-linejoin="round">G'</text><text transform="translate(1826.0 141.4) scale(1 1.025)" text-anchor="start" font-size="73.5" font-weight="bold" stroke="#000" stroke-width="1.0" stroke-linejoin="round">G"</text><text transform="translate(1978.6 141.4) scale(1 1.025)" text-anchor="start" font-size="73.5" font-weight="bold" stroke="#000" stroke-width="1.0" stroke-linejoin="round">1:2</text><text transform="translate(1969.3 235.1) scale(1 1.035)" text-anchor="start" font-size="66.0" stroke="#000" stroke-width="1.3" stroke-linejoin="round">2:0.56</text><text transform="translate(1969.3 328.5) scale(1 1.035)" text-anchor="start" font-size="66.0" stroke="#000" stroke-width="1.3" stroke-linejoin="round">2:0.61</text><text transform="translate(1969.3 421.7) scale(1 1.035)" text-anchor="start" font-size="66.0" stroke="#000" stroke-width="1.3" stroke-linejoin="round">2:0.66</text><text transform="translate(1969.3 514.7) scale(1 1.035)" text-anchor="start" font-size="66.0" stroke="#000" stroke-width="1.3" stroke-linejoin="round">2:0.71</text><text transform="translate(1969.3 608.1) scale(1 1.035)" text-anchor="start" font-size="66.0" stroke="#000" stroke-width="1.3" stroke-linejoin="round">2:1</text></g>
</svg>
</body>
</html>
